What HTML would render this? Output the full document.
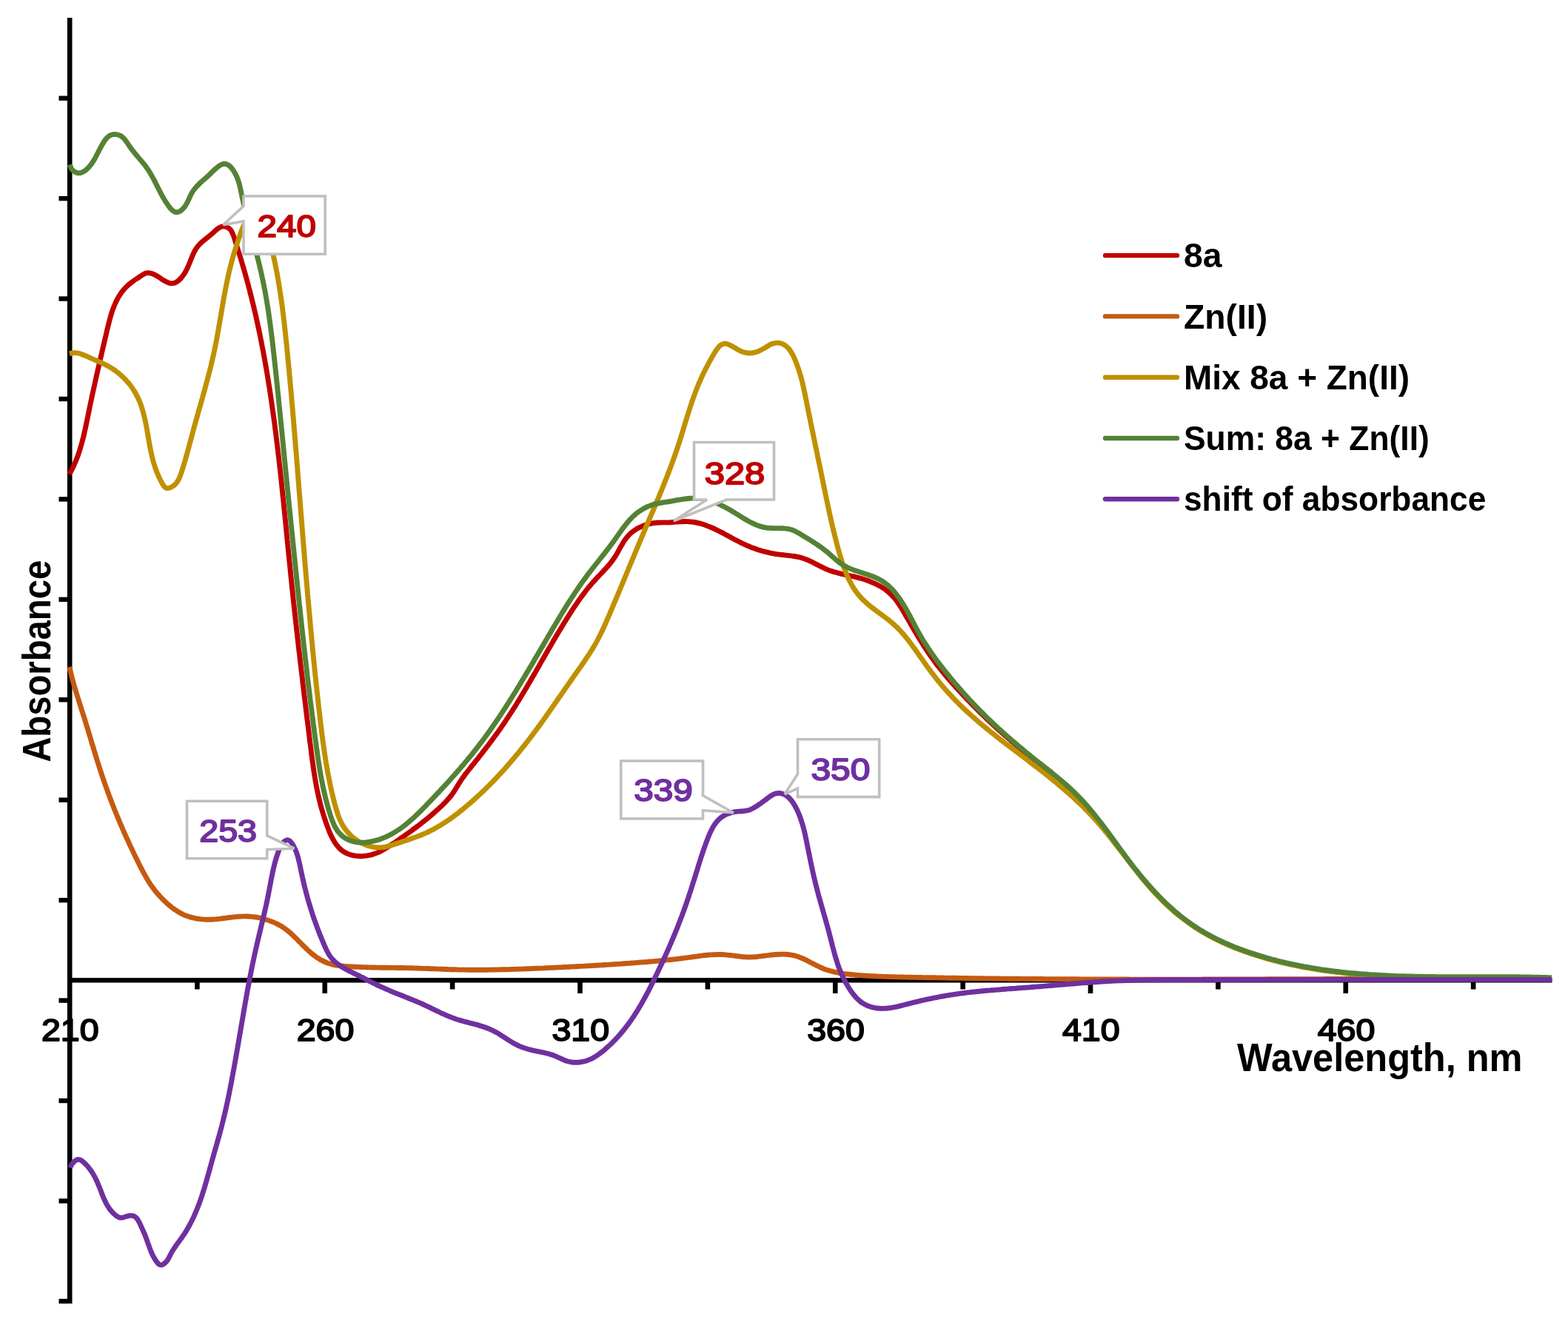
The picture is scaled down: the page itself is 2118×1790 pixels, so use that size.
<!DOCTYPE html>
<html><head><meta charset="utf-8"><title>Absorbance spectra</title>
<style>html,body{margin:0;padding:0;background:#fff;}svg{display:block;}text{font-family:"Liberation Sans",Arial,sans-serif;font-weight:bold;}</style></head><body>
<svg xmlns="http://www.w3.org/2000/svg" width="2118" height="1790" viewBox="0 0 2118 1790">
<rect width="2118" height="1790" fill="#fff"/>
<g><line x1="94.2" y1="24" x2="94.2" y2="1761" stroke="#000" stroke-width="6.6"/><line x1="79.5" y1="132.70" x2="94.2" y2="132.70" stroke="#000" stroke-width="6.4"/><line x1="79.5" y1="268.13" x2="94.2" y2="268.13" stroke="#000" stroke-width="6.4"/><line x1="79.5" y1="403.56" x2="94.2" y2="403.56" stroke="#000" stroke-width="6.4"/><line x1="79.5" y1="538.99" x2="94.2" y2="538.99" stroke="#000" stroke-width="6.4"/><line x1="79.5" y1="674.42" x2="94.2" y2="674.42" stroke="#000" stroke-width="6.4"/><line x1="79.5" y1="809.85" x2="94.2" y2="809.85" stroke="#000" stroke-width="6.4"/><line x1="79.5" y1="945.28" x2="94.2" y2="945.28" stroke="#000" stroke-width="6.4"/><line x1="79.5" y1="1080.71" x2="94.2" y2="1080.71" stroke="#000" stroke-width="6.4"/><line x1="79.5" y1="1216.14" x2="94.2" y2="1216.14" stroke="#000" stroke-width="6.4"/><line x1="79.5" y1="1351.57" x2="94.2" y2="1351.57" stroke="#000" stroke-width="6.4"/><line x1="79.5" y1="1487.00" x2="94.2" y2="1487.00" stroke="#000" stroke-width="6.4"/><line x1="79.5" y1="1622.43" x2="94.2" y2="1622.43" stroke="#000" stroke-width="6.4"/><line x1="79.5" y1="1757.86" x2="94.2" y2="1757.86" stroke="#000" stroke-width="6.4"/><line x1="91.2" y1="1324.3" x2="2096.5" y2="1324.3" stroke="#000" stroke-width="6.6"/><line x1="266.38" y1="1324.3" x2="266.38" y2="1336.5" stroke="#000" stroke-width="6.6"/><line x1="438.75" y1="1324.3" x2="438.75" y2="1342.0" stroke="#000" stroke-width="6.6"/><line x1="611.12" y1="1324.3" x2="611.12" y2="1336.5" stroke="#000" stroke-width="6.6"/><line x1="783.50" y1="1324.3" x2="783.50" y2="1342.0" stroke="#000" stroke-width="6.6"/><line x1="955.88" y1="1324.3" x2="955.88" y2="1336.5" stroke="#000" stroke-width="6.6"/><line x1="1128.25" y1="1324.3" x2="1128.25" y2="1342.0" stroke="#000" stroke-width="6.6"/><line x1="1300.62" y1="1324.3" x2="1300.62" y2="1336.5" stroke="#000" stroke-width="6.6"/><line x1="1473.00" y1="1324.3" x2="1473.00" y2="1342.0" stroke="#000" stroke-width="6.6"/><line x1="1645.38" y1="1324.3" x2="1645.38" y2="1336.5" stroke="#000" stroke-width="6.6"/><line x1="1817.75" y1="1324.3" x2="1817.75" y2="1342.0" stroke="#000" stroke-width="6.6"/><line x1="1990.12" y1="1324.3" x2="1990.12" y2="1336.5" stroke="#000" stroke-width="6.6"/></g>
<path d="M93.74,640.61 C94.1,639.9 95.4,637.7 96.2,636.2 C96.9,634.7 97.7,633.3 98.4,631.8 C99.1,630.3 99.8,628.8 100.5,627.2 C101.2,625.7 101.8,624.2 102.5,622.7 C103.1,621.1 103.7,619.6 104.3,618.0 C104.9,616.5 105.4,614.9 106.0,613.3 C106.5,611.8 107.0,610.2 107.5,608.6 C108.0,607.0 108.5,605.4 109.0,603.8 C109.5,602.2 109.9,600.6 110.4,599.0 C110.8,597.4 111.2,595.8 111.6,594.2 C112.1,592.6 112.5,590.9 112.9,589.3 C113.2,587.7 113.6,586.1 114.0,584.4 C114.4,582.8 114.7,581.2 115.1,579.5 C115.5,577.9 115.8,576.2 116.2,574.6 C116.5,573.0 116.8,571.3 117.2,569.7 C117.5,568.1 117.9,566.4 118.2,564.8 C118.5,563.1 118.9,561.5 119.2,559.9 C119.5,558.2 119.9,556.6 120.2,555.0 C120.5,553.3 120.9,551.7 121.2,550.1 C121.5,548.4 121.9,546.8 122.2,545.2 C122.6,543.6 122.9,541.9 123.3,540.3 C123.6,538.7 124.0,537.1 124.3,535.4 C124.6,533.8 125.0,532.2 125.3,530.6 C125.7,529.0 126.0,527.4 126.4,525.7 C126.8,524.1 127.1,522.5 127.5,520.9 C127.8,519.3 128.2,517.7 128.5,516.0 C128.9,514.4 129.3,512.8 129.6,511.2 C130.0,509.6 130.3,508.0 130.7,506.4 C131.1,504.7 131.4,503.1 131.8,501.5 C132.2,499.9 132.5,498.3 132.9,496.7 C133.3,495.0 133.6,493.4 134.0,491.8 C134.4,490.2 134.7,488.6 135.1,487.0 C135.5,485.3 135.9,483.7 136.2,482.1 C136.6,480.5 137.0,478.9 137.4,477.2 C137.7,475.6 138.1,474.0 138.5,472.4 C138.9,470.7 139.3,469.1 139.6,467.5 C140.0,465.8 140.4,464.2 140.8,462.6 C141.2,460.9 141.5,459.3 141.9,457.7 C142.3,456.0 142.7,454.4 143.1,452.8 C143.5,451.1 143.9,449.5 144.2,447.8 C144.6,446.2 145.0,444.5 145.4,442.9 C145.8,441.2 146.2,439.6 146.6,437.9 C147.0,436.3 147.4,434.7 147.9,433.0 C148.3,431.4 148.7,429.8 149.2,428.1 C149.7,426.5 150.1,424.9 150.6,423.3 C151.1,421.7 151.7,420.1 152.2,418.6 C152.8,417.0 153.3,415.5 154.0,413.9 C154.6,412.4 155.2,410.9 155.9,409.4 C156.5,407.9 157.3,406.4 158.0,405.0 C158.8,403.6 159.5,402.1 160.4,400.8 C161.2,399.4 162.1,398.0 163.0,396.7 C163.9,395.3 164.9,394.0 165.9,392.8 C166.9,391.5 168.0,390.3 169.1,389.1 C170.3,387.9 171.4,386.7 172.7,385.6 C173.9,384.5 175.2,383.4 176.6,382.4 C177.9,381.3 179.3,380.3 180.7,379.3 C182.1,378.3 183.5,377.3 185.0,376.4 C186.4,375.4 187.8,374.4 189.2,373.5 C190.7,372.5 192.1,371.5 193.5,370.7 C194.9,369.9 196.3,369.2 197.8,368.9 C199.3,368.6 200.8,368.6 202.3,368.8 C203.8,369.0 205.3,369.5 206.9,370.2 C208.4,370.8 209.9,371.6 211.4,372.5 C213.0,373.4 214.5,374.4 216.0,375.4 C217.5,376.4 219.0,377.5 220.6,378.4 C222.1,379.3 223.6,380.3 225.0,380.9 C226.5,381.6 228.0,382.3 229.5,382.6 C230.9,382.9 232.4,383.0 233.8,382.7 C235.2,382.5 236.6,382.0 238.0,381.2 C239.3,380.5 240.7,379.5 241.9,378.4 C243.2,377.2 244.4,375.9 245.5,374.5 C246.6,373.2 247.7,371.7 248.7,370.2 C249.7,368.7 250.5,367.2 251.4,365.6 C252.2,364.1 252.9,362.5 253.6,361.0 C254.3,359.4 255.0,357.8 255.6,356.3 C256.3,354.7 256.9,353.1 257.5,351.6 C258.1,350.0 258.7,348.5 259.4,347.0 C260.0,345.5 260.6,344.0 261.3,342.5 C262.0,341.0 262.7,339.6 263.5,338.2 C264.3,336.8 265.1,335.5 266.1,334.2 C267.0,332.9 268.0,331.7 269.1,330.5 C270.2,329.3 271.4,328.2 272.6,327.1 C273.8,326.0 275.1,325.0 276.5,323.9 C277.8,322.8 279.2,321.8 280.5,320.7 C281.9,319.6 283.3,318.5 284.6,317.3 C286.0,316.2 287.3,315.0 288.6,313.8 C289.9,312.6 291.2,311.3 292.5,310.2 C293.9,309.2 295.2,308.1 296.6,307.4 C298.0,306.6 299.4,306.0 300.9,305.9 C302.4,305.7 304.2,305.9 305.6,306.4 C307.1,306.9 308.5,307.7 309.6,308.6 C310.7,309.6 311.7,310.8 312.5,312.1 C313.3,313.4 314.0,314.9 314.6,316.4 C315.3,318.0 315.8,319.6 316.4,321.2 C316.9,322.8 317.4,324.5 317.9,326.1 C318.5,327.8 319.0,329.4 319.5,331.0 C320.0,332.6 320.5,334.3 321.0,335.9 C321.5,337.5 322.0,339.1 322.5,340.7 C323.0,342.4 323.5,344.0 324.0,345.6 C324.5,347.2 325.0,348.8 325.5,350.4 C326.0,352.0 326.4,353.7 326.9,355.3 C327.4,356.9 327.9,358.5 328.3,360.1 C328.8,361.7 329.3,363.3 329.7,364.9 C330.2,366.5 330.6,368.1 331.1,369.7 C331.5,371.3 332.0,372.9 332.4,374.5 C332.9,376.1 333.3,377.7 333.8,379.4 C334.2,381.0 334.6,382.6 335.1,384.2 C335.5,385.8 335.9,387.4 336.3,389.0 C336.8,390.6 337.2,392.2 337.6,393.8 C338.0,395.4 338.4,397.0 338.8,398.6 C339.2,400.3 339.6,401.9 340.0,403.5 C340.4,405.1 340.8,406.7 341.2,408.3 C341.6,409.9 342.0,411.6 342.4,413.2 C342.8,414.8 343.2,416.4 343.5,418.0 C343.9,419.6 344.3,421.3 344.7,422.9 C345.0,424.5 345.4,426.1 345.8,427.7 C346.1,429.3 346.5,431.0 346.9,432.6 C347.2,434.2 347.6,435.8 347.9,437.5 C348.3,439.1 348.6,440.7 349.0,442.3 C349.3,444.0 349.7,445.6 350.0,447.2 C350.4,448.8 350.7,450.5 351.0,452.1 C351.4,453.7 351.7,455.3 352.0,457.0 C352.3,458.6 352.7,460.2 353.0,461.9 C353.3,463.5 353.6,465.1 353.9,466.7 C354.3,468.4 354.6,470.0 354.9,471.6 C355.2,473.3 355.5,474.9 355.8,476.5 C356.1,478.2 356.4,479.8 356.7,481.4 C357.0,483.1 357.3,484.7 357.6,486.3 C357.9,488.0 358.2,489.6 358.5,491.3 C358.8,492.9 359.1,494.5 359.3,496.2 C359.6,497.8 359.9,499.4 360.2,501.1 C360.5,502.7 360.7,504.4 361.0,506.0 C361.3,507.6 361.6,509.3 361.8,510.9 C362.1,512.6 362.4,514.2 362.6,515.8 C362.9,517.5 363.1,519.1 363.4,520.8 C363.7,522.4 363.9,524.1 364.2,525.7 C364.4,527.4 364.7,529.0 364.9,530.6 C365.2,532.3 365.4,533.9 365.7,535.6 C365.9,537.2 366.2,538.9 366.4,540.5 C366.7,542.2 366.9,543.8 367.1,545.5 C367.4,547.1 367.6,548.8 367.8,550.4 C368.1,552.0 368.3,553.7 368.5,555.3 C368.8,557.0 369.0,558.6 369.2,560.3 C369.4,561.9 369.7,563.6 369.9,565.2 C370.1,566.9 370.3,568.5 370.6,570.2 C370.8,571.8 371.0,573.5 371.2,575.2 C371.4,576.8 371.6,578.5 371.8,580.1 C372.1,581.8 372.3,583.4 372.5,585.1 C372.7,586.7 372.9,588.4 373.1,590.0 C373.3,591.7 373.5,593.3 373.7,595.0 C373.9,596.6 374.1,598.3 374.3,600.0 C374.5,601.6 374.7,603.3 374.9,604.9 C375.1,606.6 375.3,608.2 375.5,609.9 C375.7,611.5 375.9,613.2 376.1,614.9 C376.3,616.5 376.5,618.2 376.7,619.8 C376.8,621.5 377.0,623.1 377.2,624.8 C377.4,626.5 377.6,628.1 377.8,629.8 C378.0,631.4 378.2,633.1 378.3,634.7 C378.5,636.4 378.7,638.1 378.9,639.7 C379.1,641.4 379.2,643.0 379.4,644.7 C379.6,646.3 379.8,648.0 380.0,649.7 C380.1,651.3 380.3,653.0 380.5,654.6 C380.7,656.3 380.8,658.0 381.0,659.6 C381.2,661.3 381.4,662.9 381.5,664.6 C381.7,666.3 381.9,667.9 382.0,669.6 C382.2,671.2 382.4,672.9 382.6,674.6 C382.7,676.2 382.9,677.9 383.1,679.5 C383.2,681.2 383.4,682.9 383.6,684.5 C383.7,686.2 383.9,687.8 384.1,689.5 C384.2,691.2 384.4,692.8 384.6,694.5 C384.7,696.1 384.9,697.8 385.1,699.5 C385.2,701.1 385.4,702.8 385.6,704.4 C385.7,706.1 385.9,707.8 386.1,709.4 C386.2,711.1 386.4,712.7 386.6,714.4 C386.7,716.1 386.9,717.7 387.0,719.4 C387.2,721.0 387.4,722.7 387.5,724.4 C387.7,726.0 387.9,727.7 388.0,729.3 C388.2,731.0 388.4,732.7 388.5,734.3 C388.7,736.0 388.8,737.6 389.0,739.3 C389.2,741.0 389.3,742.6 389.5,744.3 C389.7,745.9 389.8,747.6 390.0,749.2 C390.2,750.9 390.3,752.6 390.5,754.2 C390.7,755.9 390.8,757.5 391.0,759.2 C391.2,760.9 391.3,762.5 391.5,764.2 C391.7,765.8 391.8,767.5 392.0,769.1 C392.2,770.8 392.3,772.5 392.5,774.1 C392.7,775.8 392.8,777.4 393.0,779.1 C393.2,780.7 393.3,782.4 393.5,784.1 C393.7,785.7 393.8,787.4 394.0,789.0 C394.2,790.7 394.4,792.3 394.5,794.0 C394.7,795.6 394.9,797.3 395.1,799.0 C395.2,800.6 395.4,802.3 395.6,803.9 C395.8,805.6 395.9,807.2 396.1,808.9 C396.3,810.5 396.5,812.2 396.6,813.8 C396.8,815.5 397.0,817.2 397.2,818.8 C397.4,820.5 397.5,822.1 397.7,823.8 C397.9,825.4 398.1,827.1 398.2,828.7 C398.4,830.4 398.6,832.0 398.8,833.7 C399.0,835.3 399.2,837.0 399.3,838.6 C399.5,840.3 399.7,841.9 399.9,843.6 C400.1,845.3 400.3,846.9 400.4,848.6 C400.6,850.2 400.8,851.9 401.0,853.5 C401.2,855.2 401.4,856.8 401.6,858.5 C401.7,860.1 401.9,861.8 402.1,863.4 C402.3,865.1 402.5,866.7 402.7,868.4 C402.9,870.0 403.1,871.7 403.2,873.3 C403.4,875.0 403.6,876.6 403.8,878.3 C404.0,879.9 404.2,881.6 404.4,883.2 C404.6,884.9 404.8,886.6 405.0,888.2 C405.1,889.9 405.3,891.5 405.5,893.2 C405.7,894.8 405.9,896.5 406.1,898.1 C406.3,899.8 406.5,901.4 406.7,903.1 C406.9,904.7 407.1,906.4 407.3,908.0 C407.5,909.7 407.7,911.3 407.9,913.0 C408.1,914.6 408.3,916.3 408.5,917.9 C408.6,919.6 408.8,921.2 409.0,922.9 C409.2,924.6 409.4,926.2 409.6,927.9 C409.8,929.5 410.0,931.2 410.2,932.8 C410.4,934.5 410.6,936.1 410.8,937.8 C411.0,939.4 411.2,941.1 411.4,942.7 C411.6,944.4 411.8,946.0 412.0,947.7 C412.2,949.4 412.4,951.0 412.6,952.7 C412.8,954.3 413.0,956.0 413.2,957.6 C413.4,959.3 413.6,960.9 413.8,962.6 C414.0,964.3 414.2,965.9 414.4,967.6 C414.6,969.2 414.8,970.9 415.0,972.5 C415.3,974.2 415.5,975.8 415.7,977.5 C415.9,979.2 416.1,980.8 416.3,982.5 C416.5,984.1 416.7,985.8 416.9,987.4 C417.1,989.1 417.3,990.8 417.5,992.4 C417.7,994.1 417.9,995.7 418.1,997.4 C418.3,999.0 418.5,1000.7 418.7,1002.4 C418.9,1004.0 419.1,1005.7 419.4,1007.3 C419.6,1009.0 419.8,1010.7 420.0,1012.3 C420.2,1014.0 420.4,1015.6 420.6,1017.3 C420.8,1019.0 421.0,1020.6 421.2,1022.3 C421.5,1023.9 421.7,1025.6 421.9,1027.2 C422.1,1028.9 422.3,1030.6 422.6,1032.2 C422.8,1033.9 423.0,1035.5 423.3,1037.2 C423.5,1038.8 423.8,1040.5 424.0,1042.1 C424.3,1043.8 424.5,1045.4 424.8,1047.1 C425.0,1048.7 425.3,1050.3 425.6,1052.0 C425.9,1053.6 426.1,1055.3 426.4,1056.9 C426.7,1058.5 427.0,1060.2 427.3,1061.8 C427.6,1063.4 427.9,1065.0 428.3,1066.7 C428.6,1068.3 428.9,1069.9 429.3,1071.5 C429.6,1073.1 430.0,1074.7 430.3,1076.3 C430.7,1077.9 431.1,1079.5 431.5,1081.1 C431.8,1082.7 432.2,1084.3 432.6,1085.9 C433.1,1087.5 433.5,1089.1 433.9,1090.7 C434.3,1092.3 434.8,1093.8 435.3,1095.4 C435.7,1097.0 436.2,1098.6 436.7,1100.2 C437.2,1101.8 437.7,1103.3 438.2,1104.9 C438.7,1106.5 439.2,1108.1 439.8,1109.7 C440.3,1111.3 440.9,1112.9 441.5,1114.6 C442.1,1116.2 442.7,1117.8 443.3,1119.4 C443.9,1121.1 444.6,1122.7 445.2,1124.3 C445.9,1125.9 446.6,1127.5 447.4,1129.1 C448.1,1130.7 448.9,1132.2 449.7,1133.7 C450.5,1135.2 451.4,1136.7 452.3,1138.1 C453.2,1139.5 454.2,1140.9 455.2,1142.1 C456.2,1143.4 457.3,1144.7 458.4,1145.8 C459.5,1146.9 460.7,1148.0 462.0,1149.0 C463.2,1149.9 464.6,1150.8 465.9,1151.6 C467.3,1152.3 468.8,1153.0 470.3,1153.6 C471.8,1154.2 473.3,1154.7 474.9,1155.1 C476.5,1155.5 478.1,1155.9 479.7,1156.1 C481.4,1156.4 483.0,1156.5 484.7,1156.6 C486.4,1156.7 488.1,1156.7 489.8,1156.6 C491.5,1156.5 493.2,1156.3 494.8,1156.1 C496.5,1155.9 498.2,1155.6 499.9,1155.2 C501.5,1154.8 503.2,1154.4 504.7,1153.8 C506.3,1153.3 507.9,1152.7 509.4,1152.1 C511.0,1151.5 512.5,1150.7 514.0,1150.0 C515.5,1149.3 516.9,1148.5 518.4,1147.6 C519.8,1146.8 521.2,1145.9 522.6,1145.1 C524.1,1144.2 525.5,1143.3 526.9,1142.3 C528.3,1141.4 529.6,1140.5 531.0,1139.6 C532.4,1138.6 533.8,1137.7 535.2,1136.8 C536.6,1135.8 538.0,1134.9 539.3,1133.9 C540.7,1133.0 542.1,1132.1 543.4,1131.1 C544.8,1130.1 546.2,1129.2 547.5,1128.2 C548.9,1127.3 550.3,1126.3 551.6,1125.3 C553.0,1124.4 554.3,1123.4 555.7,1122.4 C557.0,1121.4 558.3,1120.4 559.7,1119.4 C561.0,1118.4 562.3,1117.4 563.7,1116.4 C565.0,1115.4 566.3,1114.4 567.6,1113.4 C568.9,1112.4 570.2,1111.3 571.5,1110.3 C572.8,1109.3 574.1,1108.2 575.4,1107.2 C576.7,1106.1 578.0,1105.1 579.3,1104.0 C580.6,1103.0 581.8,1101.9 583.1,1100.8 C584.4,1099.7 585.6,1098.6 586.9,1097.5 C588.1,1096.4 589.3,1095.3 590.6,1094.2 C591.8,1093.1 593.0,1092.0 594.3,1090.8 C595.5,1089.7 596.7,1088.6 597.9,1087.4 C599.1,1086.2 600.2,1085.1 601.4,1083.9 C602.5,1082.7 603.7,1081.5 604.8,1080.2 C605.9,1079.0 607.0,1077.7 608.0,1076.4 C609.1,1075.2 610.1,1073.8 611.1,1072.5 C612.0,1071.2 613.0,1069.8 613.9,1068.4 C614.8,1067.0 615.6,1065.5 616.5,1064.1 C617.4,1062.7 618.2,1061.2 619.1,1059.8 C620.0,1058.4 620.9,1057.0 621.8,1055.6 C622.7,1054.2 623.6,1052.8 624.6,1051.5 C625.6,1050.1 626.5,1048.8 627.5,1047.4 C628.5,1046.1 629.5,1044.8 630.5,1043.5 C631.6,1042.1 632.6,1040.8 633.6,1039.5 C634.7,1038.2 635.7,1036.9 636.7,1035.6 C637.8,1034.3 638.8,1033.0 639.9,1031.7 C640.9,1030.4 641.9,1029.1 643.0,1027.8 C644.0,1026.5 645.0,1025.2 646.1,1023.9 C647.1,1022.6 648.1,1021.3 649.2,1020.0 C650.2,1018.7 651.2,1017.4 652.2,1016.0 C653.3,1014.7 654.3,1013.4 655.3,1012.1 C656.3,1010.8 657.3,1009.4 658.4,1008.1 C659.4,1006.8 660.4,1005.5 661.4,1004.1 C662.4,1002.8 663.4,1001.5 664.4,1000.1 C665.4,998.8 666.4,997.5 667.4,996.1 C668.3,994.8 669.3,993.4 670.3,992.1 C671.3,990.7 672.3,989.4 673.2,988.0 C674.2,986.6 675.1,985.3 676.1,983.9 C677.1,982.6 678.0,981.2 679.0,979.8 C679.9,978.4 680.8,977.1 681.8,975.7 C682.7,974.3 683.6,972.9 684.5,971.5 C685.5,970.2 686.4,968.8 687.3,967.4 C688.2,966.0 689.1,964.6 690.0,963.2 C690.9,961.8 691.8,960.4 692.7,959.0 C693.6,957.6 694.5,956.2 695.4,954.8 C696.3,953.4 697.1,951.9 698.0,950.5 C698.9,949.1 699.8,947.7 700.6,946.3 C701.5,944.9 702.4,943.4 703.2,942.0 C704.1,940.6 705.0,939.2 705.8,937.7 C706.7,936.3 707.5,934.9 708.4,933.4 C709.2,932.0 710.1,930.6 710.9,929.2 C711.8,927.7 712.6,926.3 713.5,924.8 C714.3,923.4 715.1,922.0 716.0,920.5 C716.8,919.1 717.7,917.7 718.5,916.2 C719.3,914.8 720.2,913.3 721.0,911.9 C721.8,910.4 722.7,909.0 723.5,907.6 C724.3,906.1 725.1,904.7 726.0,903.2 C726.8,901.8 727.6,900.3 728.5,898.9 C729.3,897.4 730.1,896.0 730.9,894.5 C731.8,893.1 732.6,891.7 733.4,890.2 C734.3,888.8 735.1,887.3 735.9,885.9 C736.7,884.4 737.6,883.0 738.4,881.5 C739.2,880.1 740.1,878.7 740.9,877.2 C741.7,875.8 742.6,874.3 743.4,872.9 C744.2,871.4 745.1,870.0 745.9,868.6 C746.8,867.1 747.6,865.7 748.4,864.2 C749.3,862.8 750.1,861.4 751.0,859.9 C751.8,858.5 752.7,857.1 753.5,855.6 C754.4,854.2 755.2,852.8 756.1,851.4 C756.9,849.9 757.8,848.5 758.7,847.1 C759.5,845.7 760.4,844.2 761.3,842.8 C762.1,841.4 763.0,840.0 763.9,838.6 C764.8,837.1 765.6,835.7 766.5,834.3 C767.4,832.9 768.3,831.5 769.2,830.1 C770.1,828.7 771.0,827.3 771.9,825.9 C772.8,824.5 773.7,823.1 774.6,821.7 C775.5,820.3 776.5,818.9 777.4,817.6 C778.3,816.2 779.3,814.8 780.2,813.5 C781.1,812.1 782.1,810.7 783.1,809.4 C784.0,808.0 785.0,806.7 786.0,805.3 C787.0,804.0 788.0,802.7 789.0,801.4 C790.0,800.0 791.0,798.7 792.0,797.4 C793.0,796.1 794.1,794.8 795.1,793.5 C796.2,792.2 797.2,791.0 798.3,789.7 C799.4,788.4 800.5,787.2 801.6,785.9 C802.7,784.7 803.8,783.5 804.9,782.2 C806.1,781.0 807.2,779.8 808.3,778.6 C809.5,777.4 810.7,776.2 811.8,775.0 C812.9,773.8 814.1,772.5 815.2,771.3 C816.4,770.1 817.5,768.9 818.6,767.7 C819.7,766.4 820.9,765.2 821.9,763.9 C823.0,762.6 824.1,761.4 825.1,760.1 C826.1,758.7 827.1,757.4 828.1,756.1 C829.1,754.7 830.0,753.3 830.9,751.9 C831.8,750.5 832.7,749.0 833.5,747.6 C834.4,746.1 835.2,744.6 836.0,743.1 C836.8,741.7 837.6,740.2 838.4,738.7 C839.3,737.2 840.1,735.7 841.0,734.3 C841.8,732.9 842.7,731.4 843.6,730.1 C844.6,728.7 845.6,727.4 846.6,726.1 C847.6,724.8 848.7,723.6 849.9,722.4 C851.1,721.2 852.3,720.1 853.6,719.1 C854.8,718.0 856.2,717.0 857.6,716.1 C858.9,715.2 860.4,714.3 861.8,713.5 C863.3,712.7 864.8,712.0 866.3,711.3 C867.9,710.6 869.4,710.0 871.0,709.5 C872.6,708.9 874.2,708.5 875.8,708.0 C877.4,707.6 879.1,707.3 880.7,707.0 C882.3,706.7 884.0,706.5 885.6,706.3 C887.3,706.2 888.9,706.1 890.5,706.0 C892.2,706.0 893.8,706.0 895.5,705.9 C897.1,705.9 898.8,705.9 900.5,705.9 C902.1,705.8 903.8,705.7 905.5,705.7 C907.2,705.6 908.9,705.4 910.6,705.3 C912.3,705.2 914.0,705.1 915.7,705.0 C917.4,704.9 919.1,704.7 920.8,704.7 C922.5,704.6 924.2,704.5 925.9,704.5 C927.6,704.6 929.3,704.6 930.9,704.7 C932.6,704.8 934.2,705.0 935.9,705.2 C937.5,705.4 939.1,705.7 940.7,706.0 C942.3,706.3 943.9,706.7 945.5,707.1 C947.1,707.6 948.6,708.0 950.2,708.5 C951.7,709.0 953.3,709.6 954.8,710.2 C956.4,710.7 957.9,711.3 959.4,712.0 C961.0,712.6 962.5,713.3 964.0,714.0 C965.5,714.7 967.0,715.4 968.5,716.1 C970.0,716.9 971.5,717.6 973.0,718.4 C974.5,719.2 976.0,720.0 977.5,720.7 C979.0,721.5 980.4,722.3 981.9,723.1 C983.4,723.9 984.9,724.8 986.4,725.6 C987.9,726.4 989.3,727.2 990.8,728.0 C992.3,728.8 993.8,729.6 995.3,730.3 C996.8,731.1 998.3,731.9 999.8,732.6 C1001.3,733.4 1002.8,734.1 1004.3,734.8 C1005.8,735.6 1007.3,736.3 1008.8,736.9 C1010.3,737.6 1011.8,738.2 1013.4,738.8 C1014.9,739.5 1016.4,740.0 1018.0,740.6 C1019.5,741.2 1021.1,741.7 1022.6,742.2 C1024.2,742.8 1025.7,743.2 1027.3,743.7 C1028.9,744.2 1030.5,744.6 1032.0,745.0 C1033.6,745.5 1035.2,745.9 1036.8,746.2 C1038.4,746.6 1040.0,746.9 1041.7,747.3 C1043.3,747.6 1044.9,747.9 1046.5,748.2 C1048.2,748.4 1049.8,748.7 1051.5,748.9 C1053.1,749.2 1054.8,749.3 1056.5,749.5 C1058.1,749.7 1059.8,749.9 1061.5,750.1 C1063.2,750.3 1064.9,750.4 1066.5,750.6 C1068.2,750.8 1069.9,751.0 1071.5,751.3 C1073.2,751.5 1074.8,751.8 1076.5,752.1 C1078.1,752.5 1079.8,752.8 1081.4,753.2 C1083.0,753.7 1084.6,754.1 1086.1,754.7 C1087.7,755.2 1089.2,755.8 1090.8,756.5 C1092.3,757.1 1093.8,757.8 1095.4,758.5 C1096.9,759.3 1098.4,760.0 1099.9,760.8 C1101.4,761.5 1102.9,762.3 1104.4,763.1 C1105.9,763.8 1107.4,764.6 1108.9,765.4 C1110.3,766.1 1111.8,766.9 1113.4,767.6 C1114.9,768.3 1116.4,769.0 1117.9,769.6 C1119.4,770.2 1121.0,770.8 1122.5,771.3 C1124.1,771.9 1125.6,772.4 1127.2,772.8 C1128.8,773.3 1130.4,773.7 1132.0,774.1 C1133.6,774.5 1135.2,774.9 1136.8,775.3 C1138.4,775.7 1140.0,776.0 1141.6,776.4 C1143.2,776.7 1144.9,777.0 1146.5,777.4 C1148.1,777.8 1149.7,778.1 1151.4,778.5 C1153.0,778.8 1154.6,779.2 1156.3,779.6 C1157.9,780.0 1159.5,780.4 1161.1,780.9 C1162.8,781.3 1164.4,781.8 1166.0,782.3 C1167.6,782.8 1169.2,783.3 1170.8,783.9 C1172.4,784.4 1174.0,785.0 1175.5,785.7 C1177.1,786.3 1178.6,786.9 1180.2,787.6 C1181.7,788.3 1183.2,789.0 1184.7,789.8 C1186.1,790.5 1187.6,791.3 1189.0,792.1 C1190.5,793.0 1191.9,793.8 1193.2,794.7 C1194.6,795.6 1195.9,796.6 1197.2,797.6 C1198.5,798.6 1199.8,799.6 1201.0,800.7 C1202.2,801.8 1203.4,802.9 1204.6,804.1 C1205.7,805.3 1206.8,806.5 1207.9,807.7 C1208.9,809.0 1210.0,810.3 1211.0,811.6 C1212.0,813.0 1212.9,814.3 1213.9,815.7 C1214.8,817.1 1215.8,818.5 1216.7,820.0 C1217.6,821.4 1218.4,822.8 1219.3,824.3 C1220.2,825.7 1221.0,827.2 1221.9,828.7 C1222.7,830.2 1223.6,831.6 1224.4,833.1 C1225.3,834.6 1226.1,836.1 1227.0,837.5 C1227.8,839.0 1228.6,840.4 1229.5,841.9 C1230.3,843.4 1231.1,844.8 1232.0,846.3 C1232.8,847.7 1233.7,849.2 1234.5,850.6 C1235.4,852.0 1236.2,853.5 1237.1,854.9 C1237.9,856.3 1238.8,857.7 1239.6,859.2 C1240.5,860.6 1241.3,862.0 1242.2,863.4 C1243.1,864.8 1243.9,866.2 1244.8,867.6 C1245.7,869.0 1246.6,870.4 1247.4,871.8 C1248.3,873.2 1249.2,874.6 1250.1,876.0 C1251.0,877.4 1251.9,878.7 1252.9,880.1 C1253.8,881.5 1254.7,882.8 1255.6,884.2 C1256.6,885.5 1257.5,886.9 1258.5,888.2 C1259.4,889.6 1260.4,890.9 1261.4,892.3 C1262.3,893.6 1263.3,894.9 1264.3,896.3 C1265.3,897.6 1266.3,898.9 1267.4,900.2 C1268.4,901.5 1269.4,902.8 1270.5,904.1 C1271.5,905.4 1272.5,906.7 1273.6,908.0 C1274.7,909.3 1275.7,910.6 1276.8,911.9 C1277.9,913.2 1278.9,914.4 1280.0,915.7 C1281.1,917.0 1282.2,918.2 1283.3,919.5 C1284.4,920.8 1285.5,922.0 1286.6,923.3 C1287.7,924.5 1288.9,925.8 1290.0,927.0 C1291.1,928.3 1292.2,929.5 1293.3,930.7 C1294.5,932.0 1295.6,933.2 1296.7,934.4 C1297.9,935.6 1299.0,936.9 1300.1,938.1 C1301.3,939.3 1302.4,940.5 1303.6,941.7 C1304.7,942.9 1305.9,944.2 1307.0,945.4 C1308.2,946.6 1309.3,947.8 1310.5,949.0 C1311.7,950.2 1312.8,951.3 1314.0,952.5 C1315.2,953.7 1316.3,954.9 1317.5,956.1 C1318.7,957.3 1319.9,958.4 1321.0,959.6 C1322.2,960.8 1323.4,962.0 1324.6,963.1 C1325.8,964.3 1327.0,965.4 1328.2,966.6 C1329.4,967.8 1330.6,968.9 1331.8,970.1 C1333.0,971.2 1334.2,972.3 1335.4,973.5 C1336.6,974.6 1337.8,975.8 1339.0,976.9 C1340.3,978.0 1341.5,979.2 1342.7,980.3 C1343.9,981.4 1345.1,982.5 1346.4,983.7 C1347.6,984.8 1348.8,985.9 1350.1,987.0 C1351.3,988.1 1352.6,989.2 1353.8,990.3 C1355.0,991.4 1356.3,992.5 1357.5,993.6 C1358.8,994.7 1360.0,995.8 1361.3,996.9 C1362.6,998.0 1363.8,999.1 1365.1,1000.1 C1366.3,1001.2 1367.6,1002.3 1368.9,1003.4 C1370.2,1004.4 1371.4,1005.5 1372.7,1006.6 C1374.0,1007.6 1375.3,1008.7 1376.5,1009.8 C1377.8,1010.8 1379.1,1011.9 1380.4,1012.9 C1381.7,1014.0 1383.0,1015.0 1384.3,1016.1 C1385.6,1017.1 1386.9,1018.2 1388.2,1019.2 C1389.5,1020.2 1390.8,1021.3 1392.1,1022.3 C1393.4,1023.3 1394.7,1024.4 1396.1,1025.4 C1397.4,1026.4 1398.7,1027.4 1400.0,1028.4 C1401.3,1029.5 1402.7,1030.5 1404.0,1031.5 C1405.3,1032.5 1406.7,1033.5 1408.0,1034.5 C1409.3,1035.5 1410.7,1036.5 1412.0,1037.5 C1413.4,1038.5 1414.7,1039.5 1416.1,1040.5 C1417.4,1041.4 1419.5,1042.9 1420.1,1043.4" fill="none" stroke="#C00000" stroke-width="6.9" stroke-linejoin="round" stroke-linecap="butt"/>
<path d="M93.77,901.00 C94.0,901.8 94.5,904.2 94.9,905.9 C95.3,907.5 95.7,909.1 96.1,910.7 C96.5,912.3 96.9,913.9 97.3,915.6 C97.7,917.2 98.2,918.8 98.6,920.4 C99.0,922.0 99.5,923.6 99.9,925.2 C100.4,926.8 100.9,928.4 101.3,930.0 C101.8,931.6 102.3,933.2 102.8,934.8 C103.2,936.4 103.7,938.0 104.2,939.5 C104.7,941.1 105.2,942.7 105.7,944.3 C106.2,945.9 106.7,947.5 107.2,949.1 C107.7,950.7 108.2,952.3 108.7,953.8 C109.2,955.4 109.7,957.0 110.2,958.6 C110.7,960.2 111.2,961.8 111.7,963.4 C112.3,964.9 112.8,966.5 113.3,968.1 C113.8,969.7 114.3,971.3 114.8,972.9 C115.3,974.5 115.7,976.1 116.2,977.7 C116.7,979.2 117.2,980.8 117.7,982.4 C118.2,984.0 118.7,985.6 119.2,987.2 C119.6,988.8 120.1,990.4 120.6,992.0 C121.1,993.6 121.6,995.2 122.0,996.8 C122.5,998.4 123.0,1000.0 123.5,1001.6 C123.9,1003.2 124.4,1004.8 124.9,1006.3 C125.4,1007.9 125.9,1009.5 126.3,1011.1 C126.8,1012.7 127.3,1014.3 127.8,1015.9 C128.3,1017.5 128.7,1019.1 129.2,1020.7 C129.7,1022.3 130.2,1023.9 130.7,1025.5 C131.2,1027.0 131.7,1028.6 132.2,1030.2 C132.7,1031.8 133.2,1033.4 133.7,1035.0 C134.2,1036.6 134.7,1038.2 135.2,1039.7 C135.7,1041.3 136.2,1042.9 136.8,1044.5 C137.3,1046.1 137.8,1047.6 138.4,1049.2 C138.9,1050.8 139.4,1052.4 140.0,1053.9 C140.5,1055.5 141.1,1057.1 141.6,1058.7 C142.2,1060.2 142.7,1061.8 143.3,1063.4 C143.8,1064.9 144.4,1066.5 145.0,1068.1 C145.5,1069.6 146.1,1071.2 146.7,1072.8 C147.3,1074.3 147.8,1075.9 148.4,1077.4 C149.0,1079.0 149.6,1080.6 150.2,1082.1 C150.8,1083.7 151.4,1085.2 152.0,1086.8 C152.6,1088.3 153.2,1089.9 153.8,1091.4 C154.4,1093.0 155.1,1094.5 155.7,1096.1 C156.3,1097.6 156.9,1099.2 157.6,1100.7 C158.2,1102.2 158.8,1103.8 159.5,1105.3 C160.1,1106.9 160.7,1108.4 161.4,1109.9 C162.0,1111.5 162.7,1113.0 163.3,1114.5 C164.0,1116.1 164.7,1117.6 165.3,1119.1 C166.0,1120.6 166.7,1122.2 167.3,1123.7 C168.0,1125.2 168.7,1126.7 169.4,1128.3 C170.0,1129.8 170.7,1131.3 171.4,1132.8 C172.1,1134.3 172.8,1135.8 173.5,1137.3 C174.2,1138.9 174.9,1140.4 175.6,1141.9 C176.3,1143.4 177.0,1144.9 177.7,1146.4 C178.4,1147.9 179.1,1149.4 179.8,1150.9 C180.6,1152.4 181.3,1153.9 182.0,1155.4 C182.7,1156.9 183.5,1158.4 184.2,1159.9 C184.9,1161.4 185.7,1162.9 186.4,1164.4 C187.2,1165.8 187.9,1167.3 188.6,1168.8 C189.4,1170.3 190.1,1171.8 190.9,1173.3 C191.7,1174.7 192.4,1176.2 193.2,1177.7 C194.0,1179.1 194.8,1180.6 195.6,1182.0 C196.4,1183.5 197.2,1184.9 198.0,1186.4 C198.9,1187.8 199.7,1189.2 200.6,1190.6 C201.5,1192.0 202.4,1193.4 203.3,1194.8 C204.3,1196.2 205.2,1197.6 206.2,1198.9 C207.2,1200.2 208.2,1201.6 209.2,1202.9 C210.3,1204.2 211.3,1205.5 212.4,1206.8 C213.5,1208.0 214.6,1209.3 215.7,1210.5 C216.9,1211.8 218.0,1213.0 219.2,1214.2 C220.4,1215.4 221.5,1216.5 222.8,1217.7 C224.0,1218.8 225.2,1220.0 226.4,1221.1 C227.7,1222.2 228.9,1223.3 230.2,1224.3 C231.5,1225.4 232.8,1226.4 234.1,1227.4 C235.5,1228.4 236.8,1229.3 238.2,1230.2 C239.5,1231.1 241.0,1232.0 242.4,1232.8 C243.8,1233.6 245.3,1234.3 246.8,1235.0 C248.3,1235.7 249.8,1236.4 251.3,1237.0 C252.9,1237.6 254.4,1238.1 256.0,1238.6 C257.6,1239.1 259.2,1239.5 260.9,1239.9 C262.5,1240.3 264.1,1240.7 265.8,1241.0 C267.4,1241.3 269.1,1241.5 270.7,1241.7 C272.4,1241.9 274.1,1242.0 275.7,1242.1 C277.4,1242.2 279.1,1242.3 280.7,1242.3 C282.4,1242.3 284.0,1242.2 285.7,1242.2 C287.4,1242.1 289.0,1242.0 290.7,1241.9 C292.3,1241.7 294.0,1241.6 295.6,1241.4 C297.3,1241.2 298.9,1241.0 300.6,1240.8 C302.2,1240.6 303.9,1240.4 305.5,1240.2 C307.2,1239.9 308.8,1239.7 310.5,1239.5 C312.1,1239.3 313.8,1239.1 315.4,1238.9 C317.1,1238.7 318.7,1238.6 320.4,1238.4 C322.0,1238.3 323.7,1238.1 325.3,1238.1 C327.0,1238.0 328.6,1237.9 330.3,1237.9 C331.9,1237.9 333.6,1237.9 335.2,1238.0 C336.9,1238.1 338.6,1238.2 340.2,1238.4 C341.9,1238.5 343.5,1238.8 345.2,1239.0 C346.8,1239.3 348.5,1239.6 350.1,1239.9 C351.8,1240.3 353.4,1240.7 355.0,1241.1 C356.6,1241.5 358.3,1242.0 359.9,1242.5 C361.5,1243.0 363.1,1243.5 364.6,1244.1 C366.2,1244.7 367.8,1245.3 369.3,1245.9 C370.9,1246.6 372.4,1247.3 373.9,1248.0 C375.4,1248.7 376.8,1249.5 378.3,1250.3 C379.7,1251.1 381.1,1252.0 382.5,1252.9 C383.9,1253.8 385.2,1254.8 386.5,1255.8 C387.8,1256.8 389.1,1257.8 390.4,1258.9 C391.6,1259.9 392.9,1261.0 394.1,1262.1 C395.3,1263.2 396.5,1264.4 397.7,1265.6 C398.9,1266.7 400.1,1267.9 401.3,1269.1 C402.5,1270.3 403.6,1271.5 404.8,1272.6 C406.0,1273.8 407.2,1275.0 408.3,1276.2 C409.5,1277.4 410.7,1278.6 411.9,1279.8 C413.1,1281.0 414.3,1282.1 415.5,1283.3 C416.7,1284.4 418.0,1285.5 419.2,1286.6 C420.5,1287.7 421.8,1288.8 423.1,1289.8 C424.4,1290.8 425.7,1291.8 427.1,1292.8 C428.5,1293.7 429.9,1294.6 431.3,1295.5 C432.7,1296.4 434.1,1297.2 435.6,1297.9 C437.1,1298.7 438.6,1299.4 440.1,1300.0 C441.6,1300.7 443.1,1301.3 444.7,1301.8 C446.2,1302.3 447.8,1302.7 449.4,1303.1 C451.0,1303.5 452.6,1303.8 454.3,1304.1 C455.9,1304.3 457.5,1304.6 459.2,1304.8 C460.8,1305.0 462.5,1305.1 464.2,1305.3 C465.8,1305.4 467.5,1305.5 469.2,1305.6 C470.8,1305.7 472.5,1305.8 474.2,1305.9 C475.9,1306.0 477.5,1306.1 479.2,1306.2 C480.9,1306.3 482.5,1306.3 484.2,1306.4 C485.9,1306.5 487.5,1306.5 489.2,1306.6 C490.9,1306.6 492.5,1306.7 494.2,1306.7 C495.9,1306.8 497.5,1306.8 499.2,1306.9 C500.9,1306.9 502.5,1307.0 504.2,1307.0 C505.9,1307.0 507.5,1307.1 509.2,1307.1 C510.8,1307.1 512.5,1307.1 514.2,1307.2 C515.8,1307.2 517.5,1307.2 519.2,1307.2 C520.8,1307.3 522.5,1307.3 524.2,1307.3 C525.8,1307.3 527.5,1307.3 529.1,1307.4 C530.8,1307.4 532.5,1307.4 534.1,1307.4 C535.8,1307.4 537.5,1307.5 539.1,1307.5 C540.8,1307.5 542.5,1307.5 544.1,1307.5 C545.8,1307.6 547.4,1307.6 549.1,1307.6 C550.8,1307.7 552.4,1307.7 554.1,1307.7 C555.8,1307.8 557.4,1307.8 559.1,1307.9 C560.7,1307.9 562.4,1308.0 564.1,1308.0 C565.7,1308.1 567.4,1308.1 569.1,1308.2 C570.7,1308.2 572.4,1308.3 574.1,1308.4 C575.7,1308.4 577.4,1308.5 579.0,1308.5 C580.7,1308.6 582.4,1308.7 584.0,1308.7 C585.7,1308.8 587.4,1308.9 589.0,1308.9 C590.7,1309.0 592.4,1309.1 594.0,1309.1 C595.7,1309.2 597.4,1309.3 599.0,1309.3 C600.7,1309.4 602.3,1309.5 604.0,1309.5 C605.7,1309.6 607.3,1309.6 609.0,1309.7 C610.7,1309.7 612.3,1309.8 614.0,1309.8 C615.7,1309.9 617.3,1309.9 619.0,1310.0 C620.7,1310.0 622.3,1310.0 624.0,1310.1 C625.7,1310.1 627.3,1310.1 629.0,1310.1 C630.6,1310.2 632.3,1310.2 634.0,1310.2 C635.6,1310.2 637.3,1310.2 639.0,1310.2 C640.6,1310.2 642.3,1310.3 644.0,1310.3 C645.6,1310.3 647.3,1310.2 649.0,1310.2 C650.6,1310.2 652.3,1310.2 653.9,1310.2 C655.6,1310.2 657.3,1310.2 658.9,1310.2 C660.6,1310.2 662.3,1310.1 663.9,1310.1 C665.6,1310.1 667.3,1310.1 668.9,1310.0 C670.6,1310.0 672.3,1310.0 673.9,1309.9 C675.6,1309.9 677.2,1309.9 678.9,1309.8 C680.6,1309.8 682.2,1309.7 683.9,1309.7 C685.6,1309.7 687.2,1309.6 688.9,1309.6 C690.6,1309.5 692.2,1309.5 693.9,1309.4 C695.5,1309.4 697.2,1309.3 698.9,1309.2 C700.5,1309.2 702.2,1309.1 703.9,1309.1 C705.5,1309.0 707.2,1309.0 708.9,1308.9 C710.5,1308.8 712.2,1308.8 713.8,1308.7 C715.5,1308.6 717.2,1308.6 718.8,1308.5 C720.5,1308.4 722.2,1308.4 723.8,1308.3 C725.5,1308.2 727.2,1308.1 728.8,1308.1 C730.5,1308.0 732.1,1307.9 733.8,1307.9 C735.5,1307.8 737.1,1307.7 738.8,1307.6 C740.5,1307.6 742.1,1307.5 743.8,1307.4 C745.4,1307.3 747.1,1307.2 748.8,1307.2 C750.4,1307.1 752.1,1307.0 753.8,1306.9 C755.4,1306.9 757.1,1306.8 758.8,1306.7 C760.4,1306.6 762.1,1306.5 763.7,1306.4 C765.4,1306.4 767.1,1306.3 768.7,1306.2 C770.4,1306.1 772.1,1306.0 773.7,1305.9 C775.4,1305.9 777.0,1305.8 778.7,1305.7 C780.4,1305.6 782.0,1305.5 783.7,1305.4 C785.3,1305.3 787.0,1305.2 788.7,1305.1 C790.3,1305.0 792.0,1305.0 793.7,1304.9 C795.3,1304.8 797.0,1304.7 798.6,1304.6 C800.3,1304.5 802.0,1304.4 803.6,1304.3 C805.3,1304.2 807.0,1304.1 808.6,1304.0 C810.3,1303.9 811.9,1303.8 813.6,1303.7 C815.3,1303.6 816.9,1303.5 818.6,1303.4 C820.2,1303.3 821.9,1303.2 823.6,1303.1 C825.2,1303.0 826.9,1302.8 828.5,1302.7 C830.2,1302.6 831.9,1302.5 833.5,1302.4 C835.2,1302.3 836.9,1302.2 838.5,1302.1 C840.2,1301.9 841.8,1301.8 843.5,1301.7 C845.2,1301.6 846.8,1301.5 848.5,1301.4 C850.1,1301.2 851.8,1301.1 853.5,1301.0 C855.1,1300.9 856.8,1300.8 858.4,1300.6 C860.1,1300.5 861.8,1300.4 863.4,1300.2 C865.1,1300.1 866.7,1300.0 868.4,1299.9 C870.1,1299.7 871.7,1299.6 873.4,1299.5 C875.0,1299.3 876.7,1299.2 878.4,1299.0 C880.0,1298.9 881.7,1298.8 883.3,1298.6 C885.0,1298.5 886.6,1298.3 888.3,1298.2 C890.0,1298.0 891.6,1297.9 893.3,1297.7 C894.9,1297.6 896.6,1297.4 898.3,1297.2 C899.9,1297.1 901.6,1296.9 903.2,1296.7 C904.9,1296.6 906.5,1296.4 908.2,1296.2 C909.8,1296.0 911.5,1295.8 913.2,1295.6 C914.8,1295.4 916.5,1295.3 918.1,1295.1 C919.8,1294.9 921.4,1294.6 923.1,1294.4 C924.7,1294.2 926.4,1294.0 928.0,1293.8 C929.7,1293.6 931.3,1293.3 933.0,1293.1 C934.6,1292.9 936.3,1292.6 937.9,1292.4 C939.6,1292.2 941.2,1291.9 942.9,1291.7 C944.5,1291.5 946.2,1291.3 947.8,1291.1 C949.5,1290.9 951.1,1290.7 952.8,1290.5 C954.4,1290.3 956.1,1290.1 957.7,1290.0 C959.4,1289.9 961.0,1289.7 962.7,1289.7 C964.3,1289.6 966.0,1289.5 967.6,1289.5 C969.3,1289.4 970.9,1289.4 972.6,1289.4 C974.2,1289.5 975.9,1289.5 977.5,1289.6 C979.2,1289.7 980.9,1289.9 982.5,1290.1 C984.2,1290.2 985.8,1290.4 987.5,1290.6 C989.1,1290.8 990.8,1291.1 992.5,1291.3 C994.1,1291.5 995.8,1291.7 997.4,1291.9 C999.1,1292.1 1000.8,1292.3 1002.4,1292.5 C1004.1,1292.6 1005.7,1292.8 1007.4,1292.9 C1009.1,1292.9 1010.7,1293.0 1012.4,1293.0 C1014.0,1293.0 1015.7,1293.0 1017.4,1292.9 C1019.0,1292.8 1020.7,1292.6 1022.4,1292.5 C1024.0,1292.3 1025.7,1292.1 1027.3,1291.9 C1029.0,1291.7 1030.7,1291.5 1032.3,1291.3 C1034.0,1291.1 1035.7,1290.8 1037.3,1290.6 C1039.0,1290.4 1040.7,1290.2 1042.3,1290.0 C1044.0,1289.8 1045.7,1289.6 1047.3,1289.5 C1049.0,1289.4 1050.7,1289.3 1052.3,1289.2 C1054.0,1289.1 1055.7,1289.1 1057.3,1289.1 C1059.0,1289.1 1060.7,1289.2 1062.3,1289.3 C1063.9,1289.4 1065.6,1289.6 1067.2,1289.8 C1068.8,1290.1 1070.4,1290.4 1072.0,1290.7 C1073.6,1291.1 1075.2,1291.5 1076.8,1292.0 C1078.3,1292.5 1079.9,1293.1 1081.4,1293.7 C1083.0,1294.3 1084.5,1295.0 1086.0,1295.7 C1087.5,1296.4 1089.0,1297.1 1090.5,1297.9 C1092.0,1298.6 1093.5,1299.4 1095.0,1300.2 C1096.5,1301.0 1098.0,1301.8 1099.5,1302.5 C1101.0,1303.3 1102.4,1304.1 1104.0,1304.8 C1105.5,1305.6 1107.0,1306.3 1108.5,1307.0 C1110.0,1307.6 1111.5,1308.3 1113.1,1308.9 C1114.6,1309.5 1116.2,1310.0 1117.8,1310.5 C1119.4,1311.0 1120.9,1311.5 1122.5,1311.9 C1124.1,1312.4 1125.7,1312.8 1127.4,1313.1 C1129.0,1313.5 1130.6,1313.8 1132.2,1314.1 C1133.9,1314.4 1135.5,1314.7 1137.1,1315.0 C1138.8,1315.2 1140.4,1315.5 1142.1,1315.7 C1143.7,1315.9 1145.4,1316.1 1147.1,1316.3 C1148.7,1316.5 1150.4,1316.6 1152.1,1316.8 C1153.7,1316.9 1155.4,1317.1 1157.1,1317.2 C1158.7,1317.4 1160.4,1317.5 1162.1,1317.6 C1163.7,1317.7 1165.4,1317.9 1167.1,1318.0 C1168.7,1318.1 1170.4,1318.2 1172.1,1318.3 C1173.7,1318.4 1175.4,1318.5 1177.1,1318.6 C1178.7,1318.7 1180.4,1318.7 1182.1,1318.8 C1183.7,1318.9 1185.4,1319.0 1187.0,1319.1 C1188.7,1319.1 1190.4,1319.2 1192.0,1319.3 C1193.7,1319.3 1195.4,1319.4 1197.0,1319.4 C1198.7,1319.5 1200.4,1319.5 1202.0,1319.6 C1203.7,1319.6 1205.3,1319.7 1207.0,1319.7 C1208.7,1319.8 1210.3,1319.8 1212.0,1319.9 C1213.7,1319.9 1215.3,1319.9 1217.0,1320.0 C1218.7,1320.0 1220.3,1320.1 1222.0,1320.1 C1223.6,1320.1 1225.3,1320.2 1227.0,1320.2 C1228.6,1320.2 1230.3,1320.3 1232.0,1320.3 C1233.6,1320.3 1235.3,1320.4 1236.9,1320.4 C1238.6,1320.4 1240.3,1320.5 1241.9,1320.5 C1243.6,1320.5 1245.3,1320.6 1246.9,1320.6 C1248.6,1320.6 1250.3,1320.6 1251.9,1320.7 C1253.6,1320.7 1255.2,1320.7 1256.9,1320.8 C1258.6,1320.8 1260.2,1320.8 1261.9,1320.8 C1263.6,1320.9 1265.2,1320.9 1266.9,1320.9 C1268.6,1321.0 1270.2,1321.0 1271.9,1321.0 C1273.6,1321.0 1275.2,1321.1 1276.9,1321.1 C1278.5,1321.1 1280.2,1321.2 1281.9,1321.2 C1283.5,1321.2 1285.2,1321.2 1286.9,1321.3 C1288.5,1321.3 1290.2,1321.3 1291.9,1321.3 C1293.5,1321.4 1295.2,1321.4 1296.9,1321.4 C1298.5,1321.4 1300.2,1321.4 1301.8,1321.5 C1303.5,1321.5 1305.2,1321.5 1306.8,1321.5 C1308.5,1321.6 1310.2,1321.6 1311.8,1321.6 C1313.5,1321.6 1315.2,1321.6 1316.8,1321.7 C1318.5,1321.7 1320.2,1321.7 1321.8,1321.7 C1323.5,1321.8 1325.2,1321.8 1326.8,1321.8 C1328.5,1321.8 1330.1,1321.8 1331.8,1321.9 C1333.5,1321.9 1335.1,1321.9 1336.8,1321.9 C1338.5,1321.9 1340.1,1321.9 1341.8,1322.0 C1343.5,1322.0 1345.1,1322.0 1346.8,1322.0 C1348.5,1322.0 1350.1,1322.1 1351.8,1322.1 C1353.5,1322.1 1355.1,1322.1 1356.8,1322.1 C1358.4,1322.1 1360.1,1322.2 1361.8,1322.2 C1363.4,1322.2 1365.1,1322.2 1366.8,1322.2 C1368.4,1322.2 1370.1,1322.3 1371.8,1322.3 C1373.4,1322.3 1375.1,1322.3 1376.8,1322.3 C1378.4,1322.3 1380.1,1322.3 1381.8,1322.4 C1383.4,1322.4 1385.1,1322.4 1386.8,1322.4 C1388.4,1322.4 1390.1,1322.4 1391.7,1322.4 C1393.4,1322.4 1395.1,1322.5 1396.7,1322.5 C1398.4,1322.5 1400.1,1322.5 1401.7,1322.5 C1403.4,1322.5 1405.1,1322.5 1406.7,1322.5 C1408.4,1322.6 1410.1,1322.6 1411.7,1322.6 C1413.4,1322.6 1415.1,1322.6 1416.7,1322.6 C1418.4,1322.6 1420.1,1322.6 1421.7,1322.6 C1423.4,1322.7 1425.0,1322.7 1426.7,1322.7 C1428.4,1322.7 1430.0,1322.7 1431.7,1322.7 C1433.4,1322.7 1435.0,1322.7 1436.7,1322.7 C1438.4,1322.7 1440.0,1322.8 1441.7,1322.8 C1443.4,1322.8 1445.0,1322.8 1446.7,1322.8 C1448.4,1322.8 1450.0,1322.8 1451.7,1322.8 C1453.4,1322.8 1455.0,1322.8 1456.7,1322.8 C1458.3,1322.8 1460.0,1322.9 1461.7,1322.9 C1463.3,1322.9 1465.0,1322.9 1466.7,1322.9 C1468.3,1322.9 1470.0,1322.9 1471.7,1322.9 C1473.3,1322.9 1475.0,1322.9 1476.7,1322.9 C1478.3,1322.9 1480.0,1322.9 1481.7,1322.9 C1483.3,1322.9 1485.0,1323.0 1486.7,1323.0 C1488.3,1323.0 1490.0,1323.0 1491.6,1323.0 C1493.3,1323.0 1495.0,1323.0 1496.6,1323.0 C1498.3,1323.0 1500.0,1323.0 1501.6,1323.0 C1503.3,1323.0 1505.0,1323.0 1506.6,1323.0 C1508.3,1323.0 1510.0,1323.0 1511.6,1323.0 C1513.3,1323.0 1515.0,1323.0 1516.6,1323.0 C1518.3,1323.0 1520.0,1323.0 1521.6,1323.0 C1523.3,1323.0 1524.9,1323.1 1526.6,1323.1 C1528.3,1323.1 1529.9,1323.1 1531.6,1323.1 C1533.3,1323.1 1534.9,1323.1 1536.6,1323.1 C1538.3,1323.1 1539.9,1323.1 1541.6,1323.1 C1543.3,1323.1 1544.9,1323.1 1546.6,1323.1 C1548.3,1323.1 1549.9,1323.1 1551.6,1323.1 C1553.3,1323.1 1554.9,1323.1 1556.6,1323.1 C1558.2,1323.1 1559.9,1323.1 1561.6,1323.1 C1563.2,1323.1 1564.9,1323.1 1566.6,1323.1 C1568.2,1323.1 1569.9,1323.1 1571.6,1323.1 C1573.2,1323.1 1574.9,1323.1 1576.6,1323.1 C1578.2,1323.1 1579.9,1323.1 1581.6,1323.1 C1583.2,1323.1 1584.9,1323.1 1586.5,1323.1 C1588.2,1323.1 1589.9,1323.1 1591.5,1323.1 C1593.2,1323.1 1594.9,1323.1 1596.5,1323.1 C1598.2,1323.1 1599.9,1323.1 1601.5,1323.1 C1603.2,1323.1 1604.9,1323.1 1606.5,1323.1 C1608.2,1323.1 1609.9,1323.1 1611.5,1323.1 C1613.2,1323.1 1614.9,1323.1 1616.5,1323.1 C1618.2,1323.1 1619.8,1323.1 1621.5,1323.1 C1623.2,1323.1 1624.8,1323.1 1626.5,1323.0 C1628.2,1323.0 1629.8,1323.0 1631.5,1323.0 C1633.2,1323.0 1634.8,1323.0 1636.5,1323.0 C1638.2,1323.0 1639.8,1323.0 1641.5,1323.0 C1643.2,1323.0 1644.8,1323.0 1646.5,1323.0 C1648.1,1323.0 1649.8,1323.0 1651.5,1323.0 C1653.1,1323.0 1654.8,1323.0 1656.5,1323.0 C1658.1,1323.0 1659.8,1323.0 1661.5,1323.0 C1663.1,1323.0 1664.8,1323.0 1666.5,1323.0 C1668.1,1323.0 1669.8,1323.0 1671.5,1323.0 C1673.1,1323.0 1674.8,1322.9 1676.5,1322.9 C1678.1,1322.9 1679.8,1322.9 1681.4,1322.9 C1683.1,1322.9 1684.8,1322.9 1686.4,1322.9 C1688.1,1322.9 1689.8,1322.9 1691.4,1322.9 C1693.1,1322.9 1694.8,1322.9 1696.4,1322.9 C1698.1,1322.9 1699.8,1322.9 1701.4,1322.9 C1703.1,1322.9 1704.8,1322.9 1706.4,1322.9 C1708.1,1322.8 1709.7,1322.8 1711.4,1322.8 C1713.1,1322.8 1714.7,1322.8 1716.4,1322.8 C1718.1,1322.8 1719.7,1322.8 1721.4,1322.8 C1723.1,1322.8 1724.7,1322.8 1726.4,1322.8 C1728.1,1322.8 1729.7,1322.8 1731.4,1322.8 C1733.1,1322.8 1734.7,1322.8 1736.4,1322.8 C1738.1,1322.7 1739.7,1322.7 1741.4,1322.7 C1743.0,1322.7 1744.7,1322.7 1746.4,1322.7 C1748.0,1322.7 1749.7,1322.7 1751.4,1322.7 C1753.0,1322.7 1754.7,1322.7 1756.4,1322.7 C1758.0,1322.7 1759.7,1322.7 1761.4,1322.7 C1763.0,1322.7 1764.7,1322.6 1766.4,1322.6 C1768.0,1322.6 1769.7,1322.6 1771.3,1322.6 C1773.0,1322.6 1774.7,1322.6 1776.3,1322.6 C1778.0,1322.6 1779.7,1322.6 1781.3,1322.6 C1783.0,1322.6 1784.7,1322.6 1786.3,1322.6 C1788.0,1322.6 1789.7,1322.5 1791.3,1322.5 C1793.0,1322.5 1794.7,1322.5 1796.3,1322.5 C1798.0,1322.5 1799.6,1322.5 1801.3,1322.5 C1803.0,1322.5 1804.6,1322.5 1806.3,1322.5 C1808.0,1322.5 1809.6,1322.5 1811.3,1322.5 C1813.0,1322.4 1814.6,1322.4 1816.3,1322.4 C1818.0,1322.4 1819.6,1322.4 1821.3,1322.4 C1823.0,1322.4 1824.6,1322.4 1826.3,1322.4 C1828.0,1322.4 1829.6,1322.4 1831.3,1322.4 C1832.9,1322.4 1834.6,1322.4 1836.3,1322.4 C1837.9,1322.3 1839.6,1322.3 1841.3,1322.3 C1842.9,1322.3 1844.6,1322.3 1846.3,1322.3 C1847.9,1322.3 1849.6,1322.3 1851.3,1322.3 C1852.9,1322.3 1854.6,1322.3 1856.3,1322.3 C1857.9,1322.3 1859.6,1322.3 1861.2,1322.2 C1862.9,1322.2 1864.6,1322.2 1866.2,1322.2 C1867.9,1322.2 1869.6,1322.2 1871.2,1322.2 C1872.9,1322.2 1874.6,1322.2 1876.2,1322.2 C1877.9,1322.2 1879.6,1322.2 1881.2,1322.2 C1882.9,1322.2 1884.6,1322.2 1886.2,1322.1 C1887.9,1322.1 1889.6,1322.1 1891.2,1322.1 C1892.9,1322.1 1894.5,1322.1 1896.2,1322.1 C1897.9,1322.1 1899.5,1322.1 1901.2,1322.1 C1902.9,1322.1 1904.5,1322.1 1906.2,1322.1 C1907.9,1322.1 1909.5,1322.1 1911.2,1322.0 C1912.9,1322.0 1914.5,1322.0 1916.2,1322.0 C1917.9,1322.0 1919.5,1322.0 1921.2,1322.0 C1922.8,1322.0 1924.5,1322.0 1926.2,1322.0 C1927.8,1322.0 1929.5,1322.0 1931.2,1322.0 C1932.8,1322.0 1934.5,1322.0 1936.2,1322.0 C1937.8,1321.9 1939.5,1321.9 1941.2,1321.9 C1942.8,1321.9 1944.5,1321.9 1946.2,1321.9 C1947.8,1321.9 1949.5,1321.9 1951.2,1321.9 C1952.8,1321.9 1954.5,1321.9 1956.1,1321.9 C1957.8,1321.9 1959.5,1321.9 1961.1,1321.9 C1962.8,1321.9 1964.5,1321.9 1966.1,1321.9 C1967.8,1321.8 1969.5,1321.8 1971.1,1321.8 C1972.8,1321.8 1974.5,1321.8 1976.1,1321.8 C1977.8,1321.8 1979.5,1321.8 1981.1,1321.8 C1982.8,1321.8 1984.5,1321.8 1986.1,1321.8 C1987.8,1321.8 1989.4,1321.8 1991.1,1321.8 C1992.8,1321.8 1994.4,1321.8 1996.1,1321.8 C1997.8,1321.8 1999.4,1321.8 2001.1,1321.8 C2002.8,1321.8 2004.4,1321.7 2006.1,1321.7 C2007.8,1321.7 2009.4,1321.7 2011.1,1321.7 C2012.8,1321.7 2014.4,1321.7 2016.1,1321.7 C2017.7,1321.7 2019.4,1321.7 2021.1,1321.7 C2022.7,1321.7 2024.4,1321.7 2026.1,1321.7 C2027.7,1321.7 2029.4,1321.7 2031.1,1321.7 C2032.7,1321.7 2034.4,1321.7 2036.1,1321.7 C2037.7,1321.7 2039.4,1321.7 2041.1,1321.7 C2042.7,1321.7 2044.4,1321.7 2046.1,1321.7 C2047.7,1321.7 2049.4,1321.7 2051.0,1321.7 C2052.7,1321.7 2054.4,1321.7 2056.0,1321.7 C2057.7,1321.7 2059.4,1321.7 2061.0,1321.7 C2062.7,1321.7 2064.4,1321.7 2066.0,1321.6 C2067.7,1321.6 2069.4,1321.6 2071.0,1321.6 C2072.7,1321.6 2074.4,1321.6 2076.0,1321.6 C2077.7,1321.6 2079.4,1321.6 2081.0,1321.6 C2082.7,1321.6 2084.3,1321.6 2086.0,1321.6 C2087.7,1321.6 2089.3,1321.6 2091.0,1321.6 C2092.7,1321.6 2095.2,1321.6 2096.0,1321.6" fill="none" stroke="#C55A11" stroke-width="6.9" stroke-linejoin="round" stroke-linecap="butt"/>
<path d="M93.88,477.82 C94.8,477.6 97.4,476.9 99.1,476.7 C100.8,476.6 102.5,476.7 104.1,476.9 C105.7,477.1 107.3,477.5 108.8,478.0 C110.4,478.5 111.9,479.1 113.4,479.7 C114.9,480.4 116.4,481.1 118.0,481.7 C119.5,482.4 121.0,483.1 122.6,483.8 C124.1,484.5 125.6,485.1 127.2,485.8 C128.7,486.4 130.3,487.1 131.8,487.8 C133.3,488.5 134.9,489.2 136.4,489.9 C137.9,490.6 139.5,491.3 141.0,492.0 C142.5,492.8 143.9,493.5 145.4,494.3 C146.9,495.1 148.3,496.0 149.8,496.8 C151.2,497.7 152.6,498.6 154.0,499.5 C155.3,500.5 156.7,501.5 158.0,502.5 C159.4,503.5 160.6,504.5 161.9,505.6 C163.2,506.7 164.4,507.8 165.6,509.0 C166.8,510.1 168.0,511.3 169.2,512.5 C170.3,513.7 171.4,514.9 172.5,516.2 C173.6,517.4 174.7,518.7 175.7,520.0 C176.7,521.3 177.7,522.7 178.6,524.0 C179.5,525.4 180.4,526.8 181.3,528.2 C182.2,529.6 183.0,531.0 183.8,532.5 C184.6,533.9 185.3,535.4 186.0,536.8 C186.7,538.3 187.4,539.8 188.1,541.3 C188.7,542.8 189.3,544.4 189.9,545.9 C190.4,547.5 191.0,549.0 191.5,550.6 C192.0,552.1 192.5,553.7 192.9,555.3 C193.4,556.9 193.8,558.5 194.2,560.1 C194.6,561.7 195.0,563.4 195.4,565.0 C195.8,566.6 196.1,568.3 196.5,569.9 C196.8,571.5 197.2,573.2 197.5,574.9 C197.8,576.5 198.1,578.2 198.4,579.8 C198.7,581.5 199.0,583.2 199.3,584.8 C199.6,586.5 199.9,588.2 200.2,589.8 C200.4,591.5 200.7,593.2 201.0,594.8 C201.3,596.5 201.6,598.2 201.9,599.8 C202.2,601.5 202.5,603.1 202.8,604.8 C203.1,606.4 203.5,608.1 203.8,609.7 C204.1,611.4 204.5,613.0 204.9,614.6 C205.2,616.3 205.6,617.9 206.0,619.5 C206.5,621.1 206.9,622.7 207.3,624.3 C207.8,625.9 208.3,627.5 208.8,629.0 C209.3,630.6 209.8,632.2 210.3,633.7 C210.9,635.3 211.5,636.8 212.1,638.4 C212.7,639.9 213.4,641.5 214.0,643.0 C214.7,644.5 215.4,646.0 216.2,647.5 C217.0,649.1 217.7,650.6 218.6,652.1 C219.4,653.6 220.2,655.3 221.2,656.5 C222.2,657.7 223.3,659.0 224.6,659.4 C225.9,659.8 227.6,659.6 229.1,659.1 C230.6,658.7 232.2,657.8 233.6,656.8 C235.0,655.9 236.2,654.8 237.3,653.6 C238.3,652.4 239.3,651.0 240.2,649.6 C241.0,648.2 241.8,646.7 242.5,645.2 C243.1,643.6 243.7,642.0 244.3,640.4 C244.9,638.8 245.4,637.1 246.0,635.5 C246.5,633.8 247.0,632.2 247.5,630.5 C248.0,628.9 248.5,627.3 249.0,625.6 C249.5,624.0 250.0,622.4 250.4,620.8 C250.9,619.1 251.3,617.5 251.8,615.9 C252.3,614.3 252.7,612.7 253.1,611.1 C253.6,609.5 254.0,607.8 254.5,606.2 C254.9,604.6 255.3,603.0 255.7,601.4 C256.2,599.8 256.6,598.2 257.0,596.6 C257.4,595.0 257.9,593.4 258.3,591.8 C258.7,590.2 259.1,588.6 259.6,587.0 C260.0,585.4 260.4,583.8 260.9,582.2 C261.3,580.6 261.7,579.0 262.2,577.4 C262.6,575.8 263.1,574.2 263.5,572.6 C264.0,571.1 264.4,569.5 264.8,567.9 C265.3,566.3 265.7,564.7 266.2,563.1 C266.6,561.5 267.1,559.9 267.5,558.2 C268.0,556.6 268.4,555.0 268.9,553.4 C269.4,551.8 269.8,550.2 270.3,548.6 C270.7,547.0 271.2,545.4 271.6,543.8 C272.1,542.2 272.5,540.6 273.0,539.0 C273.4,537.4 273.9,535.8 274.3,534.2 C274.8,532.6 275.2,531.0 275.7,529.4 C276.1,527.8 276.5,526.2 277.0,524.5 C277.4,522.9 277.9,521.3 278.3,519.7 C278.7,518.1 279.2,516.5 279.6,514.9 C280.0,513.3 280.5,511.6 280.9,510.0 C281.3,508.4 281.7,506.8 282.1,505.2 C282.6,503.6 283.0,501.9 283.4,500.3 C283.8,498.7 284.2,497.1 284.6,495.5 C285.0,493.9 285.4,492.2 285.8,490.6 C286.1,489.0 286.5,487.4 286.9,485.7 C287.3,484.1 287.6,482.5 288.0,480.9 C288.4,479.2 288.7,477.6 289.1,476.0 C289.4,474.3 289.8,472.7 290.1,471.1 C290.5,469.4 290.8,467.8 291.1,466.2 C291.4,464.5 291.8,462.9 292.1,461.3 C292.4,459.6 292.7,458.0 293.0,456.4 C293.3,454.7 293.6,453.1 293.9,451.4 C294.2,449.8 294.5,448.2 294.8,446.5 C295.1,444.9 295.4,443.2 295.6,441.6 C295.9,440.0 296.2,438.3 296.5,436.7 C296.8,435.0 297.1,433.4 297.3,431.7 C297.6,430.1 297.9,428.5 298.2,426.8 C298.5,425.2 298.7,423.5 299.0,421.9 C299.3,420.3 299.6,418.6 299.9,417.0 C300.1,415.3 300.4,413.7 300.7,412.1 C301.0,410.4 301.3,408.8 301.6,407.1 C301.8,405.5 302.1,403.9 302.4,402.2 C302.7,400.6 303.0,398.9 303.3,397.3 C303.6,395.7 303.9,394.0 304.2,392.4 C304.5,390.8 304.9,389.1 305.2,387.5 C305.5,385.9 305.8,384.3 306.2,382.6 C306.5,381.0 306.8,379.4 307.2,377.8 C307.5,376.1 307.9,374.5 308.2,372.9 C308.6,371.3 309.0,369.6 309.3,368.0 C309.7,366.4 310.1,364.8 310.5,363.2 C310.9,361.6 311.3,360.0 311.7,358.3 C312.1,356.7 312.5,355.1 312.9,353.5 C313.4,351.9 313.8,350.3 314.3,348.7 C314.7,347.1 315.2,345.5 315.6,343.9 C316.1,342.3 316.6,340.7 317.1,339.1 C317.6,337.5 318.1,336.0 318.6,334.4 C319.1,332.8 319.6,331.2 320.1,329.6 C320.7,328.0 321.2,326.4 321.7,324.8 C322.3,323.2 322.8,321.6 323.3,320.0 C323.9,318.5 324.4,316.9 325.0,315.3 C325.5,313.7 326.1,312.1 326.7,310.5 C327.3,308.9 327.9,307.4 328.6,305.9 C329.3,304.3 330.1,302.9 330.9,301.4 C331.8,300.0 332.7,298.6 333.8,297.3 C334.9,296.0 336.1,294.7 337.4,293.6 C338.7,292.5 340.1,291.4 341.5,290.9 C342.9,290.3 344.3,290.0 345.6,290.3 C346.9,290.5 348.2,291.3 349.4,292.2 C350.5,293.2 351.6,294.7 352.7,296.2 C353.7,297.7 354.7,299.5 355.6,301.2 C356.4,302.9 357.3,304.7 358.0,306.5 C358.8,308.2 359.4,309.9 360.1,311.6 C360.7,313.3 361.3,314.9 361.8,316.5 C362.3,318.2 362.8,319.8 363.3,321.4 C363.7,323.0 364.2,324.5 364.6,326.1 C365.0,327.7 365.4,329.3 365.8,330.9 C366.2,332.5 366.6,334.1 367.0,335.7 C367.4,337.3 367.8,338.9 368.2,340.5 C368.5,342.1 368.9,343.7 369.3,345.3 C369.6,346.9 370.0,348.5 370.3,350.1 C370.7,351.7 371.0,353.3 371.4,354.9 C371.7,356.5 372.0,358.1 372.3,359.8 C372.7,361.4 373.0,363.0 373.3,364.6 C373.6,366.3 373.9,367.9 374.2,369.5 C374.5,371.1 374.8,372.8 375.1,374.4 C375.4,376.0 375.7,377.6 376.0,379.3 C376.2,380.9 376.5,382.5 376.8,384.2 C377.1,385.8 377.3,387.5 377.6,389.1 C377.8,390.7 378.1,392.4 378.3,394.0 C378.6,395.7 378.8,397.3 379.1,399.0 C379.3,400.6 379.6,402.3 379.8,403.9 C380.0,405.5 380.3,407.2 380.5,408.8 C380.7,410.5 380.9,412.2 381.2,413.8 C381.4,415.5 381.6,417.1 381.8,418.8 C382.0,420.4 382.2,422.1 382.4,423.7 C382.6,425.4 382.8,427.0 383.0,428.7 C383.2,430.4 383.4,432.0 383.6,433.7 C383.8,435.3 384.0,437.0 384.2,438.7 C384.4,440.3 384.6,442.0 384.7,443.6 C384.9,445.3 385.1,447.0 385.3,448.6 C385.5,450.3 385.7,452.0 385.8,453.6 C386.0,455.3 386.2,456.9 386.3,458.6 C386.5,460.3 386.7,461.9 386.9,463.6 C387.0,465.3 387.2,466.9 387.4,468.6 C387.5,470.3 387.7,471.9 387.9,473.6 C388.0,475.2 388.2,476.9 388.4,478.6 C388.5,480.2 388.7,481.9 388.8,483.6 C389.0,485.2 389.2,486.9 389.3,488.5 C389.5,490.2 389.6,491.9 389.8,493.5 C390.0,495.2 390.1,496.9 390.3,498.5 C390.4,500.2 390.6,501.8 390.7,503.5 C390.9,505.2 391.0,506.8 391.2,508.5 C391.4,510.1 391.5,511.8 391.7,513.5 C391.8,515.1 392.0,516.8 392.1,518.4 C392.3,520.1 392.4,521.8 392.6,523.4 C392.7,525.1 392.9,526.7 393.0,528.4 C393.2,530.1 393.3,531.7 393.5,533.4 C393.6,535.0 393.8,536.7 393.9,538.4 C394.0,540.0 394.2,541.7 394.3,543.3 C394.5,545.0 394.6,546.7 394.8,548.3 C394.9,550.0 395.1,551.6 395.2,553.3 C395.3,555.0 395.5,556.6 395.6,558.3 C395.8,559.9 395.9,561.6 396.0,563.3 C396.2,564.9 396.3,566.6 396.5,568.2 C396.6,569.9 396.7,571.6 396.9,573.2 C397.0,574.9 397.2,576.5 397.3,578.2 C397.4,579.8 397.6,581.5 397.7,583.2 C397.9,584.8 398.0,586.5 398.1,588.1 C398.3,589.8 398.4,591.5 398.5,593.1 C398.7,594.8 398.8,596.4 398.9,598.1 C399.1,599.8 399.2,601.4 399.3,603.1 C399.5,604.7 399.6,606.4 399.8,608.0 C399.9,609.7 400.0,611.4 400.2,613.0 C400.3,614.7 400.4,616.3 400.6,618.0 C400.7,619.7 400.8,621.3 401.0,623.0 C401.1,624.6 401.2,626.3 401.4,628.0 C401.5,629.6 401.6,631.3 401.8,632.9 C401.9,634.6 402.0,636.3 402.1,637.9 C402.3,639.6 402.4,641.2 402.5,642.9 C402.7,644.6 402.8,646.2 402.9,647.9 C403.1,649.5 403.2,651.2 403.3,652.9 C403.5,654.5 403.6,656.2 403.7,657.8 C403.9,659.5 404.0,661.2 404.1,662.8 C404.3,664.5 404.4,666.1 404.5,667.8 C404.7,669.5 404.8,671.1 404.9,672.8 C405.0,674.4 405.2,676.1 405.3,677.8 C405.4,679.4 405.6,681.1 405.7,682.7 C405.8,684.4 406.0,686.1 406.1,687.7 C406.2,689.4 406.4,691.0 406.5,692.7 C406.6,694.4 406.8,696.0 406.9,697.7 C407.0,699.3 407.2,701.0 407.3,702.7 C407.4,704.3 407.6,706.0 407.7,707.6 C407.8,709.3 408.0,711.0 408.1,712.6 C408.2,714.3 408.4,716.0 408.5,717.6 C408.6,719.3 408.8,720.9 408.9,722.6 C409.0,724.3 409.2,725.9 409.3,727.6 C409.4,729.2 409.6,730.9 409.7,732.6 C409.8,734.2 410.0,735.9 410.1,737.6 C410.2,739.2 410.4,740.9 410.5,742.5 C410.6,744.2 410.8,745.9 410.9,747.5 C411.0,749.2 411.2,750.8 411.3,752.5 C411.5,754.2 411.6,755.8 411.7,757.5 C411.9,759.1 412.0,760.8 412.1,762.5 C412.3,764.1 412.4,765.8 412.6,767.5 C412.7,769.1 412.8,770.8 413.0,772.4 C413.1,774.1 413.2,775.8 413.4,777.4 C413.5,779.1 413.7,780.7 413.8,782.4 C413.9,784.1 414.1,785.7 414.2,787.4 C414.4,789.0 414.5,790.7 414.7,792.4 C414.8,794.0 414.9,795.7 415.1,797.4 C415.2,799.0 415.4,800.7 415.5,802.3 C415.7,804.0 415.8,805.7 415.9,807.3 C416.1,809.0 416.2,810.6 416.4,812.3 C416.5,814.0 416.7,815.6 416.8,817.3 C417.0,818.9 417.1,820.6 417.3,822.3 C417.4,823.9 417.6,825.6 417.7,827.2 C417.9,828.9 418.0,830.6 418.2,832.2 C418.3,833.9 418.5,835.5 418.6,837.2 C418.8,838.9 418.9,840.5 419.1,842.2 C419.2,843.8 419.4,845.5 419.5,847.2 C419.7,848.8 419.8,850.5 420.0,852.1 C420.1,853.8 420.3,855.5 420.4,857.1 C420.6,858.8 420.8,860.4 420.9,862.1 C421.1,863.8 421.2,865.4 421.4,867.1 C421.5,868.7 421.7,870.4 421.9,872.1 C422.0,873.7 422.2,875.4 422.3,877.0 C422.5,878.7 422.7,880.4 422.8,882.0 C423.0,883.7 423.2,885.3 423.3,887.0 C423.5,888.6 423.7,890.3 423.8,892.0 C424.0,893.6 424.2,895.3 424.3,896.9 C424.5,898.6 424.7,900.3 424.8,901.9 C425.0,903.6 425.2,905.2 425.3,906.9 C425.5,908.5 425.7,910.2 425.8,911.9 C426.0,913.5 426.2,915.2 426.4,916.8 C426.5,918.5 426.7,920.1 426.9,921.8 C427.1,923.5 427.2,925.1 427.4,926.8 C427.6,928.4 427.8,930.1 428.0,931.7 C428.1,933.4 428.3,935.0 428.5,936.7 C428.7,938.4 428.9,940.0 429.0,941.7 C429.2,943.3 429.4,945.0 429.6,946.6 C429.8,948.3 430.0,950.0 430.1,951.6 C430.3,953.3 430.5,954.9 430.7,956.6 C430.9,958.2 431.1,959.9 431.3,961.5 C431.5,963.2 431.7,964.8 431.9,966.5 C432.0,968.2 432.2,969.8 432.4,971.5 C432.6,973.1 432.8,974.8 433.0,976.4 C433.2,978.1 433.4,979.7 433.6,981.4 C433.8,983.0 434.0,984.7 434.2,986.3 C434.4,988.0 434.6,989.6 434.8,991.3 C435.1,992.9 435.3,994.6 435.5,996.2 C435.7,997.9 435.9,999.5 436.1,1001.2 C436.4,1002.8 436.6,1004.5 436.8,1006.1 C437.0,1007.8 437.3,1009.4 437.5,1011.1 C437.7,1012.7 438.0,1014.4 438.2,1016.0 C438.5,1017.7 438.7,1019.3 439.0,1021.0 C439.2,1022.6 439.5,1024.3 439.7,1025.9 C440.0,1027.5 440.3,1029.2 440.5,1030.8 C440.8,1032.5 441.1,1034.1 441.4,1035.8 C441.7,1037.4 441.9,1039.0 442.2,1040.7 C442.5,1042.3 442.8,1044.0 443.1,1045.6 C443.4,1047.2 443.8,1048.9 444.1,1050.5 C444.4,1052.1 444.7,1053.8 445.0,1055.4 C445.4,1057.0 445.7,1058.7 446.1,1060.3 C446.4,1061.9 446.8,1063.6 447.1,1065.2 C447.5,1066.8 447.8,1068.5 448.2,1070.1 C448.6,1071.7 449.0,1073.3 449.4,1075.0 C449.8,1076.6 450.2,1078.2 450.6,1079.8 C451.0,1081.5 451.4,1083.1 451.8,1084.7 C452.3,1086.3 452.7,1087.9 453.1,1089.6 C453.6,1091.2 454.0,1092.8 454.5,1094.4 C455.0,1096.0 455.5,1097.6 456.0,1099.2 C456.6,1100.7 457.1,1102.3 457.7,1103.9 C458.3,1105.4 458.9,1106.9 459.6,1108.4 C460.3,1109.9 461.0,1111.4 461.8,1112.9 C462.6,1114.3 463.4,1115.7 464.3,1117.1 C465.2,1118.5 466.2,1119.9 467.2,1121.2 C468.2,1122.5 469.2,1123.8 470.4,1125.0 C471.5,1126.3 472.6,1127.5 473.8,1128.6 C475.0,1129.8 476.3,1130.9 477.6,1131.9 C478.9,1133.0 480.2,1134.0 481.6,1134.9 C483.0,1135.8 484.4,1136.7 485.9,1137.6 C487.3,1138.4 488.8,1139.2 490.4,1139.9 C491.9,1140.6 493.5,1141.3 495.1,1141.8 C496.7,1142.4 498.3,1142.9 499.9,1143.3 C501.5,1143.8 503.2,1144.1 504.8,1144.4 C506.5,1144.6 508.1,1144.8 509.8,1144.9 C511.5,1145.0 513.1,1145.0 514.8,1144.9 C516.4,1144.8 518.1,1144.6 519.7,1144.3 C521.3,1144.0 522.9,1143.6 524.5,1143.2 C526.1,1142.7 527.7,1142.2 529.3,1141.7 C530.9,1141.2 532.4,1140.6 534.0,1140.1 C535.6,1139.6 537.2,1139.1 538.8,1138.6 C540.4,1138.1 542.0,1137.6 543.6,1137.0 C545.2,1136.5 546.7,1136.0 548.3,1135.5 C549.9,1134.9 551.5,1134.4 553.1,1133.9 C554.7,1133.3 556.2,1132.8 557.8,1132.2 C559.4,1131.7 560.9,1131.1 562.5,1130.5 C564.0,1129.9 565.6,1129.3 567.1,1128.7 C568.7,1128.1 570.2,1127.5 571.7,1126.8 C573.3,1126.2 574.8,1125.5 576.3,1124.8 C577.8,1124.1 579.3,1123.4 580.8,1122.7 C582.3,1121.9 583.8,1121.2 585.2,1120.4 C586.7,1119.6 588.1,1118.8 589.6,1118.0 C591.0,1117.2 592.5,1116.4 593.9,1115.5 C595.3,1114.7 596.7,1113.8 598.1,1112.9 C599.5,1112.0 600.9,1111.1 602.3,1110.2 C603.7,1109.3 605.1,1108.3 606.5,1107.4 C607.8,1106.4 609.2,1105.4 610.6,1104.5 C611.9,1103.5 613.2,1102.5 614.6,1101.5 C615.9,1100.5 617.2,1099.5 618.6,1098.4 C619.9,1097.4 621.2,1096.4 622.5,1095.3 C623.8,1094.3 625.1,1093.2 626.4,1092.2 C627.7,1091.1 629.0,1090.0 630.3,1088.9 C631.5,1087.9 632.8,1086.8 634.1,1085.7 C635.3,1084.6 636.6,1083.5 637.9,1082.4 C639.1,1081.3 640.4,1080.2 641.6,1079.1 C642.8,1078.0 644.1,1076.8 645.3,1075.7 C646.5,1074.6 647.7,1073.4 649.0,1072.3 C650.2,1071.2 651.4,1070.0 652.6,1068.9 C653.8,1067.7 655.0,1066.6 656.2,1065.4 C657.4,1064.2 658.5,1063.1 659.7,1061.9 C660.9,1060.7 662.1,1059.5 663.2,1058.4 C664.4,1057.2 665.6,1056.0 666.7,1054.8 C667.9,1053.6 669.0,1052.4 670.2,1051.2 C671.3,1050.0 672.5,1048.8 673.6,1047.5 C674.7,1046.3 675.9,1045.1 677.0,1043.9 C678.1,1042.6 679.2,1041.4 680.4,1040.2 C681.5,1038.9 682.6,1037.7 683.7,1036.5 C684.8,1035.2 685.9,1034.0 687.0,1032.7 C688.1,1031.5 689.2,1030.2 690.2,1028.9 C691.3,1027.7 692.4,1026.4 693.5,1025.1 C694.6,1023.9 695.6,1022.6 696.7,1021.3 C697.7,1020.0 698.8,1018.7 699.9,1017.5 C700.9,1016.2 702.0,1014.9 703.0,1013.6 C704.1,1012.3 705.1,1011.0 706.1,1009.7 C707.2,1008.4 708.2,1007.1 709.2,1005.8 C710.3,1004.5 711.3,1003.1 712.3,1001.8 C713.3,1000.5 714.4,999.2 715.4,997.9 C716.4,996.6 717.4,995.2 718.4,993.9 C719.4,992.6 720.4,991.2 721.4,989.9 C722.4,988.6 723.4,987.2 724.4,985.9 C725.4,984.6 726.3,983.2 727.3,981.9 C728.3,980.5 729.3,979.2 730.3,977.8 C731.2,976.5 732.2,975.1 733.2,973.8 C734.2,972.4 735.1,971.1 736.1,969.7 C737.1,968.3 738.0,967.0 739.0,965.6 C739.9,964.3 740.9,962.9 741.9,961.5 C742.8,960.2 743.8,958.8 744.7,957.4 C745.7,956.1 746.6,954.7 747.6,953.3 C748.5,952.0 749.5,950.6 750.4,949.2 C751.4,947.9 752.3,946.5 753.3,945.1 C754.2,943.7 755.2,942.4 756.1,941.0 C757.1,939.6 758.0,938.3 759.0,936.9 C759.9,935.5 760.9,934.1 761.8,932.8 C762.8,931.4 763.7,930.0 764.7,928.7 C765.6,927.3 766.6,925.9 767.5,924.5 C768.5,923.2 769.4,921.8 770.4,920.4 C771.3,919.1 772.3,917.7 773.2,916.3 C774.2,915.0 775.1,913.6 776.1,912.2 C777.1,910.9 778.0,909.5 779.0,908.2 C780.0,906.8 780.9,905.4 781.9,904.1 C782.8,902.7 783.8,901.3 784.8,900.0 C785.7,898.6 786.7,897.3 787.6,895.9 C788.6,894.5 789.5,893.1 790.4,891.8 C791.4,890.4 792.3,889.0 793.2,887.6 C794.1,886.2 795.1,884.9 796.0,883.5 C796.9,882.1 797.8,880.7 798.6,879.3 C799.5,877.8 800.4,876.4 801.2,875.0 C802.1,873.6 802.9,872.2 803.8,870.7 C804.6,869.3 805.4,867.8 806.2,866.4 C807.0,864.9 807.8,863.4 808.5,862.0 C809.3,860.5 810.0,859.0 810.8,857.5 C811.5,856.0 812.2,854.5 813.0,853.0 C813.7,851.5 814.4,850.0 815.1,848.5 C815.8,847.0 816.5,845.5 817.2,843.9 C817.8,842.4 818.5,840.9 819.2,839.4 C819.8,837.8 820.5,836.3 821.2,834.8 C821.8,833.2 822.5,831.7 823.2,830.2 C823.8,828.6 824.5,827.1 825.1,825.5 C825.8,824.0 826.4,822.5 827.1,820.9 C827.7,819.4 828.4,817.9 829.0,816.3 C829.7,814.8 830.3,813.2 831.0,811.7 C831.6,810.2 832.3,808.6 832.9,807.1 C833.6,805.6 834.2,804.0 834.9,802.5 C835.5,800.9 836.1,799.4 836.8,797.9 C837.4,796.3 838.1,794.8 838.7,793.2 C839.4,791.7 840.0,790.2 840.6,788.6 C841.3,787.1 841.9,785.5 842.6,784.0 C843.2,782.5 843.8,780.9 844.5,779.4 C845.1,777.8 845.8,776.3 846.4,774.8 C847.0,773.2 847.7,771.7 848.3,770.1 C848.9,768.6 849.6,767.1 850.2,765.5 C850.9,764.0 851.5,762.5 852.1,760.9 C852.8,759.4 853.4,757.8 854.1,756.3 C854.7,754.8 855.3,753.2 856.0,751.7 C856.6,750.1 857.3,748.6 857.9,747.1 C858.5,745.5 859.2,744.0 859.8,742.5 C860.5,740.9 861.1,739.4 861.7,737.8 C862.4,736.3 863.0,734.8 863.7,733.2 C864.3,731.7 865.0,730.2 865.6,728.6 C866.2,727.1 866.9,725.6 867.5,724.0 C868.2,722.5 868.8,721.0 869.5,719.4 C870.1,717.9 870.8,716.4 871.4,714.8 C872.1,713.3 872.7,711.8 873.4,710.2 C874.0,708.7 874.7,707.2 875.3,705.6 C876.0,704.1 876.6,702.6 877.3,701.0 C877.9,699.5 878.6,698.0 879.2,696.5 C879.9,694.9 880.6,693.4 881.2,691.9 C881.9,690.3 882.5,688.8 883.2,687.3 C883.8,685.7 884.4,684.2 885.1,682.7 C885.7,681.1 886.4,679.6 887.0,678.1 C887.7,676.5 888.3,675.0 889.0,673.5 C889.6,671.9 890.2,670.4 890.9,668.8 C891.5,667.3 892.1,665.8 892.8,664.2 C893.4,662.7 894.0,661.2 894.7,659.6 C895.3,658.1 895.9,656.5 896.5,655.0 C897.2,653.4 897.8,651.9 898.4,650.3 C899.0,648.8 899.6,647.3 900.2,645.7 C900.8,644.2 901.4,642.6 902.0,641.1 C902.6,639.5 903.2,637.9 903.8,636.4 C904.4,634.8 905.0,633.3 905.6,631.7 C906.2,630.2 906.8,628.6 907.3,627.0 C907.9,625.5 908.5,623.9 909.1,622.3 C909.6,620.8 910.2,619.2 910.7,617.6 C911.3,616.1 911.9,614.5 912.4,612.9 C912.9,611.3 913.5,609.7 914.0,608.2 C914.6,606.6 915.1,605.0 915.6,603.4 C916.1,601.8 916.7,600.2 917.2,598.6 C917.7,597.1 918.2,595.5 918.7,593.9 C919.2,592.3 919.7,590.7 920.2,589.1 C920.7,587.5 921.2,585.9 921.7,584.3 C922.1,582.7 922.6,581.1 923.1,579.5 C923.6,577.9 924.1,576.3 924.6,574.7 C925.1,573.1 925.5,571.5 926.0,569.9 C926.5,568.3 927.0,566.7 927.5,565.1 C928.0,563.5 928.5,561.9 929.0,560.3 C929.5,558.7 930.0,557.1 930.5,555.6 C931.0,554.0 931.5,552.4 932.0,550.8 C932.5,549.2 933.0,547.7 933.6,546.1 C934.1,544.5 934.6,543.0 935.1,541.4 C935.7,539.9 936.2,538.3 936.8,536.8 C937.3,535.2 937.9,533.7 938.5,532.1 C939.0,530.6 939.6,529.1 940.2,527.5 C940.8,526.0 941.4,524.5 942.0,523.0 C942.6,521.4 943.3,519.9 943.9,518.4 C944.5,516.9 945.2,515.4 945.9,513.9 C946.5,512.4 947.2,510.8 947.9,509.3 C948.6,507.8 949.3,506.3 950.0,504.8 C950.7,503.3 951.4,501.8 952.2,500.3 C952.9,498.8 953.7,497.3 954.5,495.8 C955.3,494.3 956.1,492.8 956.9,491.2 C957.7,489.7 958.5,488.2 959.4,486.7 C960.2,485.2 961.1,483.7 962.0,482.1 C962.8,480.6 963.7,479.1 964.7,477.6 C965.6,476.1 966.5,474.5 967.5,473.0 C968.5,471.6 969.5,470.2 970.6,469.0 C971.6,467.8 972.7,466.7 973.9,465.9 C975.1,465.2 976.4,464.6 977.7,464.4 C979.0,464.2 980.4,464.3 981.9,464.7 C983.4,465.0 984.9,465.7 986.5,466.5 C988.1,467.2 989.7,468.2 991.4,469.1 C993.0,470.1 994.7,471.2 996.3,472.1 C998.0,473.0 999.6,473.9 1001.2,474.6 C1002.8,475.3 1004.4,475.8 1006.0,476.2 C1007.5,476.6 1009.1,476.9 1010.6,477.0 C1012.1,477.1 1013.6,477.1 1015.1,476.9 C1016.6,476.8 1018.1,476.5 1019.6,476.1 C1021.1,475.7 1022.6,475.2 1024.1,474.6 C1025.6,474.0 1027.1,473.3 1028.6,472.5 C1030.1,471.7 1031.6,470.8 1033.2,469.9 C1034.7,469.0 1036.3,467.9 1037.9,467.0 C1039.4,466.2 1041.0,465.2 1042.6,464.6 C1044.2,464.0 1045.9,463.5 1047.5,463.3 C1049.2,463.1 1050.8,463.1 1052.4,463.4 C1054.0,463.6 1055.6,464.1 1057.0,464.7 C1058.5,465.3 1059.9,466.1 1061.1,467.0 C1062.4,468.0 1063.6,469.1 1064.7,470.2 C1065.8,471.4 1066.8,472.7 1067.7,474.1 C1068.6,475.5 1069.5,476.9 1070.3,478.4 C1071.1,479.9 1071.9,481.5 1072.6,483.1 C1073.3,484.7 1074.0,486.3 1074.7,487.9 C1075.3,489.5 1075.9,491.1 1076.5,492.7 C1077.1,494.3 1077.7,495.9 1078.2,497.5 C1078.8,499.1 1079.3,500.7 1079.8,502.3 C1080.3,503.9 1080.8,505.5 1081.2,507.1 C1081.7,508.7 1082.1,510.3 1082.6,511.9 C1083.0,513.5 1083.4,515.1 1083.8,516.7 C1084.2,518.3 1084.5,519.9 1084.9,521.5 C1085.3,523.2 1085.6,524.8 1086.0,526.4 C1086.3,528.0 1086.7,529.6 1087.0,531.2 C1087.4,532.8 1087.7,534.5 1088.0,536.1 C1088.3,537.7 1088.7,539.3 1089.0,540.9 C1089.3,542.5 1089.6,544.2 1090.0,545.8 C1090.3,547.4 1090.6,549.0 1090.9,550.7 C1091.3,552.3 1091.6,553.9 1091.9,555.6 C1092.3,557.2 1092.6,558.8 1092.9,560.4 C1093.3,562.1 1093.6,563.7 1093.9,565.3 C1094.3,567.0 1094.6,568.6 1094.9,570.2 C1095.3,571.9 1095.6,573.5 1095.9,575.2 C1096.3,576.8 1096.6,578.4 1096.9,580.1 C1097.3,581.7 1097.6,583.3 1098.0,585.0 C1098.3,586.6 1098.6,588.3 1099.0,589.9 C1099.3,591.5 1099.7,593.2 1100.0,594.8 C1100.3,596.5 1100.7,598.1 1101.0,599.7 C1101.4,601.4 1101.7,603.0 1102.0,604.7 C1102.4,606.3 1102.7,607.9 1103.1,609.6 C1103.4,611.2 1103.8,612.9 1104.1,614.5 C1104.4,616.1 1104.8,617.8 1105.1,619.4 C1105.5,621.1 1105.8,622.7 1106.1,624.3 C1106.5,626.0 1106.8,627.6 1107.2,629.2 C1107.5,630.9 1107.8,632.5 1108.2,634.1 C1108.5,635.8 1108.8,637.4 1109.2,639.0 C1109.5,640.7 1109.9,642.3 1110.2,643.9 C1110.5,645.6 1110.9,647.2 1111.2,648.8 C1111.5,650.4 1111.9,652.1 1112.2,653.7 C1112.5,655.3 1112.9,656.9 1113.2,658.6 C1113.5,660.2 1113.9,661.8 1114.2,663.4 C1114.5,665.0 1114.9,666.7 1115.2,668.3 C1115.5,669.9 1115.9,671.5 1116.2,673.1 C1116.5,674.8 1116.9,676.4 1117.2,678.0 C1117.6,679.6 1117.9,681.2 1118.2,682.8 C1118.6,684.5 1118.9,686.1 1119.3,687.7 C1119.6,689.3 1120.0,690.9 1120.3,692.5 C1120.7,694.2 1121.0,695.8 1121.4,697.4 C1121.8,699.0 1122.1,700.6 1122.5,702.3 C1122.8,703.9 1123.2,705.5 1123.6,707.1 C1124.0,708.7 1124.3,710.3 1124.7,712.0 C1125.1,713.6 1125.5,715.2 1125.9,716.8 C1126.3,718.4 1126.7,720.1 1127.1,721.7 C1127.5,723.3 1127.9,724.9 1128.3,726.6 C1128.7,728.2 1129.1,729.8 1129.5,731.4 C1129.9,733.1 1130.4,734.7 1130.8,736.3 C1131.2,738.0 1131.7,739.6 1132.1,741.2 C1132.6,742.8 1133.0,744.5 1133.5,746.1 C1133.9,747.8 1134.4,749.4 1134.9,751.0 C1135.4,752.6 1135.9,754.3 1136.4,755.9 C1136.9,757.5 1137.4,759.1 1137.9,760.8 C1138.4,762.4 1139.0,764.0 1139.6,765.6 C1140.1,767.2 1140.7,768.8 1141.3,770.3 C1141.9,771.9 1142.5,773.5 1143.2,775.0 C1143.8,776.6 1144.5,778.1 1145.1,779.6 C1145.8,781.1 1146.5,782.6 1147.3,784.1 C1148.0,785.6 1148.8,787.1 1149.6,788.5 C1150.4,790.0 1151.2,791.4 1152.0,792.8 C1152.9,794.2 1153.8,795.6 1154.7,796.9 C1155.6,798.3 1156.5,799.6 1157.5,800.9 C1158.5,802.2 1159.5,803.5 1160.6,804.7 C1161.6,806.0 1162.7,807.2 1163.8,808.3 C1165.0,809.5 1166.1,810.7 1167.3,811.8 C1168.5,812.9 1169.8,814.0 1171.0,815.1 C1172.3,816.2 1173.5,817.3 1174.8,818.3 C1176.1,819.4 1177.4,820.4 1178.8,821.4 C1180.1,822.4 1181.4,823.5 1182.8,824.5 C1184.1,825.5 1185.5,826.5 1186.9,827.5 C1188.2,828.5 1189.6,829.5 1191.0,830.5 C1192.3,831.5 1193.7,832.5 1195.0,833.5 C1196.4,834.5 1197.7,835.5 1199.0,836.6 C1200.3,837.6 1201.7,838.7 1202.9,839.7 C1204.2,840.8 1205.5,841.9 1206.7,843.0 C1208.0,844.1 1209.2,845.2 1210.4,846.4 C1211.6,847.5 1212.8,848.7 1213.9,849.9 C1215.1,851.1 1216.2,852.3 1217.3,853.5 C1218.4,854.7 1219.5,856.0 1220.6,857.2 C1221.7,858.5 1222.7,859.8 1223.8,861.0 C1224.8,862.3 1225.8,863.6 1226.9,864.9 C1227.9,866.2 1228.9,867.5 1229.9,868.9 C1230.9,870.2 1231.9,871.5 1232.9,872.9 C1233.8,874.2 1234.8,875.5 1235.8,876.9 C1236.8,878.2 1237.7,879.6 1238.7,881.0 C1239.6,882.3 1240.6,883.7 1241.5,885.1 C1242.5,886.4 1243.5,887.8 1244.4,889.1 C1245.4,890.5 1246.3,891.9 1247.3,893.2 C1248.2,894.6 1249.2,896.0 1250.2,897.3 C1251.1,898.7 1252.1,900.0 1253.1,901.4 C1254.1,902.7 1255.1,904.1 1256.1,905.4 C1257.0,906.8 1258.0,908.1 1259.1,909.4 C1260.1,910.7 1261.1,912.1 1262.1,913.4 C1263.1,914.7 1264.2,916.0 1265.2,917.3 C1266.2,918.6 1267.3,919.9 1268.3,921.2 C1269.4,922.5 1270.4,923.7 1271.5,925.0 C1272.6,926.3 1273.7,927.6 1274.7,928.8 C1275.8,930.1 1276.9,931.3 1278.0,932.6 C1279.1,933.8 1280.2,935.1 1281.3,936.3 C1282.5,937.5 1283.6,938.8 1284.7,940.0 C1285.9,941.2 1287.0,942.4 1288.1,943.6 C1289.3,944.8 1290.5,946.0 1291.6,947.2 C1292.8,948.4 1294.0,949.5 1295.1,950.7 C1296.3,951.9 1297.5,953.0 1298.7,954.2 C1299.9,955.4 1301.1,956.5 1302.3,957.7 C1303.5,958.8 1304.7,959.9 1306.0,961.1 C1307.2,962.2 1308.4,963.3 1309.7,964.4 C1310.9,965.6 1312.1,966.7 1313.4,967.8 C1314.6,968.9 1315.9,970.0 1317.1,971.1 C1318.4,972.2 1319.6,973.3 1320.9,974.4 C1322.2,975.4 1323.5,976.5 1324.7,977.6 C1326.0,978.7 1327.3,979.7 1328.6,980.8 C1329.9,981.9 1331.1,982.9 1332.4,984.0 C1333.7,985.1 1335.0,986.1 1336.3,987.2 C1337.6,988.2 1338.9,989.3 1340.2,990.3 C1341.5,991.3 1342.8,992.4 1344.2,993.4 C1345.5,994.4 1346.8,995.5 1348.1,996.5 C1349.4,997.5 1350.7,998.6 1352.0,999.6 C1353.4,1000.6 1354.7,1001.6 1356.0,1002.7 C1357.3,1003.7 1358.6,1004.7 1360.0,1005.7 C1361.3,1006.7 1362.6,1007.7 1363.9,1008.7 C1365.3,1009.7 1366.6,1010.8 1367.9,1011.8 C1369.3,1012.8 1370.6,1013.8 1371.9,1014.8 C1373.2,1015.8 1374.6,1016.8 1375.9,1017.8 C1377.2,1018.8 1378.6,1019.8 1379.9,1020.8 C1381.2,1021.8 1382.5,1022.8 1383.9,1023.8 C1385.2,1024.8 1386.5,1025.8 1387.8,1026.8 C1389.2,1027.9 1390.5,1028.9 1391.8,1029.9 C1393.1,1030.9 1394.5,1031.9 1395.8,1032.9 C1397.1,1033.9 1398.4,1034.9 1399.7,1035.9 C1401.1,1036.9 1402.4,1038.0 1403.7,1039.0 C1405.0,1040.0 1406.3,1041.0 1407.6,1042.1 C1408.9,1043.1 1410.3,1044.1 1411.6,1045.1 C1412.9,1046.2 1414.2,1047.2 1415.5,1048.2 C1416.8,1049.3 1418.1,1050.3 1419.4,1051.4 C1420.7,1052.4 1422.0,1053.5 1423.2,1054.5 C1424.5,1055.6 1425.8,1056.6 1427.1,1057.7 C1428.4,1058.8 1429.7,1059.8 1430.9,1060.9 C1432.2,1062.0 1433.5,1063.0 1434.8,1064.1 C1436.0,1065.2 1437.3,1066.3 1438.5,1067.4 C1439.8,1068.5 1441.0,1069.6 1442.3,1070.7 C1443.5,1071.8 1444.8,1072.9 1446.0,1074.0 C1447.3,1075.1 1448.5,1076.2 1449.7,1077.3 C1451.0,1078.5 1452.2,1079.6 1453.4,1080.7 C1454.6,1081.9 1455.8,1083.0 1457.0,1084.1 C1458.2,1085.3 1459.4,1086.4 1460.6,1087.6 C1461.8,1088.8 1463.0,1089.9 1464.2,1091.1 C1465.3,1092.3 1466.5,1093.4 1467.7,1094.6 C1468.8,1095.8 1470.0,1097.0 1471.1,1098.2 C1472.3,1099.4 1473.4,1100.6 1474.6,1101.8 C1475.7,1103.1 1476.8,1104.3 1477.9,1105.5 C1479.0,1106.7 1480.2,1108.0 1481.3,1109.2 C1482.4,1110.5 1483.5,1111.7 1484.5,1113.0 C1485.6,1114.2 1486.7,1115.5 1487.8,1116.8 C1488.9,1118.0 1489.9,1119.3 1491.0,1120.6 C1492.1,1121.9 1493.1,1123.2 1494.2,1124.4 C1495.2,1125.7 1496.3,1127.0 1497.3,1128.3 C1498.4,1129.6 1499.4,1130.9 1500.4,1132.2 C1501.5,1133.5 1502.5,1134.8 1503.5,1136.2 C1504.6,1137.5 1505.6,1138.8 1506.6,1140.1 C1507.6,1141.4 1508.7,1142.7 1509.7,1144.1 C1510.7,1145.4 1511.7,1146.7 1512.8,1148.0 C1513.8,1149.3 1514.8,1150.7 1515.8,1152.0 C1516.8,1153.3 1517.8,1154.6 1518.9,1156.0 C1519.9,1157.3 1520.9,1158.6 1521.9,1159.9 C1522.9,1161.3 1524.0,1162.6 1525.0,1163.9 C1526.0,1165.2 1527.0,1166.6 1528.0,1167.9 C1529.1,1169.2 1530.1,1170.5 1531.1,1171.8 C1532.2,1173.1 1533.2,1174.4 1534.2,1175.8 C1535.3,1177.1 1536.3,1178.4 1537.3,1179.7 C1538.4,1181.0 1539.4,1182.3 1540.5,1183.6 C1541.5,1184.9 1542.6,1186.2 1543.6,1187.4 C1544.7,1188.7 1545.8,1190.0 1546.8,1191.3 C1547.9,1192.6 1549.0,1193.8 1550.1,1195.1 C1551.2,1196.4 1552.2,1197.6 1553.3,1198.9 C1554.4,1200.1 1555.5,1201.4 1556.7,1202.6 C1557.8,1203.8 1558.9,1205.1 1560.0,1206.3 C1561.1,1207.5 1562.3,1208.7 1563.4,1209.9 C1564.6,1211.1 1565.7,1212.3 1566.9,1213.5 C1568.0,1214.7 1569.2,1215.9 1570.4,1217.1 C1571.6,1218.2 1572.7,1219.4 1573.9,1220.5 C1575.1,1221.7 1576.4,1222.8 1577.6,1224.0 C1578.8,1225.1 1580.0,1226.2 1581.3,1227.3 C1582.5,1228.4 1583.8,1229.5 1585.0,1230.6 C1586.3,1231.7 1587.6,1232.8 1588.8,1233.9 C1590.1,1234.9 1591.4,1236.0 1592.7,1237.0 C1594.0,1238.1 1595.3,1239.1 1596.6,1240.1 C1597.9,1241.1 1599.3,1242.1 1600.6,1243.1 C1601.9,1244.1 1603.3,1245.1 1604.6,1246.1 C1606.0,1247.1 1607.3,1248.0 1608.7,1249.0 C1610.1,1249.9 1611.5,1250.9 1612.8,1251.8 C1614.2,1252.7 1615.6,1253.6 1617.0,1254.5 C1618.4,1255.4 1619.8,1256.3 1621.3,1257.2 C1622.7,1258.0 1624.1,1258.9 1625.5,1259.7 C1627.0,1260.6 1628.4,1261.4 1629.8,1262.2 C1631.3,1263.0 1632.7,1263.8 1634.2,1264.6 C1635.7,1265.4 1637.1,1266.2 1638.6,1267.0 C1640.1,1267.7 1641.6,1268.5 1643.1,1269.2 C1644.5,1270.0 1646.0,1270.7 1647.5,1271.4 C1649.0,1272.1 1650.5,1272.9 1652.0,1273.5 C1653.6,1274.2 1655.1,1274.9 1656.6,1275.6 C1658.1,1276.3 1659.6,1276.9 1661.2,1277.6 C1662.7,1278.2 1664.2,1278.9 1665.8,1279.5 C1667.3,1280.2 1668.9,1280.8 1670.4,1281.4 C1672.0,1282.0 1673.5,1282.6 1675.1,1283.2 C1676.7,1283.8 1678.2,1284.4 1679.8,1284.9 C1681.4,1285.5 1682.9,1286.1 1684.5,1286.6 C1686.1,1287.2 1687.7,1287.7 1689.2,1288.2 C1690.8,1288.8 1692.4,1289.3 1694.0,1289.8 C1695.6,1290.3 1697.2,1290.8 1698.8,1291.3 C1700.4,1291.8 1702.0,1292.3 1703.6,1292.8 C1705.2,1293.3 1706.8,1293.7 1708.4,1294.2 C1710.0,1294.7 1711.6,1295.1 1713.2,1295.6 C1714.8,1296.0 1716.4,1296.5 1718.0,1296.9 C1719.7,1297.3 1721.3,1297.7 1722.9,1298.2 C1724.5,1298.6 1726.1,1299.0 1727.7,1299.4 C1729.4,1299.8 1731.0,1300.2 1732.6,1300.6 C1734.2,1300.9 1735.9,1301.3 1737.5,1301.7 C1739.1,1302.1 1740.7,1302.4 1742.4,1302.8 C1744.0,1303.2 1745.6,1303.5 1747.2,1303.9 C1748.9,1304.2 1750.5,1304.5 1752.1,1304.9 C1753.8,1305.2 1755.4,1305.5 1757.0,1305.8 C1758.7,1306.2 1760.3,1306.5 1761.9,1306.8 C1763.6,1307.1 1765.2,1307.4 1766.9,1307.7 C1768.5,1308.0 1770.1,1308.3 1771.8,1308.5 C1773.4,1308.8 1775.1,1309.1 1776.7,1309.4 C1778.3,1309.6 1780.0,1309.9 1781.6,1310.1 C1783.3,1310.4 1784.9,1310.6 1786.6,1310.9 C1788.2,1311.1 1789.9,1311.4 1791.5,1311.6 C1793.2,1311.8 1794.8,1312.1 1796.5,1312.3 C1798.1,1312.5 1799.8,1312.7 1801.4,1312.9 C1803.1,1313.1 1804.7,1313.3 1806.4,1313.5 C1808.0,1313.7 1809.7,1313.9 1811.3,1314.1 C1813.0,1314.3 1814.6,1314.5 1816.3,1314.7 C1817.9,1314.8 1819.6,1315.0 1821.2,1315.2 C1822.9,1315.3 1824.6,1315.5 1826.2,1315.7 C1827.9,1315.8 1829.5,1316.0 1831.2,1316.1 C1832.8,1316.3 1834.5,1316.4 1836.2,1316.5 C1837.8,1316.7 1839.5,1316.8 1841.1,1316.9 C1842.8,1317.1 1844.4,1317.2 1846.1,1317.3 C1847.8,1317.4 1849.4,1317.6 1851.1,1317.7 C1852.7,1317.8 1854.4,1317.9 1856.1,1318.0 C1857.7,1318.1 1859.4,1318.2 1861.0,1318.3 C1862.7,1318.4 1864.4,1318.5 1866.0,1318.6 C1867.7,1318.6 1869.4,1318.7 1871.0,1318.8 C1872.7,1318.9 1874.3,1319.0 1876.0,1319.0 C1877.7,1319.1 1879.3,1319.2 1881.0,1319.3 C1882.7,1319.3 1884.3,1319.4 1886.0,1319.4 C1887.7,1319.5 1889.3,1319.6 1891.0,1319.6 C1892.7,1319.7 1894.3,1319.7 1896.0,1319.8 C1897.6,1319.8 1899.3,1319.9 1901.0,1319.9 C1902.6,1320.0 1904.3,1320.0 1906.0,1320.0 C1907.6,1320.1 1909.3,1320.1 1911.0,1320.1 C1912.6,1320.2 1914.3,1320.2 1916.0,1320.2 C1917.6,1320.3 1919.3,1320.3 1921.0,1320.3 C1922.6,1320.3 1924.3,1320.4 1926.0,1320.4 C1927.7,1320.4 1929.3,1320.4 1931.0,1320.4 C1932.7,1320.4 1934.3,1320.5 1936.0,1320.5 C1937.7,1320.5 1939.3,1320.5 1941.0,1320.5 C1942.7,1320.5 1944.3,1320.5 1946.0,1320.5 C1947.7,1320.5 1949.3,1320.5 1951.0,1320.5 C1952.7,1320.6 1954.3,1320.6 1956.0,1320.6 C1957.7,1320.6 1959.3,1320.6 1961.0,1320.6 C1962.7,1320.6 1964.4,1320.6 1966.0,1320.6 C1967.7,1320.6 1969.4,1320.6 1971.0,1320.6 C1972.7,1320.5 1974.4,1320.5 1976.0,1320.5 C1977.7,1320.5 1979.4,1320.5 1981.0,1320.5 C1982.7,1320.5 1984.4,1320.5 1986.0,1320.5 C1987.7,1320.5 1989.4,1320.5 1991.0,1320.5 C1992.7,1320.5 1994.4,1320.5 1996.1,1320.5 C1997.7,1320.5 1999.4,1320.5 2001.1,1320.5 C2002.7,1320.5 2004.4,1320.5 2006.1,1320.4 C2007.7,1320.4 2009.4,1320.4 2011.1,1320.4 C2012.7,1320.4 2014.4,1320.4 2016.1,1320.4 C2017.7,1320.4 2019.4,1320.4 2021.1,1320.4 C2022.7,1320.4 2024.4,1320.4 2026.1,1320.4 C2027.7,1320.4 2029.4,1320.4 2031.1,1320.4 C2032.7,1320.4 2034.4,1320.4 2036.1,1320.4 C2037.7,1320.5 2039.4,1320.5 2041.1,1320.5 C2042.7,1320.5 2044.4,1320.5 2046.1,1320.5 C2047.7,1320.5 2049.4,1320.5 2051.1,1320.5 C2052.7,1320.6 2054.4,1320.6 2056.0,1320.6 C2057.7,1320.6 2059.4,1320.6 2061.0,1320.7 C2062.7,1320.7 2064.4,1320.7 2066.0,1320.7 C2067.7,1320.8 2069.4,1320.8 2071.0,1320.8 C2072.7,1320.8 2074.3,1320.9 2076.0,1320.9 C2077.7,1321.0 2079.3,1321.0 2081.0,1321.0 C2082.7,1321.1 2084.3,1321.1 2086.0,1321.2 C2087.6,1321.2 2089.3,1321.3 2091.0,1321.3 C2092.6,1321.4 2095.1,1321.5 2095.9,1321.5" fill="none" stroke="#BF9000" stroke-width="6.9" stroke-linejoin="round" stroke-linecap="butt"/>
<path d="M94.36,222.37 C94.7,223.3 95.5,226.2 96.4,227.8 C97.4,229.3 98.7,230.6 100.0,231.6 C101.3,232.6 102.9,233.3 104.4,233.6 C105.9,233.9 107.5,233.9 109.0,233.5 C110.5,233.2 111.9,232.4 113.3,231.6 C114.7,230.7 116.0,229.7 117.2,228.6 C118.4,227.6 119.5,226.4 120.6,225.2 C121.6,224.0 122.6,222.7 123.6,221.4 C124.6,220.0 125.5,218.6 126.4,217.2 C127.2,215.8 128.1,214.3 128.9,212.8 C129.7,211.3 130.5,209.7 131.3,208.2 C132.1,206.7 132.9,205.1 133.7,203.5 C134.5,202.0 135.3,200.4 136.1,198.9 C136.9,197.3 137.8,195.8 138.7,194.3 C139.5,192.8 140.4,191.3 141.4,189.9 C142.4,188.6 143.4,187.2 144.6,186.1 C145.7,185.0 146.9,183.9 148.3,183.2 C149.7,182.5 151.2,182.0 152.7,181.7 C154.3,181.4 155.9,181.4 157.5,181.6 C159.0,181.8 160.6,182.3 162.0,183.0 C163.4,183.6 164.7,184.6 165.9,185.7 C167.1,186.7 168.2,188.0 169.3,189.4 C170.4,190.7 171.3,192.2 172.4,193.7 C173.4,195.1 174.3,196.7 175.3,198.1 C176.4,199.5 177.4,201.0 178.4,202.3 C179.4,203.7 180.5,205.0 181.6,206.3 C182.6,207.6 183.7,208.9 184.7,210.2 C185.8,211.4 186.9,212.7 187.9,213.9 C189.0,215.2 190.1,216.4 191.1,217.6 C192.1,218.9 193.2,220.1 194.2,221.4 C195.2,222.6 196.2,223.9 197.2,225.2 C198.2,226.6 199.1,227.9 200.1,229.3 C201.0,230.7 201.9,232.1 202.7,233.5 C203.6,235.0 204.4,236.5 205.3,238.0 C206.1,239.4 206.9,240.9 207.7,242.4 C208.5,243.9 209.2,245.4 210.0,246.9 C210.7,248.4 211.5,249.9 212.2,251.4 C213.0,252.9 213.7,254.4 214.5,255.8 C215.2,257.3 216.0,258.8 216.8,260.2 C217.5,261.7 218.3,263.2 219.1,264.6 C219.9,266.1 220.8,267.5 221.6,269.0 C222.5,270.4 223.4,271.9 224.3,273.3 C225.3,274.7 226.2,276.2 227.2,277.6 C228.3,279.0 229.3,280.5 230.4,281.8 C231.6,283.0 232.7,284.3 234.0,285.2 C235.2,286.0 236.5,286.7 237.9,286.8 C239.2,286.9 240.7,286.5 242.1,285.9 C243.5,285.2 245.0,284.1 246.2,283.0 C247.5,281.8 248.7,280.4 249.7,279.0 C250.7,277.6 251.6,276.0 252.5,274.4 C253.3,272.9 254.1,271.2 254.8,269.6 C255.6,268.0 256.3,266.3 257.0,264.8 C257.8,263.2 258.6,261.7 259.4,260.3 C260.2,258.9 261.1,257.5 262.1,256.3 C263.0,255.0 264.0,253.8 265.0,252.6 C266.1,251.4 267.2,250.3 268.3,249.2 C269.4,248.1 270.5,247.0 271.7,245.9 C272.9,244.8 274.1,243.7 275.4,242.6 C276.6,241.5 277.9,240.4 279.2,239.3 C280.5,238.1 281.8,237.0 283.2,235.7 C284.5,234.5 285.9,233.1 287.2,231.8 C288.6,230.5 290.0,229.1 291.3,227.9 C292.7,226.7 294.1,225.5 295.5,224.5 C296.8,223.6 298.2,222.7 299.6,222.1 C300.9,221.6 302.2,221.3 303.5,221.3 C304.8,221.4 306.1,221.8 307.4,222.4 C308.6,223.0 309.8,224.0 311.0,225.0 C312.1,226.1 313.2,227.5 314.3,228.9 C315.3,230.3 316.3,231.9 317.2,233.5 C318.1,235.1 318.9,236.8 319.7,238.5 C320.4,240.1 321.0,241.8 321.6,243.5 C322.2,245.1 322.7,246.7 323.1,248.3 C323.6,249.9 323.9,251.5 324.3,253.1 C324.7,254.7 325.0,256.3 325.3,257.8 C325.6,259.4 326.0,261.0 326.3,262.6 C326.6,264.2 327.0,265.8 327.3,267.4 C327.7,269.0 328.0,270.6 328.4,272.2 C328.7,273.8 329.1,275.5 329.5,277.1 C329.8,278.7 330.2,280.3 330.6,282.0 C331.0,283.6 331.4,285.2 331.8,286.8 C332.2,288.5 332.6,290.1 333.0,291.7 C333.4,293.3 333.8,295.0 334.2,296.6 C334.6,298.2 335.0,299.8 335.5,301.5 C335.9,303.1 336.3,304.7 336.7,306.3 C337.2,307.9 337.6,309.5 338.0,311.1 C338.5,312.7 338.9,314.4 339.3,316.0 C339.8,317.6 340.2,319.2 340.6,320.8 C341.1,322.4 341.5,324.0 342.0,325.6 C342.4,327.2 342.8,328.8 343.3,330.4 C343.7,332.0 344.1,333.6 344.6,335.2 C345.0,336.8 345.4,338.4 345.9,340.0 C346.3,341.6 346.7,343.2 347.1,344.9 C347.5,346.5 347.9,348.1 348.3,349.7 C348.8,351.3 349.2,352.9 349.5,354.5 C349.9,356.1 350.3,357.8 350.7,359.4 C351.1,361.0 351.5,362.6 351.9,364.3 C352.2,365.9 352.6,367.5 353.0,369.1 C353.3,370.8 353.7,372.4 354.0,374.0 C354.4,375.6 354.7,377.3 355.1,378.9 C355.4,380.5 355.7,382.2 356.1,383.8 C356.4,385.5 356.7,387.1 357.0,388.7 C357.4,390.4 357.7,392.0 358.0,393.6 C358.3,395.3 358.6,396.9 358.9,398.6 C359.2,400.2 359.5,401.9 359.7,403.5 C360.0,405.1 360.3,406.8 360.6,408.4 C360.8,410.1 361.1,411.7 361.4,413.4 C361.6,415.0 361.9,416.6 362.2,418.3 C362.4,419.9 362.7,421.6 362.9,423.2 C363.1,424.9 363.4,426.5 363.6,428.2 C363.8,429.8 364.1,431.5 364.3,433.1 C364.5,434.8 364.8,436.4 365.0,438.1 C365.2,439.7 365.4,441.4 365.6,443.0 C365.8,444.7 366.1,446.3 366.3,448.0 C366.5,449.6 366.7,451.3 366.9,452.9 C367.1,454.6 367.3,456.2 367.5,457.9 C367.7,459.5 367.9,461.2 368.1,462.9 C368.3,464.5 368.5,466.2 368.7,467.8 C368.8,469.5 369.0,471.1 369.2,472.8 C369.4,474.4 369.6,476.1 369.8,477.7 C370.0,479.4 370.2,481.0 370.3,482.7 C370.5,484.4 370.7,486.0 370.9,487.7 C371.1,489.3 371.3,491.0 371.4,492.6 C371.6,494.3 371.8,495.9 372.0,497.6 C372.2,499.3 372.3,500.9 372.5,502.6 C372.7,504.2 372.9,505.9 373.0,507.5 C373.2,509.2 373.4,510.8 373.6,512.5 C373.7,514.2 373.9,515.8 374.1,517.5 C374.3,519.1 374.4,520.8 374.6,522.4 C374.8,524.1 374.9,525.8 375.1,527.4 C375.3,529.1 375.5,530.7 375.6,532.4 C375.8,534.0 376.0,535.7 376.1,537.4 C376.3,539.0 376.5,540.7 376.6,542.3 C376.8,544.0 377.0,545.6 377.1,547.3 C377.3,549.0 377.5,550.6 377.6,552.3 C377.8,553.9 378.0,555.6 378.1,557.2 C378.3,558.9 378.5,560.6 378.6,562.2 C378.8,563.9 379.0,565.5 379.1,567.2 C379.3,568.8 379.5,570.5 379.6,572.2 C379.8,573.8 379.9,575.5 380.1,577.1 C380.3,578.8 380.4,580.5 380.6,582.1 C380.8,583.8 380.9,585.4 381.1,587.1 C381.3,588.7 381.4,590.4 381.6,592.1 C381.7,593.7 381.9,595.4 382.1,597.0 C382.2,598.7 382.4,600.3 382.6,602.0 C382.7,603.7 382.9,605.3 383.0,607.0 C383.2,608.6 383.4,610.3 383.5,612.0 C383.7,613.6 383.9,615.3 384.0,616.9 C384.2,618.6 384.4,620.2 384.5,621.9 C384.7,623.6 384.9,625.2 385.0,626.9 C385.2,628.5 385.3,630.2 385.5,631.8 C385.7,633.5 385.8,635.2 386.0,636.8 C386.2,638.5 386.3,640.1 386.5,641.8 C386.7,643.4 386.8,645.1 387.0,646.8 C387.2,648.4 387.3,650.1 387.5,651.7 C387.7,653.4 387.8,655.0 388.0,656.7 C388.2,658.4 388.3,660.0 388.5,661.7 C388.7,663.3 388.8,665.0 389.0,666.6 C389.2,668.3 389.3,670.0 389.5,671.6 C389.7,673.3 389.8,674.9 390.0,676.6 C390.2,678.2 390.3,679.9 390.5,681.6 C390.7,683.2 390.8,684.9 391.0,686.5 C391.2,688.2 391.3,689.8 391.5,691.5 C391.7,693.2 391.9,694.8 392.0,696.5 C392.2,698.1 392.4,699.8 392.5,701.4 C392.7,703.1 392.9,704.8 393.0,706.4 C393.2,708.1 393.4,709.7 393.5,711.4 C393.7,713.0 393.9,714.7 394.0,716.4 C394.2,718.0 394.4,719.7 394.6,721.3 C394.7,723.0 394.9,724.6 395.1,726.3 C395.2,728.0 395.4,729.6 395.6,731.3 C395.7,732.9 395.9,734.6 396.1,736.2 C396.3,737.9 396.4,739.5 396.6,741.2 C396.8,742.9 396.9,744.5 397.1,746.2 C397.3,747.8 397.4,749.5 397.6,751.1 C397.8,752.8 398.0,754.5 398.1,756.1 C398.3,757.8 398.5,759.4 398.6,761.1 C398.8,762.7 399.0,764.4 399.1,766.1 C399.3,767.7 399.5,769.4 399.7,771.0 C399.8,772.7 400.0,774.3 400.2,776.0 C400.3,777.7 400.5,779.3 400.7,781.0 C400.9,782.6 401.0,784.3 401.2,785.9 C401.4,787.6 401.6,789.3 401.7,790.9 C401.9,792.6 402.1,794.2 402.2,795.9 C402.4,797.5 402.6,799.2 402.8,800.9 C402.9,802.5 403.1,804.2 403.3,805.8 C403.5,807.5 403.6,809.1 403.8,810.8 C404.0,812.5 404.2,814.1 404.3,815.8 C404.5,817.4 404.7,819.1 404.9,820.7 C405.0,822.4 405.2,824.0 405.4,825.7 C405.6,827.4 405.8,829.0 405.9,830.7 C406.1,832.3 406.3,834.0 406.5,835.6 C406.6,837.3 406.8,839.0 407.0,840.6 C407.2,842.3 407.4,843.9 407.5,845.6 C407.7,847.2 407.9,848.9 408.1,850.5 C408.3,852.2 408.5,853.9 408.6,855.5 C408.8,857.2 409.0,858.8 409.2,860.5 C409.4,862.1 409.5,863.8 409.7,865.5 C409.9,867.1 410.1,868.8 410.3,870.4 C410.5,872.1 410.7,873.7 410.8,875.4 C411.0,877.0 411.2,878.7 411.4,880.4 C411.6,882.0 411.8,883.7 412.0,885.3 C412.2,887.0 412.3,888.6 412.5,890.3 C412.7,891.9 412.9,893.6 413.1,895.2 C413.3,896.9 413.5,898.6 413.7,900.2 C413.9,901.9 414.1,903.5 414.3,905.2 C414.4,906.8 414.6,908.5 414.8,910.1 C415.0,911.8 415.2,913.4 415.4,915.1 C415.6,916.8 415.8,918.4 416.0,920.1 C416.2,921.7 416.4,923.4 416.6,925.0 C416.8,926.7 417.0,928.3 417.2,930.0 C417.4,931.6 417.6,933.3 417.8,934.9 C418.0,936.6 418.2,938.3 418.4,939.9 C418.6,941.6 418.8,943.2 419.0,944.9 C419.2,946.5 419.4,948.2 419.6,949.8 C419.8,951.5 420.1,953.1 420.3,954.8 C420.5,956.4 420.7,958.1 420.9,959.7 C421.1,961.4 421.3,963.0 421.5,964.7 C421.7,966.3 421.9,968.0 422.2,969.6 C422.4,971.3 422.6,973.0 422.8,974.6 C423.0,976.3 423.2,977.9 423.4,979.6 C423.7,981.2 423.9,982.9 424.1,984.5 C424.3,986.2 424.5,987.8 424.7,989.5 C425.0,991.1 425.2,992.8 425.4,994.4 C425.6,996.1 425.9,997.7 426.1,999.4 C426.3,1001.0 426.5,1002.7 426.8,1004.3 C427.0,1006.0 427.2,1007.6 427.4,1009.3 C427.7,1010.9 427.9,1012.6 428.1,1014.2 C428.4,1015.9 428.6,1017.5 428.8,1019.2 C429.1,1020.8 429.3,1022.5 429.5,1024.1 C429.8,1025.7 430.0,1027.4 430.3,1029.0 C430.5,1030.7 430.8,1032.3 431.0,1034.0 C431.3,1035.6 431.6,1037.3 431.8,1038.9 C432.1,1040.5 432.4,1042.2 432.7,1043.8 C433.0,1045.5 433.2,1047.1 433.5,1048.7 C433.8,1050.4 434.1,1052.0 434.4,1053.7 C434.8,1055.3 435.1,1056.9 435.4,1058.6 C435.7,1060.2 436.0,1061.8 436.4,1063.5 C436.7,1065.1 437.1,1066.7 437.4,1068.3 C437.8,1070.0 438.2,1071.6 438.6,1073.2 C438.9,1074.8 439.3,1076.5 439.7,1078.1 C440.1,1079.7 440.5,1081.3 441.0,1082.9 C441.4,1084.6 441.8,1086.2 442.3,1087.8 C442.7,1089.4 443.2,1091.0 443.6,1092.6 C444.1,1094.2 444.6,1095.8 445.1,1097.4 C445.6,1099.0 446.1,1100.6 446.6,1102.2 C447.1,1103.8 447.7,1105.4 448.2,1107.0 C448.8,1108.6 449.4,1110.1 450.1,1111.7 C450.7,1113.2 451.4,1114.7 452.1,1116.2 C452.9,1117.6 453.7,1119.1 454.5,1120.4 C455.4,1121.8 456.3,1123.1 457.3,1124.4 C458.4,1125.6 459.5,1126.8 460.7,1128.0 C461.8,1129.1 463.1,1130.1 464.5,1131.1 C465.9,1132.1 467.4,1132.9 468.9,1133.7 C470.4,1134.5 472.0,1135.2 473.6,1135.8 C475.2,1136.3 476.8,1136.8 478.5,1137.2 C480.1,1137.5 481.8,1137.8 483.5,1138.0 C485.2,1138.1 486.9,1138.2 488.6,1138.2 C490.3,1138.2 492.0,1138.1 493.7,1138.0 C495.4,1137.8 497.1,1137.6 498.8,1137.3 C500.5,1137.1 502.2,1136.8 503.8,1136.4 C505.5,1136.0 507.1,1135.6 508.7,1135.2 C510.3,1134.7 511.9,1134.2 513.4,1133.7 C515.0,1133.1 516.5,1132.6 518.1,1131.9 C519.6,1131.3 521.1,1130.7 522.5,1130.0 C524.0,1129.3 525.5,1128.6 526.9,1127.8 C528.4,1127.1 529.8,1126.3 531.2,1125.5 C532.6,1124.7 534.0,1123.8 535.4,1122.9 C536.7,1122.1 538.1,1121.2 539.5,1120.2 C540.8,1119.3 542.1,1118.4 543.4,1117.4 C544.8,1116.4 546.1,1115.4 547.4,1114.4 C548.7,1113.4 549.9,1112.3 551.2,1111.3 C552.5,1110.2 553.7,1109.1 555.0,1108.0 C556.2,1106.9 557.5,1105.8 558.7,1104.7 C559.9,1103.5 561.1,1102.4 562.4,1101.2 C563.6,1100.1 564.8,1098.9 566.0,1097.7 C567.2,1096.6 568.4,1095.4 569.6,1094.2 C570.7,1093.0 571.9,1091.8 573.1,1090.6 C574.3,1089.4 575.4,1088.2 576.6,1087.0 C577.8,1085.7 579.0,1084.5 580.1,1083.3 C581.3,1082.1 582.4,1080.9 583.6,1079.7 C584.8,1078.4 585.9,1077.2 587.1,1076.0 C588.2,1074.8 589.4,1073.6 590.5,1072.3 C591.7,1071.1 592.8,1069.9 594.0,1068.7 C595.1,1067.5 596.2,1066.2 597.4,1065.0 C598.5,1063.8 599.7,1062.5 600.8,1061.3 C601.9,1060.1 603.0,1058.9 604.2,1057.6 C605.3,1056.4 606.4,1055.2 607.5,1053.9 C608.7,1052.7 609.8,1051.4 610.9,1050.2 C612.0,1049.0 613.1,1047.7 614.2,1046.5 C615.3,1045.2 616.4,1044.0 617.5,1042.7 C618.6,1041.5 619.7,1040.2 620.8,1039.0 C621.9,1037.7 622.9,1036.4 624.0,1035.2 C625.1,1033.9 626.2,1032.7 627.2,1031.4 C628.3,1030.1 629.4,1028.8 630.4,1027.6 C631.5,1026.3 632.6,1025.0 633.6,1023.7 C634.7,1022.4 635.7,1021.2 636.8,1019.9 C637.8,1018.6 638.8,1017.3 639.9,1016.0 C640.9,1014.7 641.9,1013.4 643.0,1012.1 C644.0,1010.8 645.0,1009.5 646.0,1008.2 C647.0,1006.8 648.0,1005.5 649.0,1004.2 C650.0,1002.9 651.0,1001.6 652.0,1000.2 C653.0,998.9 654.0,997.6 655.0,996.2 C656.0,994.9 656.9,993.6 657.9,992.2 C658.9,990.9 659.8,989.5 660.8,988.2 C661.8,986.8 662.7,985.5 663.7,984.1 C664.6,982.7 665.6,981.4 666.5,980.0 C667.5,978.6 668.4,977.3 669.4,975.9 C670.3,974.5 671.2,973.2 672.2,971.8 C673.1,970.4 674.0,969.0 674.9,967.6 C675.9,966.3 676.8,964.9 677.7,963.5 C678.6,962.1 679.5,960.7 680.4,959.3 C681.4,957.9 682.3,956.5 683.2,955.1 C684.1,953.7 685.0,952.3 685.9,950.9 C686.8,949.5 687.7,948.1 688.5,946.7 C689.4,945.3 690.3,943.9 691.2,942.5 C692.1,941.0 693.0,939.6 693.9,938.2 C694.7,936.8 695.6,935.4 696.5,934.0 C697.4,932.5 698.2,931.1 699.1,929.7 C700.0,928.3 700.9,926.8 701.7,925.4 C702.6,924.0 703.5,922.6 704.3,921.1 C705.2,919.7 706.0,918.3 706.9,916.8 C707.8,915.4 708.6,914.0 709.5,912.5 C710.3,911.1 711.2,909.7 712.0,908.2 C712.9,906.8 713.8,905.4 714.6,903.9 C715.5,902.5 716.3,901.1 717.2,899.6 C718.0,898.2 718.8,896.7 719.7,895.3 C720.5,893.9 721.4,892.4 722.2,891.0 C723.1,889.5 723.9,888.1 724.8,886.7 C725.6,885.2 726.5,883.8 727.3,882.3 C728.1,880.9 729.0,879.4 729.8,878.0 C730.7,876.6 731.5,875.1 732.4,873.7 C733.2,872.2 734.0,870.8 734.9,869.4 C735.7,867.9 736.6,866.5 737.4,865.0 C738.3,863.6 739.1,862.1 739.9,860.7 C740.8,859.3 741.6,857.8 742.5,856.4 C743.3,855.0 744.2,853.5 745.0,852.1 C745.9,850.6 746.7,849.2 747.5,847.8 C748.4,846.3 749.2,844.9 750.1,843.5 C750.9,842.0 751.8,840.6 752.7,839.2 C753.5,837.8 754.4,836.3 755.2,834.9 C756.1,833.5 756.9,832.0 757.8,830.6 C758.7,829.2 759.5,827.8 760.4,826.4 C761.3,824.9 762.1,823.5 763.0,822.1 C763.9,820.7 764.8,819.3 765.6,817.9 C766.5,816.5 767.4,815.1 768.3,813.7 C769.2,812.3 770.1,810.9 771.0,809.5 C771.9,808.1 772.8,806.7 773.7,805.3 C774.6,803.9 775.5,802.5 776.4,801.1 C777.4,799.8 778.3,798.4 779.2,797.0 C780.1,795.6 781.1,794.3 782.0,792.9 C783.0,791.5 783.9,790.2 784.9,788.8 C785.8,787.5 786.8,786.1 787.7,784.8 C788.7,783.4 789.7,782.1 790.7,780.7 C791.7,779.4 792.6,778.1 793.6,776.7 C794.6,775.4 795.6,774.1 796.7,772.8 C797.7,771.4 798.7,770.1 799.7,768.8 C800.7,767.5 801.8,766.2 802.8,764.9 C803.8,763.6 804.9,762.3 805.9,761.0 C806.9,759.7 808.0,758.4 809.0,757.1 C810.0,755.8 811.1,754.5 812.1,753.2 C813.2,751.9 814.2,750.5 815.2,749.2 C816.3,747.9 817.3,746.6 818.3,745.3 C819.4,744.0 820.4,742.7 821.4,741.3 C822.4,740.0 823.4,738.7 824.4,737.3 C825.4,736.0 826.4,734.7 827.4,733.3 C828.4,732.0 829.4,730.6 830.4,729.2 C831.4,727.9 832.3,726.5 833.3,725.1 C834.2,723.7 835.2,722.4 836.2,721.0 C837.1,719.6 838.1,718.3 839.1,716.9 C840.0,715.5 841.0,714.2 842.0,712.9 C843.0,711.5 844.0,710.2 845.1,708.9 C846.1,707.6 847.1,706.3 848.2,705.1 C849.3,703.8 850.4,702.6 851.5,701.4 C852.6,700.2 853.8,699.0 854.9,697.9 C856.1,696.8 857.4,695.7 858.6,694.6 C859.9,693.6 861.2,692.6 862.5,691.6 C863.8,690.6 865.2,689.7 866.6,688.8 C868.0,688.0 869.4,687.1 870.9,686.4 C872.3,685.6 873.8,684.9 875.3,684.2 C876.8,683.5 878.4,682.9 879.9,682.4 C881.5,681.8 883.0,681.4 884.6,680.9 C886.2,680.5 887.9,680.2 889.5,679.9 C891.1,679.5 892.8,679.3 894.4,679.0 C896.1,678.7 897.8,678.5 899.4,678.3 C901.1,678.0 902.8,677.8 904.4,677.5 C906.1,677.2 907.8,676.9 909.4,676.6 C911.1,676.3 912.8,676.0 914.4,675.7 C916.1,675.4 917.8,675.1 919.4,674.9 C921.1,674.6 922.8,674.3 924.4,674.1 C926.1,673.9 927.7,673.7 929.4,673.5 C931.0,673.4 932.7,673.2 934.3,673.1 C935.9,673.1 937.6,673.0 939.2,673.1 C940.8,673.1 942.4,673.2 944.1,673.3 C945.7,673.5 947.3,673.7 948.9,673.9 C950.5,674.2 952.1,674.5 953.7,674.9 C955.3,675.3 956.8,675.7 958.4,676.2 C960.0,676.7 961.6,677.2 963.1,677.8 C964.7,678.4 966.2,679.0 967.8,679.6 C969.3,680.3 970.9,681.0 972.4,681.7 C973.9,682.4 975.4,683.2 976.9,683.9 C978.4,684.7 980.0,685.5 981.4,686.3 C982.9,687.1 984.4,688.0 985.9,688.8 C987.4,689.7 988.9,690.6 990.3,691.5 C991.8,692.3 993.2,693.2 994.7,694.1 C996.1,695.0 997.5,695.9 999.0,696.8 C1000.4,697.7 1001.8,698.6 1003.3,699.5 C1004.7,700.3 1006.1,701.2 1007.6,702.0 C1009.0,702.9 1010.4,703.7 1011.9,704.5 C1013.3,705.2 1014.8,706.0 1016.3,706.7 C1017.7,707.4 1019.2,708.1 1020.7,708.7 C1022.2,709.3 1023.7,709.9 1025.2,710.4 C1026.8,711.0 1028.3,711.4 1029.9,711.8 C1031.4,712.2 1033.0,712.6 1034.6,712.8 C1036.2,713.1 1037.9,713.2 1039.6,713.4 C1041.2,713.5 1042.9,713.5 1044.6,713.6 C1046.3,713.6 1048.0,713.6 1049.7,713.6 C1051.4,713.6 1053.2,713.6 1054.8,713.6 C1056.5,713.7 1058.2,713.7 1059.9,713.9 C1061.6,714.0 1063.2,714.2 1064.9,714.5 C1066.5,714.9 1068.1,715.3 1069.6,715.8 C1071.2,716.3 1072.7,717.0 1074.2,717.7 C1075.7,718.4 1077.1,719.3 1078.6,720.1 C1080.0,720.9 1081.5,721.8 1082.9,722.7 C1084.3,723.5 1085.8,724.4 1087.2,725.3 C1088.6,726.2 1090.1,727.0 1091.5,727.9 C1092.9,728.8 1094.3,729.7 1095.7,730.5 C1097.2,731.4 1098.6,732.3 1099.9,733.2 C1101.3,734.1 1102.7,735.0 1104.1,736.0 C1105.5,736.9 1106.8,737.8 1108.2,738.8 C1109.5,739.7 1110.9,740.7 1112.2,741.7 C1113.5,742.7 1114.8,743.7 1116.1,744.8 C1117.4,745.8 1118.7,746.9 1120.0,748.0 C1121.2,749.1 1122.5,750.2 1123.7,751.3 C1125.0,752.4 1126.2,753.6 1127.5,754.7 C1128.7,755.8 1130.0,756.9 1131.3,757.9 C1132.6,759.0 1133.9,760.0 1135.2,760.9 C1136.6,761.9 1137.9,762.8 1139.3,763.7 C1140.8,764.5 1142.2,765.3 1143.7,766.0 C1145.2,766.8 1146.7,767.4 1148.3,768.1 C1149.8,768.7 1151.4,769.4 1152.9,769.9 C1154.5,770.5 1156.1,771.1 1157.7,771.6 C1159.3,772.2 1160.9,772.7 1162.6,773.2 C1164.2,773.7 1165.8,774.2 1167.4,774.7 C1169.0,775.3 1170.6,775.8 1172.2,776.3 C1173.8,776.9 1175.4,777.4 1177.0,778.0 C1178.6,778.6 1180.1,779.2 1181.6,779.8 C1183.2,780.5 1184.7,781.2 1186.1,781.9 C1187.6,782.6 1189.0,783.4 1190.4,784.3 C1191.8,785.1 1193.2,786.0 1194.5,786.9 C1195.8,787.9 1197.1,788.9 1198.4,789.9 C1199.6,791.0 1200.8,792.1 1202.0,793.2 C1203.2,794.3 1204.4,795.5 1205.5,796.7 C1206.6,798.0 1207.7,799.2 1208.8,800.5 C1209.8,801.8 1210.9,803.1 1211.9,804.4 C1212.9,805.8 1213.9,807.1 1214.9,808.5 C1215.9,809.9 1216.8,811.3 1217.7,812.7 C1218.7,814.1 1219.6,815.6 1220.4,817.0 C1221.3,818.5 1222.2,819.9 1223.1,821.4 C1223.9,822.9 1224.7,824.3 1225.6,825.8 C1226.4,827.3 1227.2,828.8 1228.0,830.2 C1228.8,831.7 1229.6,833.2 1230.3,834.7 C1231.1,836.1 1231.9,837.6 1232.7,839.1 C1233.4,840.6 1234.2,842.0 1235.0,843.5 C1235.8,845.0 1236.5,846.4 1237.3,847.9 C1238.1,849.3 1238.9,850.8 1239.6,852.2 C1240.4,853.7 1241.2,855.1 1242.0,856.6 C1242.8,858.0 1243.7,859.5 1244.5,860.9 C1245.3,862.3 1246.2,863.7 1247.0,865.1 C1247.9,866.6 1248.8,868.0 1249.7,869.4 C1250.6,870.8 1251.5,872.1 1252.4,873.5 C1253.3,874.9 1254.2,876.3 1255.1,877.7 C1256.0,879.1 1257.0,880.4 1257.9,881.8 C1258.9,883.2 1259.8,884.5 1260.8,885.9 C1261.8,887.2 1262.7,888.6 1263.7,889.9 C1264.7,891.3 1265.7,892.6 1266.7,893.9 C1267.7,895.3 1268.7,896.6 1269.7,897.9 C1270.7,899.2 1271.7,900.6 1272.8,901.9 C1273.8,903.2 1274.8,904.5 1275.8,905.8 C1276.9,907.1 1277.9,908.4 1278.9,909.7 C1280.0,911.0 1281.0,912.3 1282.1,913.6 C1283.1,914.9 1284.2,916.2 1285.3,917.5 C1286.3,918.8 1287.4,920.1 1288.5,921.3 C1289.5,922.6 1290.6,923.9 1291.7,925.1 C1292.8,926.4 1293.9,927.7 1295.0,928.9 C1296.1,930.2 1297.2,931.4 1298.3,932.7 C1299.4,933.9 1300.5,935.2 1301.6,936.4 C1302.7,937.7 1303.8,938.9 1304.9,940.1 C1306.1,941.4 1307.2,942.6 1308.3,943.8 C1309.5,945.1 1310.6,946.3 1311.7,947.5 C1312.9,948.7 1314.0,949.9 1315.2,951.1 C1316.3,952.3 1317.5,953.5 1318.6,954.7 C1319.8,955.9 1320.9,957.1 1322.1,958.3 C1323.3,959.5 1324.4,960.7 1325.6,961.9 C1326.8,963.0 1328.0,964.2 1329.1,965.4 C1330.3,966.6 1331.5,967.7 1332.7,968.9 C1333.9,970.1 1335.1,971.2 1336.3,972.4 C1337.5,973.5 1338.7,974.7 1339.9,975.8 C1341.1,977.0 1342.3,978.1 1343.5,979.2 C1344.7,980.4 1346.0,981.5 1347.2,982.6 C1348.4,983.8 1349.6,984.9 1350.9,986.0 C1352.1,987.1 1353.3,988.2 1354.5,989.3 C1355.8,990.5 1357.0,991.6 1358.3,992.7 C1359.5,993.8 1360.8,994.9 1362.0,996.0 C1363.3,997.0 1364.5,998.1 1365.8,999.2 C1367.0,1000.3 1368.3,1001.4 1369.5,1002.5 C1370.8,1003.6 1372.1,1004.6 1373.3,1005.7 C1374.6,1006.8 1375.9,1007.9 1377.1,1008.9 C1378.4,1010.0 1379.7,1011.1 1381.0,1012.1 C1382.3,1013.2 1383.5,1014.2 1384.8,1015.3 C1386.1,1016.4 1387.4,1017.4 1388.7,1018.5 C1390.0,1019.5 1391.3,1020.6 1392.6,1021.6 C1393.9,1022.7 1395.2,1023.7 1396.5,1024.8 C1397.8,1025.8 1399.1,1026.9 1400.4,1027.9 C1401.7,1028.9 1403.0,1030.0 1404.3,1031.0 C1405.6,1032.1 1406.9,1033.1 1408.3,1034.1 C1409.6,1035.2 1410.9,1036.2 1412.2,1037.3 C1413.5,1038.3 1414.8,1039.3 1416.1,1040.4 C1417.4,1041.4 1418.8,1042.5 1420.1,1043.5 C1421.4,1044.6 1422.7,1045.6 1424.0,1046.7 C1425.3,1047.7 1426.6,1048.8 1427.9,1049.8 C1429.2,1050.9 1430.4,1052.0 1431.7,1053.0 C1433.0,1054.1 1434.3,1055.2 1435.6,1056.3 C1436.8,1057.3 1438.1,1058.4 1439.3,1059.5 C1440.6,1060.6 1441.8,1061.7 1443.1,1062.9 C1444.3,1064.0 1445.5,1065.1 1446.8,1066.2 C1448.0,1067.3 1449.2,1068.5 1450.4,1069.6 C1451.6,1070.8 1452.8,1071.9 1453.9,1073.1 C1455.1,1074.3 1456.3,1075.5 1457.4,1076.7 C1458.6,1077.8 1459.7,1079.0 1460.8,1080.3 C1462.0,1081.5 1463.1,1082.7 1464.2,1083.9 C1465.3,1085.1 1466.4,1086.4 1467.5,1087.6 C1468.6,1088.9 1469.7,1090.1 1470.8,1091.4 C1471.8,1092.6 1472.9,1093.9 1474.0,1095.2 C1475.0,1096.4 1476.1,1097.7 1477.1,1099.0 C1478.2,1100.3 1479.2,1101.6 1480.2,1102.9 C1481.3,1104.2 1482.3,1105.5 1483.3,1106.8 C1484.4,1108.1 1485.4,1109.4 1486.4,1110.7 C1487.4,1112.0 1488.4,1113.3 1489.4,1114.7 C1490.4,1116.0 1491.4,1117.3 1492.4,1118.7 C1493.4,1120.0 1494.4,1121.3 1495.4,1122.7 C1496.4,1124.0 1497.4,1125.3 1498.4,1126.7 C1499.3,1128.0 1500.3,1129.4 1501.3,1130.7 C1502.3,1132.1 1503.3,1133.4 1504.3,1134.8 C1505.2,1136.1 1506.2,1137.5 1507.2,1138.8 C1508.2,1140.2 1509.2,1141.5 1510.2,1142.9 C1511.1,1144.2 1512.1,1145.6 1513.1,1146.9 C1514.1,1148.3 1515.1,1149.6 1516.1,1151.0 C1517.1,1152.3 1518.0,1153.7 1519.0,1155.0 C1520.0,1156.4 1521.0,1157.7 1522.0,1159.0 C1523.0,1160.4 1524.0,1161.7 1525.0,1163.1 C1526.0,1164.4 1527.1,1165.7 1528.1,1167.1 C1529.1,1168.4 1530.1,1169.7 1531.1,1171.0 C1532.2,1172.4 1533.2,1173.7 1534.2,1175.0 C1535.3,1176.3 1536.3,1177.6 1537.4,1178.9 C1538.4,1180.2 1539.5,1181.5 1540.5,1182.8 C1541.6,1184.1 1542.7,1185.4 1543.8,1186.7 C1544.8,1187.9 1545.9,1189.2 1547.0,1190.5 C1548.1,1191.8 1549.2,1193.0 1550.3,1194.3 C1551.4,1195.5 1552.5,1196.8 1553.6,1198.0 C1554.7,1199.3 1555.8,1200.5 1556.9,1201.8 C1558.1,1203.0 1559.2,1204.2 1560.3,1205.4 C1561.5,1206.6 1562.6,1207.8 1563.8,1209.0 C1564.9,1210.2 1566.1,1211.4 1567.3,1212.6 C1568.4,1213.8 1569.6,1215.0 1570.8,1216.1 C1572.0,1217.3 1573.2,1218.5 1574.4,1219.6 C1575.6,1220.8 1576.8,1221.9 1578.0,1223.0 C1579.2,1224.2 1580.4,1225.3 1581.7,1226.4 C1582.9,1227.5 1584.1,1228.6 1585.4,1229.7 C1586.6,1230.8 1587.9,1231.8 1589.1,1232.9 C1590.4,1234.0 1591.7,1235.0 1593.0,1236.1 C1594.2,1237.1 1595.5,1238.2 1596.8,1239.2 C1598.1,1240.2 1599.4,1241.2 1600.8,1242.2 C1602.1,1243.2 1603.4,1244.2 1604.7,1245.2 C1606.1,1246.2 1607.4,1247.1 1608.8,1248.1 C1610.1,1249.0 1611.5,1250.0 1612.9,1250.9 C1614.2,1251.8 1615.6,1252.7 1617.0,1253.6 C1618.4,1254.5 1619.8,1255.4 1621.2,1256.3 C1622.6,1257.1 1624.0,1258.0 1625.5,1258.8 C1626.9,1259.7 1628.3,1260.5 1629.8,1261.3 C1631.2,1262.1 1632.7,1262.9 1634.2,1263.7 C1635.6,1264.5 1637.1,1265.3 1638.6,1266.1 C1640.0,1266.8 1641.5,1267.6 1643.0,1268.3 C1644.5,1269.1 1646.0,1269.8 1647.5,1270.5 C1649.0,1271.2 1650.6,1271.9 1652.1,1272.6 C1653.6,1273.3 1655.1,1274.0 1656.7,1274.7 C1658.2,1275.4 1659.7,1276.0 1661.3,1276.7 C1662.8,1277.3 1664.4,1278.0 1665.9,1278.6 C1667.5,1279.2 1669.0,1279.8 1670.6,1280.5 C1672.1,1281.1 1673.7,1281.7 1675.3,1282.2 C1676.9,1282.8 1678.4,1283.4 1680.0,1284.0 C1681.6,1284.6 1683.2,1285.1 1684.7,1285.7 C1686.3,1286.2 1687.9,1286.8 1689.5,1287.3 C1691.1,1287.8 1692.7,1288.4 1694.3,1288.9 C1695.9,1289.4 1697.4,1289.9 1699.0,1290.4 C1700.6,1290.9 1702.2,1291.4 1703.8,1291.9 C1705.4,1292.3 1707.0,1292.8 1708.6,1293.3 C1710.2,1293.7 1711.8,1294.2 1713.4,1294.7 C1715.0,1295.1 1716.7,1295.5 1718.3,1296.0 C1719.9,1296.4 1721.5,1296.8 1723.1,1297.2 C1724.7,1297.7 1726.3,1298.1 1727.9,1298.5 C1729.5,1298.9 1731.2,1299.3 1732.8,1299.7 C1734.4,1300.0 1736.0,1300.4 1737.6,1300.8 C1739.3,1301.2 1740.9,1301.5 1742.5,1301.9 C1744.1,1302.2 1745.7,1302.6 1747.4,1302.9 C1749.0,1303.3 1750.6,1303.6 1752.3,1303.9 C1753.9,1304.3 1755.5,1304.6 1757.1,1304.9 C1758.8,1305.2 1760.4,1305.5 1762.0,1305.8 C1763.7,1306.1 1765.3,1306.4 1766.9,1306.7 C1768.6,1307.0 1770.2,1307.3 1771.9,1307.6 C1773.5,1307.9 1775.1,1308.1 1776.8,1308.4 C1778.4,1308.6 1780.1,1308.9 1781.7,1309.2 C1783.3,1309.4 1785.0,1309.7 1786.6,1309.9 C1788.3,1310.1 1789.9,1310.4 1791.6,1310.6 C1793.2,1310.8 1794.9,1311.0 1796.5,1311.3 C1798.2,1311.5 1799.8,1311.7 1801.5,1311.9 C1803.1,1312.1 1804.8,1312.3 1806.4,1312.5 C1808.1,1312.7 1809.7,1312.9 1811.4,1313.1 C1813.0,1313.2 1814.7,1313.4 1816.3,1313.6 C1818.0,1313.8 1819.6,1313.9 1821.3,1314.1 C1823.0,1314.3 1824.6,1314.4 1826.3,1314.6 C1827.9,1314.7 1829.6,1314.9 1831.2,1315.0 C1832.9,1315.2 1834.6,1315.3 1836.2,1315.5 C1837.9,1315.6 1839.5,1315.7 1841.2,1315.9 C1842.9,1316.0 1844.5,1316.1 1846.2,1316.2 C1847.8,1316.3 1849.5,1316.5 1851.2,1316.6 C1852.8,1316.7 1854.5,1316.8 1856.2,1316.9 C1857.8,1317.0 1859.5,1317.1 1861.1,1317.2 C1862.8,1317.3 1864.5,1317.4 1866.1,1317.5 C1867.8,1317.6 1869.5,1317.6 1871.1,1317.7 C1872.8,1317.8 1874.5,1317.9 1876.1,1318.0 C1877.8,1318.0 1879.5,1318.1 1881.1,1318.2 C1882.8,1318.2 1884.4,1318.3 1886.1,1318.4 C1887.8,1318.4 1889.4,1318.5 1891.1,1318.6 C1892.8,1318.6 1894.4,1318.7 1896.1,1318.7 C1897.8,1318.8 1899.4,1318.8 1901.1,1318.9 C1902.8,1318.9 1904.4,1319.0 1906.1,1319.0 C1907.8,1319.0 1909.4,1319.1 1911.1,1319.1 C1912.8,1319.1 1914.4,1319.2 1916.1,1319.2 C1917.8,1319.2 1919.4,1319.3 1921.1,1319.3 C1922.8,1319.3 1924.4,1319.4 1926.1,1319.4 C1927.8,1319.4 1929.4,1319.4 1931.1,1319.4 C1932.8,1319.5 1934.4,1319.5 1936.1,1319.5 C1937.8,1319.5 1939.4,1319.5 1941.1,1319.6 C1942.7,1319.6 1944.4,1319.6 1946.1,1319.6 C1947.7,1319.6 1949.4,1319.6 1951.1,1319.6 C1952.7,1319.6 1954.4,1319.6 1956.1,1319.6 C1957.7,1319.7 1959.4,1319.7 1961.1,1319.7 C1962.7,1319.7 1964.4,1319.7 1966.1,1319.7 C1967.7,1319.7 1969.4,1319.7 1971.1,1319.7 C1972.7,1319.7 1974.4,1319.7 1976.1,1319.7 C1977.7,1319.7 1979.4,1319.7 1981.1,1319.7 C1982.7,1319.7 1984.4,1319.7 1986.1,1319.7 C1987.7,1319.7 1989.4,1319.7 1991.1,1319.7 C1992.7,1319.7 1994.4,1319.7 1996.1,1319.7 C1997.7,1319.7 1999.4,1319.7 2001.1,1319.7 C2002.7,1319.7 2004.4,1319.7 2006.1,1319.7 C2007.7,1319.7 2009.4,1319.7 2011.1,1319.7 C2012.7,1319.7 2014.4,1319.7 2016.1,1319.7 C2017.7,1319.7 2019.4,1319.7 2021.1,1319.7 C2022.7,1319.7 2024.4,1319.7 2026.1,1319.7 C2027.7,1319.7 2029.4,1319.7 2031.1,1319.7 C2032.7,1319.7 2034.4,1319.7 2036.1,1319.7 C2037.7,1319.7 2039.4,1319.8 2041.0,1319.8 C2042.7,1319.8 2044.4,1319.8 2046.0,1319.8 C2047.7,1319.8 2049.4,1319.8 2051.0,1319.8 C2052.7,1319.9 2054.4,1319.9 2056.0,1319.9 C2057.7,1319.9 2059.4,1319.9 2061.0,1320.0 C2062.7,1320.0 2064.4,1320.0 2066.0,1320.0 C2067.7,1320.1 2069.4,1320.1 2071.0,1320.1 C2072.7,1320.2 2074.3,1320.2 2076.0,1320.2 C2077.7,1320.3 2079.3,1320.3 2081.0,1320.4 C2082.7,1320.4 2084.3,1320.4 2086.0,1320.5 C2087.7,1320.5 2089.3,1320.6 2091.0,1320.6 C2092.7,1320.7 2095.2,1320.8 2096.0,1320.8" fill="none" stroke="#548235" stroke-width="6.9" stroke-linejoin="round" stroke-linecap="butt"/>
<path d="M94.70,1577.71 C95.0,1577.0 95.7,1575.0 96.6,1573.5 C97.5,1572.1 98.9,1570.3 100.3,1569.2 C101.7,1568.0 103.4,1566.8 104.9,1566.5 C106.4,1566.2 107.9,1566.7 109.3,1567.3 C110.7,1568.0 112.0,1569.3 113.3,1570.5 C114.6,1571.6 115.8,1572.8 116.9,1574.0 C118.0,1575.2 119.1,1576.5 120.2,1577.8 C121.2,1579.1 122.2,1580.4 123.1,1581.8 C124.0,1583.2 124.9,1584.6 125.8,1586.0 C126.6,1587.4 127.4,1588.9 128.2,1590.3 C128.9,1591.8 129.7,1593.3 130.4,1594.8 C131.1,1596.3 131.8,1597.9 132.4,1599.4 C133.1,1601.0 133.7,1602.5 134.3,1604.1 C135.0,1605.6 135.6,1607.2 136.2,1608.8 C136.8,1610.4 137.4,1611.9 138.0,1613.5 C138.6,1615.0 139.3,1616.6 139.9,1618.1 C140.6,1619.7 141.2,1621.2 142.0,1622.7 C142.7,1624.2 143.4,1625.7 144.2,1627.1 C145.0,1628.6 145.9,1630.0 146.8,1631.3 C147.7,1632.7 148.7,1634.1 149.7,1635.3 C150.8,1636.6 151.9,1637.9 153.1,1639.1 C154.3,1640.2 155.6,1641.5 156.9,1642.4 C158.3,1643.4 159.8,1644.4 161.3,1644.8 C162.8,1645.2 164.4,1645.1 166.1,1644.8 C167.7,1644.6 169.4,1643.7 171.1,1643.2 C172.8,1642.8 174.7,1642.2 176.3,1642.1 C178.0,1642.0 179.5,1642.2 180.9,1642.8 C182.3,1643.4 183.4,1644.4 184.5,1645.6 C185.6,1646.8 186.5,1648.3 187.3,1649.8 C188.2,1651.4 188.9,1653.1 189.7,1654.7 C190.5,1656.3 191.2,1657.9 191.9,1659.5 C192.5,1661.0 193.2,1662.5 193.9,1663.9 C194.5,1665.4 195.2,1666.9 195.8,1668.4 C196.4,1669.9 197.0,1671.4 197.5,1672.9 C198.1,1674.4 198.6,1676.0 199.2,1677.6 C199.8,1679.2 200.3,1680.8 200.9,1682.3 C201.4,1683.9 202.0,1685.5 202.6,1687.1 C203.2,1688.7 203.8,1690.3 204.5,1691.8 C205.1,1693.4 205.8,1694.9 206.6,1696.4 C207.4,1697.9 208.2,1699.4 209.1,1700.8 C209.9,1702.2 210.9,1703.6 211.9,1704.9 C213.0,1706.2 214.0,1707.8 215.3,1708.4 C216.6,1709.0 218.2,1709.0 219.6,1708.5 C221.1,1707.9 222.8,1706.3 224.1,1705.0 C225.3,1703.8 226.3,1702.2 227.2,1700.8 C228.1,1699.4 228.7,1697.9 229.5,1696.4 C230.2,1695.0 230.9,1693.5 231.7,1692.1 C232.5,1690.7 233.4,1689.3 234.3,1687.9 C235.2,1686.5 236.1,1685.1 237.1,1683.7 C238.0,1682.4 239.0,1681.0 240.0,1679.6 C241.0,1678.3 242.0,1676.9 243.0,1675.5 C244.0,1674.2 245.0,1672.8 245.9,1671.4 C246.9,1670.0 247.8,1668.6 248.8,1667.2 C249.7,1665.8 250.6,1664.4 251.5,1663.0 C252.3,1661.6 253.2,1660.1 254.0,1658.7 C254.8,1657.2 255.6,1655.8 256.4,1654.3 C257.2,1652.9 258.0,1651.4 258.7,1649.9 C259.5,1648.4 260.2,1646.9 260.9,1645.5 C261.6,1644.0 262.3,1642.5 263.0,1640.9 C263.6,1639.4 264.3,1637.9 264.9,1636.4 C265.6,1634.9 266.2,1633.3 266.8,1631.8 C267.4,1630.2 268.0,1628.7 268.6,1627.1 C269.2,1625.6 269.7,1624.0 270.3,1622.5 C270.9,1620.9 271.4,1619.3 271.9,1617.8 C272.5,1616.2 273.0,1614.6 273.5,1613.0 C274.0,1611.4 274.5,1609.9 275.0,1608.3 C275.5,1606.7 276.0,1605.1 276.5,1603.5 C277.0,1601.9 277.4,1600.3 277.9,1598.7 C278.4,1597.1 278.8,1595.5 279.3,1593.9 C279.7,1592.3 280.2,1590.7 280.6,1589.1 C281.1,1587.4 281.5,1585.8 282.0,1584.2 C282.4,1582.6 282.9,1581.0 283.3,1579.4 C283.8,1577.8 284.2,1576.2 284.6,1574.6 C285.1,1573.0 285.5,1571.3 286.0,1569.7 C286.4,1568.1 286.9,1566.5 287.3,1564.9 C287.8,1563.3 288.2,1561.7 288.7,1560.1 C289.1,1558.5 289.6,1556.9 290.0,1555.3 C290.5,1553.7 290.9,1552.1 291.4,1550.5 C291.9,1548.9 292.3,1547.3 292.8,1545.7 C293.2,1544.1 293.7,1542.5 294.1,1540.9 C294.6,1539.3 295.0,1537.7 295.5,1536.1 C295.9,1534.5 296.4,1532.9 296.8,1531.3 C297.2,1529.7 297.7,1528.1 298.1,1526.5 C298.5,1524.9 298.9,1523.3 299.4,1521.7 C299.8,1520.1 300.2,1518.4 300.6,1516.8 C301.0,1515.2 301.4,1513.6 301.8,1512.0 C302.2,1510.4 302.6,1508.8 303.0,1507.1 C303.4,1505.5 303.8,1503.9 304.1,1502.3 C304.5,1500.7 304.9,1499.0 305.2,1497.4 C305.6,1495.8 306.0,1494.2 306.3,1492.5 C306.7,1490.9 307.0,1489.3 307.4,1487.7 C307.7,1486.0 308.0,1484.4 308.4,1482.8 C308.7,1481.1 309.1,1479.5 309.4,1477.9 C309.7,1476.2 310.0,1474.6 310.4,1473.0 C310.7,1471.3 311.0,1469.7 311.3,1468.1 C311.6,1466.4 312.0,1464.8 312.3,1463.2 C312.6,1461.5 312.9,1459.9 313.2,1458.2 C313.5,1456.6 313.8,1455.0 314.1,1453.3 C314.4,1451.7 314.7,1450.1 315.0,1448.4 C315.3,1446.8 315.6,1445.1 315.9,1443.5 C316.2,1441.9 316.5,1440.2 316.8,1438.6 C317.1,1436.9 317.4,1435.3 317.7,1433.7 C318.0,1432.0 318.3,1430.4 318.6,1428.7 C318.9,1427.1 319.1,1425.5 319.4,1423.8 C319.7,1422.2 320.0,1420.5 320.3,1418.9 C320.6,1417.3 320.9,1415.6 321.1,1414.0 C321.4,1412.3 321.7,1410.7 322.0,1409.1 C322.3,1407.4 322.5,1405.8 322.8,1404.1 C323.1,1402.5 323.4,1400.8 323.7,1399.2 C323.9,1397.6 324.2,1395.9 324.5,1394.3 C324.8,1392.6 325.1,1391.0 325.3,1389.4 C325.6,1387.7 325.9,1386.1 326.2,1384.4 C326.5,1382.8 326.7,1381.1 327.0,1379.5 C327.3,1377.9 327.6,1376.2 327.9,1374.6 C328.2,1372.9 328.4,1371.3 328.7,1369.7 C329.0,1368.0 329.3,1366.4 329.6,1364.7 C329.9,1363.1 330.1,1361.5 330.4,1359.8 C330.7,1358.2 331.0,1356.5 331.3,1354.9 C331.6,1353.3 331.9,1351.6 332.2,1350.0 C332.5,1348.3 332.8,1346.7 333.0,1345.1 C333.3,1343.4 333.6,1341.8 333.9,1340.1 C334.2,1338.5 334.5,1336.9 334.8,1335.2 C335.1,1333.6 335.4,1332.0 335.8,1330.3 C336.1,1328.7 336.4,1327.1 336.7,1325.4 C337.0,1323.8 337.3,1322.2 337.6,1320.5 C337.9,1318.9 338.3,1317.2 338.6,1315.6 C338.9,1314.0 339.2,1312.3 339.5,1310.7 C339.9,1309.1 340.2,1307.5 340.5,1305.8 C340.9,1304.2 341.2,1302.6 341.5,1300.9 C341.9,1299.3 342.2,1297.7 342.6,1296.0 C342.9,1294.4 343.3,1292.8 343.6,1291.2 C344.0,1289.5 344.3,1287.9 344.7,1286.3 C345.0,1284.6 345.4,1283.0 345.8,1281.4 C346.1,1279.8 346.5,1278.2 346.9,1276.5 C347.2,1274.9 347.6,1273.3 348.0,1271.7 C348.4,1270.0 348.8,1268.4 349.1,1266.8 C349.5,1265.2 349.9,1263.6 350.3,1261.9 C350.7,1260.3 351.1,1258.7 351.5,1257.1 C351.9,1255.4 352.2,1253.8 352.6,1252.2 C353.0,1250.6 353.4,1249.0 353.8,1247.3 C354.2,1245.7 354.6,1244.1 355.0,1242.5 C355.4,1240.9 355.7,1239.2 356.1,1237.6 C356.5,1236.0 356.9,1234.4 357.3,1232.8 C357.6,1231.1 358.0,1229.5 358.4,1227.9 C358.7,1226.3 359.1,1224.6 359.5,1223.0 C359.8,1221.4 360.2,1219.8 360.5,1218.1 C360.9,1216.5 361.2,1214.9 361.5,1213.2 C361.9,1211.6 362.2,1210.0 362.5,1208.4 C362.8,1206.7 363.1,1205.1 363.4,1203.5 C363.8,1201.8 364.1,1200.2 364.4,1198.5 C364.7,1196.9 365.0,1195.3 365.3,1193.6 C365.6,1192.0 365.9,1190.4 366.2,1188.7 C366.5,1187.1 366.8,1185.5 367.2,1183.8 C367.5,1182.2 367.8,1180.6 368.2,1179.0 C368.5,1177.3 368.9,1175.7 369.2,1174.1 C369.6,1172.5 370.0,1170.8 370.4,1169.2 C370.8,1167.6 371.2,1166.0 371.6,1164.4 C372.1,1162.8 372.5,1161.2 373.0,1159.6 C373.5,1158.0 374.0,1156.4 374.6,1154.8 C375.1,1153.2 375.6,1151.6 376.2,1150.0 C376.8,1148.4 377.4,1146.8 378.1,1145.3 C378.8,1143.8 379.5,1142.2 380.4,1140.8 C381.3,1139.4 382.4,1137.9 383.7,1136.9 C385.0,1135.8 386.7,1134.7 388.1,1134.6 C389.5,1134.5 390.9,1135.4 392.0,1136.4 C393.2,1137.3 394.2,1139.1 395.1,1140.5 C396.0,1142.0 396.9,1143.5 397.6,1145.0 C398.4,1146.5 399.1,1148.1 399.7,1149.6 C400.3,1151.2 400.9,1152.8 401.4,1154.4 C401.9,1155.9 402.4,1157.5 402.8,1159.2 C403.3,1160.8 403.6,1162.4 404.0,1164.0 C404.4,1165.6 404.7,1167.3 405.1,1168.9 C405.4,1170.5 405.8,1172.2 406.1,1173.8 C406.4,1175.4 406.8,1177.0 407.1,1178.7 C407.5,1180.3 407.8,1181.9 408.2,1183.5 C408.5,1185.2 408.9,1186.8 409.2,1188.4 C409.6,1190.0 410.0,1191.6 410.4,1193.3 C410.7,1194.9 411.1,1196.5 411.5,1198.1 C411.9,1199.7 412.3,1201.4 412.8,1203.0 C413.2,1204.6 413.6,1206.2 414.0,1207.8 C414.5,1209.4 414.9,1211.1 415.3,1212.7 C415.8,1214.3 416.2,1215.9 416.7,1217.5 C417.2,1219.1 417.6,1220.7 418.1,1222.3 C418.6,1223.9 419.1,1225.5 419.6,1227.1 C420.1,1228.7 420.6,1230.2 421.1,1231.8 C421.6,1233.4 422.1,1235.0 422.6,1236.6 C423.2,1238.1 423.7,1239.7 424.2,1241.3 C424.8,1242.8 425.3,1244.4 425.9,1245.9 C426.4,1247.5 427.0,1249.1 427.6,1250.6 C428.1,1252.1 428.7,1253.7 429.3,1255.2 C429.9,1256.8 430.5,1258.3 431.1,1259.9 C431.7,1261.4 432.3,1262.9 432.9,1264.5 C433.6,1266.0 434.2,1267.6 434.8,1269.1 C435.5,1270.7 436.1,1272.2 436.8,1273.8 C437.5,1275.4 438.1,1276.9 438.8,1278.5 C439.5,1280.0 440.2,1281.6 440.9,1283.2 C441.7,1284.7 442.4,1286.2 443.3,1287.7 C444.1,1289.1 445.0,1290.6 445.9,1291.9 C446.9,1293.3 447.9,1294.6 449.0,1295.8 C450.0,1297.0 451.2,1298.1 452.4,1299.2 C453.6,1300.3 454.8,1301.3 456.1,1302.3 C457.4,1303.3 458.8,1304.3 460.2,1305.2 C461.5,1306.1 463.0,1306.9 464.4,1307.8 C465.9,1308.6 467.3,1309.4 468.8,1310.2 C470.3,1311.0 471.8,1311.8 473.3,1312.5 C474.8,1313.3 476.4,1314.0 477.9,1314.8 C479.4,1315.5 480.9,1316.2 482.4,1317.0 C484.0,1317.7 485.5,1318.5 487.0,1319.3 C488.5,1320.0 489.9,1320.8 491.4,1321.5 C492.9,1322.3 494.4,1323.1 495.9,1323.8 C497.4,1324.6 498.8,1325.3 500.3,1326.1 C501.8,1326.8 503.3,1327.6 504.7,1328.3 C506.2,1329.1 507.7,1329.8 509.2,1330.5 C510.7,1331.2 512.2,1332.0 513.7,1332.7 C515.2,1333.4 516.7,1334.0 518.2,1334.7 C519.7,1335.4 521.2,1336.1 522.7,1336.7 C524.3,1337.4 525.8,1338.0 527.3,1338.7 C528.9,1339.3 530.4,1340.0 531.9,1340.6 C533.5,1341.2 535.0,1341.8 536.6,1342.5 C538.1,1343.1 539.7,1343.7 541.2,1344.3 C542.8,1344.9 544.3,1345.5 545.9,1346.2 C547.4,1346.8 549.0,1347.4 550.5,1348.0 C552.1,1348.6 553.6,1349.3 555.2,1349.9 C556.7,1350.5 558.3,1351.1 559.8,1351.8 C561.4,1352.4 562.9,1353.1 564.4,1353.7 C566.0,1354.4 567.5,1355.0 569.0,1355.7 C570.5,1356.4 572.1,1357.1 573.6,1357.8 C575.1,1358.5 576.6,1359.2 578.1,1359.9 C579.6,1360.6 581.1,1361.3 582.6,1362.1 C584.1,1362.8 585.6,1363.5 587.1,1364.3 C588.6,1365.0 590.1,1365.7 591.6,1366.4 C593.1,1367.1 594.6,1367.9 596.1,1368.6 C597.6,1369.3 599.1,1369.9 600.6,1370.6 C602.1,1371.3 603.7,1371.9 605.2,1372.6 C606.7,1373.2 608.3,1373.8 609.8,1374.4 C611.3,1375.0 612.9,1375.6 614.5,1376.1 C616.0,1376.7 617.6,1377.2 619.2,1377.7 C620.8,1378.2 622.4,1378.6 624.0,1379.1 C625.6,1379.5 627.2,1380.0 628.8,1380.4 C630.4,1380.8 632.0,1381.2 633.7,1381.7 C635.3,1382.1 636.9,1382.5 638.5,1382.9 C640.1,1383.3 641.7,1383.8 643.3,1384.2 C644.9,1384.6 646.5,1385.1 648.1,1385.6 C649.7,1386.1 651.3,1386.5 652.9,1387.1 C654.5,1387.6 656.0,1388.1 657.6,1388.7 C659.1,1389.3 660.6,1389.9 662.2,1390.6 C663.7,1391.3 665.2,1392.0 666.7,1392.7 C668.1,1393.5 669.6,1394.3 671.1,1395.1 C672.5,1395.9 673.9,1396.8 675.4,1397.7 C676.8,1398.6 678.2,1399.5 679.6,1400.4 C681.0,1401.3 682.4,1402.3 683.9,1403.2 C685.3,1404.1 686.7,1405.0 688.1,1405.9 C689.5,1406.8 691.0,1407.7 692.4,1408.5 C693.9,1409.4 695.3,1410.2 696.8,1410.9 C698.3,1411.7 699.8,1412.4 701.3,1413.1 C702.8,1413.8 704.3,1414.4 705.9,1414.9 C707.4,1415.5 709.0,1416.0 710.6,1416.5 C712.2,1417.0 713.8,1417.4 715.4,1417.9 C717.0,1418.3 718.6,1418.7 720.3,1419.1 C721.9,1419.4 723.5,1419.8 725.2,1420.1 C726.8,1420.5 728.5,1420.8 730.1,1421.2 C731.7,1421.5 733.4,1421.9 735.0,1422.2 C736.6,1422.6 738.3,1422.9 739.9,1423.3 C741.5,1423.7 743.1,1424.2 744.7,1424.7 C746.2,1425.2 747.8,1425.7 749.3,1426.4 C750.8,1427.0 752.3,1427.7 753.8,1428.4 C755.3,1429.0 756.8,1429.8 758.3,1430.4 C759.8,1431.1 761.3,1431.8 762.9,1432.4 C764.4,1433.0 766.0,1433.5 767.6,1434.0 C769.2,1434.4 770.9,1434.7 772.6,1435.0 C774.3,1435.2 776.1,1435.3 777.8,1435.3 C779.5,1435.3 781.2,1435.2 782.9,1435.0 C784.5,1434.9 786.2,1434.6 787.8,1434.2 C789.4,1433.9 791.0,1433.4 792.5,1432.9 C794.1,1432.3 795.6,1431.7 797.1,1431.1 C798.6,1430.4 800.1,1429.7 801.5,1428.9 C803.0,1428.1 804.4,1427.2 805.8,1426.3 C807.2,1425.4 808.5,1424.5 809.9,1423.5 C811.2,1422.5 812.6,1421.5 813.9,1420.4 C815.2,1419.4 816.5,1418.3 817.7,1417.2 C819.0,1416.1 820.3,1415.0 821.5,1413.8 C822.7,1412.7 824.0,1411.6 825.2,1410.4 C826.4,1409.2 827.6,1408.1 828.7,1406.9 C829.9,1405.7 831.1,1404.5 832.2,1403.3 C833.4,1402.1 834.5,1400.8 835.6,1399.6 C836.7,1398.3 837.8,1397.1 838.9,1395.8 C839.9,1394.6 841.0,1393.3 842.1,1392.0 C843.1,1390.7 844.1,1389.4 845.1,1388.1 C846.2,1386.8 847.2,1385.5 848.2,1384.1 C849.1,1382.8 850.1,1381.5 851.1,1380.1 C852.0,1378.8 853.0,1377.4 853.9,1376.0 C854.9,1374.7 855.8,1373.3 856.7,1371.9 C857.6,1370.5 858.5,1369.1 859.4,1367.7 C860.3,1366.3 861.1,1364.9 862.0,1363.5 C862.9,1362.1 863.7,1360.6 864.6,1359.2 C865.4,1357.8 866.2,1356.3 867.1,1354.9 C867.9,1353.4 868.7,1352.0 869.5,1350.5 C870.3,1349.1 871.1,1347.6 871.9,1346.1 C872.7,1344.7 873.5,1343.2 874.3,1341.7 C875.1,1340.2 875.8,1338.8 876.6,1337.3 C877.4,1335.8 878.1,1334.3 878.9,1332.8 C879.6,1331.3 880.4,1329.8 881.1,1328.3 C881.8,1326.8 882.6,1325.3 883.3,1323.8 C884.0,1322.3 884.8,1320.8 885.5,1319.3 C886.2,1317.8 887.0,1316.3 887.7,1314.8 C888.4,1313.3 889.1,1311.8 889.8,1310.3 C890.5,1308.8 891.2,1307.3 891.9,1305.8 C892.7,1304.3 893.4,1302.8 894.1,1301.3 C894.8,1299.7 895.5,1298.2 896.2,1296.7 C896.8,1295.2 897.5,1293.7 898.2,1292.2 C898.9,1290.7 899.6,1289.2 900.3,1287.6 C901.0,1286.1 901.6,1284.6 902.3,1283.1 C903.0,1281.6 903.6,1280.0 904.3,1278.5 C905.0,1277.0 905.6,1275.5 906.3,1274.0 C906.9,1272.4 907.6,1270.9 908.2,1269.4 C908.9,1267.8 909.5,1266.3 910.2,1264.8 C910.8,1263.2 911.4,1261.7 912.1,1260.2 C912.7,1258.6 913.3,1257.1 914.0,1255.6 C914.6,1254.0 915.2,1252.5 915.8,1250.9 C916.4,1249.4 917.0,1247.8 917.6,1246.3 C918.2,1244.7 918.8,1243.2 919.4,1241.6 C920.0,1240.1 920.6,1238.5 921.2,1237.0 C921.8,1235.4 922.3,1233.8 922.9,1232.3 C923.5,1230.7 924.1,1229.1 924.6,1227.6 C925.2,1226.0 925.7,1224.4 926.3,1222.8 C926.8,1221.3 927.4,1219.7 927.9,1218.1 C928.5,1216.5 929.0,1214.9 929.5,1213.4 C930.1,1211.8 930.6,1210.2 931.1,1208.6 C931.6,1207.0 932.2,1205.4 932.7,1203.8 C933.2,1202.2 933.7,1200.7 934.2,1199.1 C934.7,1197.5 935.2,1195.9 935.7,1194.3 C936.2,1192.7 936.7,1191.1 937.2,1189.5 C937.7,1187.9 938.2,1186.3 938.7,1184.8 C939.2,1183.2 939.7,1181.6 940.2,1180.0 C940.7,1178.4 941.2,1176.8 941.7,1175.2 C942.2,1173.7 942.6,1172.1 943.1,1170.5 C943.6,1168.9 944.1,1167.4 944.6,1165.8 C945.1,1164.2 945.6,1162.6 946.1,1161.0 C946.6,1159.5 947.1,1157.9 947.6,1156.3 C948.1,1154.8 948.7,1153.2 949.2,1151.6 C949.7,1150.0 950.3,1148.5 950.8,1146.9 C951.3,1145.3 951.9,1143.7 952.5,1142.2 C953.0,1140.6 953.6,1139.0 954.2,1137.4 C954.8,1135.9 955.4,1134.3 956.0,1132.7 C956.6,1131.1 957.3,1129.5 957.9,1128.0 C958.6,1126.4 959.3,1124.9 960.0,1123.3 C960.7,1121.8 961.5,1120.3 962.3,1118.8 C963.1,1117.4 963.9,1115.9 964.8,1114.6 C965.7,1113.2 966.7,1111.9 967.7,1110.6 C968.7,1109.3 969.8,1108.1 971.0,1107.0 C972.1,1105.9 973.4,1104.8 974.7,1103.9 C976.0,1102.9 977.4,1102.0 978.9,1101.3 C980.4,1100.5 981.9,1099.8 983.5,1099.2 C985.1,1098.6 986.7,1098.1 988.4,1097.6 C990.0,1097.2 991.7,1096.9 993.4,1096.6 C995.1,1096.3 996.8,1096.2 998.4,1096.1 C1000.1,1096.0 1001.7,1095.9 1003.4,1095.8 C1005.0,1095.6 1006.6,1095.5 1008.2,1095.2 C1009.8,1094.9 1011.4,1094.5 1013.0,1093.9 C1014.5,1093.3 1016.0,1092.5 1017.5,1091.7 C1019.0,1090.9 1020.5,1090.0 1021.9,1089.1 C1023.3,1088.2 1024.7,1087.3 1026.0,1086.3 C1027.4,1085.4 1028.7,1084.4 1030.0,1083.4 C1031.4,1082.5 1032.7,1081.5 1034.0,1080.5 C1035.4,1079.5 1036.7,1078.4 1038.1,1077.4 C1039.5,1076.5 1041.0,1075.4 1042.4,1074.5 C1043.9,1073.7 1045.4,1072.8 1047.0,1072.3 C1048.5,1071.8 1050.1,1071.5 1051.7,1071.5 C1053.3,1071.4 1055.0,1071.8 1056.6,1072.3 C1058.2,1072.8 1059.8,1073.5 1061.3,1074.4 C1062.8,1075.3 1064.2,1076.4 1065.5,1077.5 C1066.7,1078.7 1067.9,1079.9 1068.9,1081.3 C1070.0,1082.6 1070.9,1084.0 1071.8,1085.4 C1072.7,1086.8 1073.6,1088.3 1074.4,1089.8 C1075.2,1091.2 1075.9,1092.7 1076.7,1094.2 C1077.4,1095.7 1078.1,1097.2 1078.7,1098.8 C1079.4,1100.3 1080.0,1101.8 1080.5,1103.4 C1081.1,1104.9 1081.7,1106.5 1082.2,1108.1 C1082.7,1109.6 1083.2,1111.2 1083.7,1112.8 C1084.2,1114.4 1084.6,1116.0 1085.1,1117.6 C1085.5,1119.2 1085.9,1120.8 1086.3,1122.4 C1086.7,1124.0 1087.1,1125.6 1087.5,1127.3 C1087.8,1128.9 1088.2,1130.5 1088.5,1132.2 C1088.9,1133.8 1089.2,1135.4 1089.5,1137.1 C1089.9,1138.7 1090.2,1140.3 1090.5,1142.0 C1090.9,1143.6 1091.2,1145.2 1091.5,1146.9 C1091.8,1148.5 1092.1,1150.2 1092.5,1151.8 C1092.8,1153.4 1093.1,1155.1 1093.5,1156.7 C1093.8,1158.3 1094.1,1160.0 1094.5,1161.6 C1094.8,1163.2 1095.1,1164.9 1095.5,1166.5 C1095.8,1168.1 1096.2,1169.8 1096.5,1171.4 C1096.9,1173.0 1097.2,1174.6 1097.6,1176.3 C1097.9,1177.9 1098.3,1179.5 1098.7,1181.1 C1099.0,1182.8 1099.4,1184.4 1099.8,1186.0 C1100.2,1187.6 1100.6,1189.2 1101.0,1190.8 C1101.3,1192.5 1101.7,1194.1 1102.1,1195.7 C1102.5,1197.3 1103.0,1198.9 1103.4,1200.5 C1103.8,1202.1 1104.2,1203.7 1104.6,1205.3 C1105.1,1207.0 1105.5,1208.6 1105.9,1210.2 C1106.4,1211.8 1106.8,1213.4 1107.3,1215.0 C1107.7,1216.6 1108.2,1218.2 1108.6,1219.8 C1109.1,1221.4 1109.5,1223.0 1110.0,1224.6 C1110.4,1226.2 1110.9,1227.8 1111.4,1229.4 C1111.8,1231.0 1112.3,1232.6 1112.7,1234.2 C1113.2,1235.8 1113.7,1237.4 1114.1,1239.0 C1114.6,1240.6 1115.0,1242.2 1115.5,1243.8 C1115.9,1245.4 1116.4,1247.0 1116.8,1248.6 C1117.3,1250.2 1117.7,1251.8 1118.2,1253.5 C1118.6,1255.1 1119.0,1256.7 1119.5,1258.3 C1119.9,1259.9 1120.3,1261.5 1120.7,1263.1 C1121.1,1264.7 1121.6,1266.4 1122.0,1268.0 C1122.4,1269.6 1122.8,1271.2 1123.2,1272.8 C1123.6,1274.4 1124.0,1276.1 1124.4,1277.7 C1124.8,1279.3 1125.3,1280.9 1125.7,1282.5 C1126.1,1284.1 1126.5,1285.7 1127.0,1287.3 C1127.4,1289.0 1127.9,1290.6 1128.3,1292.2 C1128.8,1293.7 1129.3,1295.3 1129.8,1296.9 C1130.3,1298.5 1130.8,1300.1 1131.3,1301.7 C1131.8,1303.2 1132.4,1304.8 1132.9,1306.4 C1133.5,1307.9 1134.1,1309.5 1134.7,1311.0 C1135.3,1312.6 1136.0,1314.1 1136.6,1315.6 C1137.3,1317.2 1138.0,1318.7 1138.7,1320.2 C1139.4,1321.7 1140.1,1323.2 1140.9,1324.7 C1141.7,1326.1 1142.4,1327.6 1143.3,1329.0 C1144.1,1330.5 1144.9,1331.9 1145.8,1333.3 C1146.7,1334.7 1147.6,1336.1 1148.5,1337.5 C1149.5,1338.9 1150.4,1340.2 1151.4,1341.5 C1152.4,1342.9 1153.4,1344.2 1154.5,1345.4 C1155.6,1346.7 1156.7,1348.0 1157.8,1349.2 C1159.0,1350.3 1160.2,1351.5 1161.5,1352.5 C1162.8,1353.6 1164.1,1354.6 1165.6,1355.4 C1167.0,1356.3 1168.5,1357.1 1170.1,1357.9 C1171.6,1358.6 1173.2,1359.2 1174.9,1359.8 C1176.5,1360.3 1178.1,1360.8 1179.8,1361.1 C1181.4,1361.5 1183.1,1361.8 1184.7,1362.0 C1186.4,1362.2 1188.0,1362.3 1189.6,1362.4 C1191.3,1362.5 1192.9,1362.4 1194.6,1362.4 C1196.2,1362.3 1197.8,1362.2 1199.5,1362.0 C1201.1,1361.8 1202.7,1361.6 1204.4,1361.3 C1206.0,1361.0 1207.6,1360.7 1209.3,1360.4 C1210.9,1360.1 1212.5,1359.7 1214.1,1359.3 C1215.8,1358.9 1217.4,1358.5 1219.0,1358.1 C1220.6,1357.7 1222.3,1357.3 1223.9,1356.9 C1225.5,1356.5 1227.1,1356.1 1228.8,1355.6 C1230.4,1355.2 1232.0,1354.8 1233.6,1354.4 C1235.3,1354.0 1236.9,1353.6 1238.5,1353.3 C1240.1,1352.9 1241.8,1352.5 1243.4,1352.1 C1245.0,1351.7 1246.6,1351.4 1248.3,1351.0 C1249.9,1350.6 1251.5,1350.3 1253.1,1349.9 C1254.8,1349.6 1256.4,1349.2 1258.0,1348.9 C1259.7,1348.5 1261.3,1348.2 1262.9,1347.9 C1264.5,1347.5 1266.2,1347.2 1267.8,1346.9 C1269.4,1346.6 1271.1,1346.3 1272.7,1346.0 C1274.3,1345.7 1276.0,1345.4 1277.6,1345.1 C1279.3,1344.9 1280.9,1344.6 1282.5,1344.3 C1284.2,1344.1 1285.8,1343.8 1287.5,1343.6 C1289.1,1343.3 1290.7,1343.1 1292.4,1342.8 C1294.0,1342.6 1295.7,1342.4 1297.3,1342.1 C1299.0,1341.9 1300.6,1341.7 1302.3,1341.5 C1303.9,1341.3 1305.6,1341.1 1307.2,1340.9 C1308.9,1340.7 1310.5,1340.5 1312.2,1340.3 C1313.8,1340.1 1315.5,1340.0 1317.1,1339.8 C1318.8,1339.6 1320.4,1339.4 1322.1,1339.3 C1323.8,1339.1 1325.4,1338.9 1327.1,1338.8 C1328.7,1338.6 1330.4,1338.5 1332.0,1338.3 C1333.7,1338.2 1335.4,1338.0 1337.0,1337.9 C1338.7,1337.7 1340.3,1337.6 1342.0,1337.5 C1343.7,1337.3 1345.3,1337.2 1347.0,1337.1 C1348.6,1336.9 1350.3,1336.8 1352.0,1336.7 C1353.6,1336.5 1355.3,1336.4 1357.0,1336.3 C1358.6,1336.2 1360.3,1336.0 1361.9,1335.9 C1363.6,1335.8 1365.3,1335.7 1366.9,1335.5 C1368.6,1335.4 1370.3,1335.3 1371.9,1335.2 C1373.6,1335.0 1375.2,1334.9 1376.9,1334.8 C1378.6,1334.7 1380.2,1334.6 1381.9,1334.4 C1383.6,1334.3 1385.2,1334.2 1386.9,1334.1 C1388.6,1333.9 1390.2,1333.8 1391.9,1333.7 C1393.5,1333.5 1395.2,1333.4 1396.9,1333.3 C1398.5,1333.2 1400.2,1333.0 1401.9,1332.9 C1403.5,1332.8 1405.2,1332.6 1406.8,1332.5 C1408.5,1332.3 1410.2,1332.2 1411.8,1332.1 C1413.5,1331.9 1415.1,1331.8 1416.8,1331.6 C1418.5,1331.5 1420.1,1331.4 1421.8,1331.2 C1423.4,1331.1 1425.1,1330.9 1426.8,1330.8 C1428.4,1330.7 1430.1,1330.5 1431.7,1330.4 C1433.4,1330.2 1435.1,1330.1 1436.7,1330.0 C1438.4,1329.8 1440.0,1329.7 1441.7,1329.5 C1443.4,1329.4 1445.0,1329.3 1446.7,1329.1 C1448.3,1329.0 1450.0,1328.9 1451.7,1328.7 C1453.3,1328.6 1455.0,1328.5 1456.6,1328.3 C1458.3,1328.2 1460.0,1328.1 1461.6,1327.9 C1463.3,1327.8 1464.9,1327.7 1466.6,1327.6 C1468.3,1327.4 1469.9,1327.3 1471.6,1327.2 C1473.2,1327.1 1474.9,1327.0 1476.6,1326.9 C1478.2,1326.7 1479.9,1326.6 1481.5,1326.5 C1483.2,1326.4 1484.9,1326.3 1486.5,1326.2 C1488.2,1326.1 1489.8,1326.0 1491.5,1325.9 C1493.2,1325.8 1494.8,1325.7 1496.5,1325.6 C1498.1,1325.5 1499.8,1325.5 1501.5,1325.4 C1503.1,1325.3 1504.8,1325.2 1506.5,1325.1 C1508.1,1325.1 1509.8,1325.0 1511.4,1324.9 C1513.1,1324.9 1514.8,1324.8 1516.4,1324.7 C1518.1,1324.7 1519.8,1324.6 1521.4,1324.6 C1523.1,1324.5 1524.8,1324.5 1526.4,1324.4 C1528.1,1324.4 1529.7,1324.3 1531.4,1324.3 C1533.1,1324.2 1534.7,1324.2 1536.4,1324.1 C1538.1,1324.1 1539.7,1324.1 1541.4,1324.0 C1543.1,1324.0 1544.7,1324.0 1546.4,1323.9 C1548.1,1323.9 1549.7,1323.9 1551.4,1323.9 C1553.0,1323.8 1554.7,1323.8 1556.4,1323.8 C1558.0,1323.8 1559.7,1323.8 1561.4,1323.7 C1563.0,1323.7 1564.7,1323.7 1566.4,1323.7 C1568.0,1323.7 1569.7,1323.7 1571.4,1323.6 C1573.0,1323.6 1574.7,1323.6 1576.4,1323.6 C1578.0,1323.6 1579.7,1323.6 1581.4,1323.6 C1583.0,1323.6 1584.7,1323.6 1586.4,1323.6 C1588.0,1323.6 1589.7,1323.5 1591.4,1323.5 C1593.0,1323.5 1594.7,1323.5 1596.4,1323.5 C1598.0,1323.5 1599.7,1323.5 1601.4,1323.5 C1603.0,1323.5 1604.7,1323.5 1606.4,1323.5 C1608.0,1323.5 1609.7,1323.5 1611.3,1323.5 C1613.0,1323.5 1614.7,1323.5 1616.3,1323.5 C1618.0,1323.5 1619.7,1323.5 1621.3,1323.5 C1623.0,1323.5 1624.7,1323.5 1626.3,1323.5 C1628.0,1323.5 1629.7,1323.5 1631.3,1323.5 C1633.0,1323.5 1634.7,1323.5 1636.3,1323.4 C1638.0,1323.4 1639.7,1323.4 1641.3,1323.4 C1643.0,1323.4 1644.7,1323.4 1646.3,1323.4 C1648.0,1323.4 1649.7,1323.4 1651.3,1323.4 C1653.0,1323.4 1654.7,1323.4 1656.3,1323.4 C1658.0,1323.4 1659.7,1323.4 1661.3,1323.4 C1663.0,1323.4 1664.7,1323.4 1666.3,1323.4 C1668.0,1323.4 1669.7,1323.4 1671.3,1323.4 C1673.0,1323.4 1674.6,1323.4 1676.3,1323.4 C1678.0,1323.4 1679.6,1323.4 1681.3,1323.4 C1683.0,1323.4 1684.6,1323.4 1686.3,1323.4 C1688.0,1323.4 1689.6,1323.4 1691.3,1323.4 C1693.0,1323.4 1694.6,1323.4 1696.3,1323.4 C1698.0,1323.4 1699.6,1323.4 1701.3,1323.4 C1703.0,1323.4 1704.6,1323.4 1706.3,1323.4 C1708.0,1323.4 1709.6,1323.4 1711.3,1323.4 C1713.0,1323.4 1714.6,1323.4 1716.3,1323.4 C1718.0,1323.4 1719.6,1323.4 1721.3,1323.4 C1722.9,1323.4 1724.6,1323.4 1726.3,1323.4 C1727.9,1323.4 1729.6,1323.4 1731.3,1323.4 C1732.9,1323.4 1734.6,1323.4 1736.3,1323.4 C1737.9,1323.4 1739.6,1323.4 1741.3,1323.4 C1742.9,1323.4 1744.6,1323.4 1746.3,1323.4 C1747.9,1323.4 1749.6,1323.4 1751.3,1323.4 C1752.9,1323.4 1754.6,1323.4 1756.3,1323.4 C1757.9,1323.4 1759.6,1323.4 1761.3,1323.4 C1762.9,1323.4 1764.6,1323.4 1766.3,1323.4 C1767.9,1323.4 1769.6,1323.4 1771.2,1323.4 C1772.9,1323.4 1774.6,1323.4 1776.2,1323.4 C1777.9,1323.4 1779.6,1323.4 1781.2,1323.4 C1782.9,1323.4 1784.6,1323.4 1786.2,1323.4 C1787.9,1323.4 1789.6,1323.4 1791.2,1323.4 C1792.9,1323.4 1794.6,1323.4 1796.2,1323.4 C1797.9,1323.4 1799.6,1323.4 1801.2,1323.4 C1802.9,1323.4 1804.6,1323.4 1806.2,1323.4 C1807.9,1323.4 1809.5,1323.4 1811.2,1323.4 C1812.9,1323.4 1814.5,1323.4 1816.2,1323.4 C1817.9,1323.4 1819.5,1323.4 1821.2,1323.4 C1822.9,1323.4 1824.5,1323.4 1826.2,1323.4 C1827.9,1323.4 1829.5,1323.4 1831.2,1323.4 C1832.9,1323.4 1834.5,1323.4 1836.2,1323.4 C1837.9,1323.4 1839.5,1323.4 1841.2,1323.4 C1842.9,1323.4 1844.5,1323.4 1846.2,1323.4 C1847.9,1323.4 1849.5,1323.4 1851.2,1323.4 C1852.8,1323.4 1854.5,1323.4 1856.2,1323.4 C1857.8,1323.4 1859.5,1323.4 1861.2,1323.4 C1862.8,1323.4 1864.5,1323.4 1866.2,1323.4 C1867.8,1323.4 1869.5,1323.4 1871.2,1323.4 C1872.8,1323.4 1874.5,1323.4 1876.2,1323.4 C1877.8,1323.4 1879.5,1323.4 1881.2,1323.4 C1882.8,1323.4 1884.5,1323.4 1886.2,1323.4 C1887.8,1323.4 1889.5,1323.4 1891.1,1323.4 C1892.8,1323.4 1894.5,1323.4 1896.1,1323.4 C1897.8,1323.4 1899.5,1323.4 1901.1,1323.4 C1902.8,1323.4 1904.5,1323.4 1906.1,1323.4 C1907.8,1323.4 1909.5,1323.4 1911.1,1323.4 C1912.8,1323.4 1914.5,1323.4 1916.1,1323.4 C1917.8,1323.4 1919.5,1323.4 1921.1,1323.4 C1922.8,1323.4 1924.5,1323.4 1926.1,1323.4 C1927.8,1323.4 1929.5,1323.4 1931.1,1323.4 C1932.8,1323.4 1934.4,1323.4 1936.1,1323.4 C1937.8,1323.4 1939.4,1323.4 1941.1,1323.4 C1942.8,1323.4 1944.4,1323.4 1946.1,1323.4 C1947.8,1323.4 1949.4,1323.4 1951.1,1323.4 C1952.8,1323.4 1954.4,1323.4 1956.1,1323.4 C1957.8,1323.4 1959.4,1323.4 1961.1,1323.4 C1962.8,1323.4 1964.4,1323.4 1966.1,1323.4 C1967.8,1323.4 1969.4,1323.4 1971.1,1323.4 C1972.8,1323.4 1974.4,1323.4 1976.1,1323.4 C1977.7,1323.4 1979.4,1323.4 1981.1,1323.4 C1982.7,1323.4 1984.4,1323.4 1986.1,1323.4 C1987.7,1323.4 1989.4,1323.4 1991.1,1323.4 C1992.7,1323.4 1994.4,1323.4 1996.1,1323.4 C1997.7,1323.4 1999.4,1323.4 2001.1,1323.4 C2002.7,1323.4 2004.4,1323.4 2006.1,1323.4 C2007.7,1323.4 2009.4,1323.4 2011.1,1323.4 C2012.7,1323.4 2014.4,1323.4 2016.1,1323.4 C2017.7,1323.4 2019.4,1323.4 2021.1,1323.4 C2022.7,1323.4 2024.4,1323.4 2026.0,1323.4 C2027.7,1323.4 2029.4,1323.4 2031.0,1323.4 C2032.7,1323.4 2034.4,1323.4 2036.0,1323.4 C2037.7,1323.4 2039.4,1323.4 2041.0,1323.4 C2042.7,1323.4 2044.4,1323.4 2046.0,1323.4 C2047.7,1323.4 2049.4,1323.4 2051.0,1323.4 C2052.7,1323.4 2054.4,1323.4 2056.0,1323.4 C2057.7,1323.4 2059.4,1323.4 2061.0,1323.4 C2062.7,1323.4 2064.4,1323.4 2066.0,1323.4 C2067.7,1323.4 2069.4,1323.4 2071.0,1323.4 C2072.7,1323.4 2074.4,1323.4 2076.0,1323.4 C2077.7,1323.4 2079.4,1323.4 2081.0,1323.4 C2082.7,1323.4 2084.3,1323.4 2086.0,1323.4 C2087.7,1323.4 2089.3,1323.4 2091.0,1323.4 C2092.7,1323.4 2095.2,1323.4 2096.0,1323.4" fill="none" stroke="#7030A0" stroke-width="6.9" stroke-linejoin="round" stroke-linecap="butt"/>
<path d="M329,265 H439.2 V343.2 H329 V299 L301.5,303.7 L329,278.4 Z" fill="#fff" stroke="#BFBFBF" stroke-width="3.6" stroke-linejoin="miter" stroke-miterlimit="2"/>
<path d="M252.5,1082.25 H360.75 V1129 L397.5,1146.2 L360.75,1147.8 V1159.75 H252.5 Z" fill="#fff" stroke="#BFBFBF" stroke-width="3.6" stroke-linejoin="miter" stroke-miterlimit="2"/>
<path d="M937.5,597.5 H1045.5 V675 H981.25 L910,703.75 L955,675 H937.5 Z" fill="#fff" stroke="#BFBFBF" stroke-width="3.6" stroke-linejoin="miter" stroke-miterlimit="2"/>
<path d="M838.75,1028 H949.5 V1074.75 L990.8,1098 L949.5,1094.8 V1106 H838.75 Z" fill="#fff" stroke="#BFBFBF" stroke-width="3.6" stroke-linejoin="miter" stroke-miterlimit="2"/>
<path d="M1077.5,998.7 H1187.7 V1076.6 H1077.5 V1065 L1060,1072.8 L1077.5,1045.6 Z" fill="#fff" stroke="#BFBFBF" stroke-width="3.6" stroke-linejoin="miter" stroke-miterlimit="2"/>
<g><text x="387.20" y="320.45" font-size="42.84" fill="#C00000" text-anchor="middle" textLength="79.34" lengthAdjust="spacingAndGlyphs" style="font-weight:400" stroke="#C00000" stroke-width="1.90" stroke-linejoin="round">240</text><text x="308.12" y="1137.25" font-size="42.84" fill="#7030A0" text-anchor="middle" textLength="77.79" lengthAdjust="spacingAndGlyphs" style="font-weight:400" stroke="#7030A0" stroke-width="1.90" stroke-linejoin="round">253</text><text x="992.50" y="653.75" font-size="42.84" fill="#C00000" text-anchor="middle" textLength="81.54" lengthAdjust="spacingAndGlyphs" style="font-weight:400" stroke="#C00000" stroke-width="1.90" stroke-linejoin="round">328</text><text x="896.00" y="1082.35" font-size="42.84" fill="#7030A0" text-anchor="middle" textLength="79.54" lengthAdjust="spacingAndGlyphs" style="font-weight:400" stroke="#7030A0" stroke-width="1.90" stroke-linejoin="round">339</text><text x="1135.35" y="1053.55" font-size="42.84" fill="#7030A0" text-anchor="middle" textLength="79.84" lengthAdjust="spacingAndGlyphs" style="font-weight:400" stroke="#7030A0" stroke-width="1.90" stroke-linejoin="round">350</text><text x="94.80" y="1406.25" font-size="42.84" fill="#000" text-anchor="middle" textLength="77.54" lengthAdjust="spacingAndGlyphs" style="font-weight:400" stroke="#000" stroke-width="1.90" stroke-linejoin="round">210</text><text x="439.55" y="1406.25" font-size="42.84" fill="#000" text-anchor="middle" textLength="77.54" lengthAdjust="spacingAndGlyphs" style="font-weight:400" stroke="#000" stroke-width="1.90" stroke-linejoin="round">260</text><text x="784.30" y="1406.25" font-size="42.84" fill="#000" text-anchor="middle" textLength="77.54" lengthAdjust="spacingAndGlyphs" style="font-weight:400" stroke="#000" stroke-width="1.90" stroke-linejoin="round">310</text><text x="1129.05" y="1406.25" font-size="42.84" fill="#000" text-anchor="middle" textLength="77.54" lengthAdjust="spacingAndGlyphs" style="font-weight:400" stroke="#000" stroke-width="1.90" stroke-linejoin="round">360</text><text x="1473.80" y="1406.25" font-size="42.84" fill="#000" text-anchor="middle" textLength="77.54" lengthAdjust="spacingAndGlyphs" style="font-weight:400" stroke="#000" stroke-width="1.90" stroke-linejoin="round">410</text><text x="1818.55" y="1406.25" font-size="42.84" fill="#000" text-anchor="middle" textLength="77.54" lengthAdjust="spacingAndGlyphs" style="font-weight:400" stroke="#000" stroke-width="1.90" stroke-linejoin="round">460</text></g>
<text x="1863.80" y="1446.50" font-size="54.00" fill="#000" text-anchor="middle" textLength="385.40" lengthAdjust="spacingAndGlyphs">Wavelength, nm</text>
<text transform="translate(67.7,893.3) rotate(-90)" x="0" y="0" font-size="54" fill="#000" text-anchor="middle" textLength="273" lengthAdjust="spacingAndGlyphs">Absorbance</text>
<line x1="1493" y1="345.10" x2="1590" y2="345.10" stroke="#C00000" stroke-width="6.4" stroke-linecap="round"/>
<text x="1599" y="361.20" font-size="45.50" fill="#000" textLength="51.40" lengthAdjust="spacingAndGlyphs">8a</text>
<line x1="1493" y1="427.40" x2="1590" y2="427.40" stroke="#C55A11" stroke-width="6.4" stroke-linecap="round"/>
<text x="1599" y="443.50" font-size="45.50" fill="#000" textLength="113.10" lengthAdjust="spacingAndGlyphs">Zn(II)</text>
<line x1="1493" y1="509.70" x2="1590" y2="509.70" stroke="#BF9000" stroke-width="6.4" stroke-linecap="round"/>
<text x="1599" y="525.80" font-size="45.50" fill="#000" textLength="305.00" lengthAdjust="spacingAndGlyphs">Mix 8a + Zn(II)</text>
<line x1="1493" y1="592.00" x2="1590" y2="592.00" stroke="#548235" stroke-width="6.4" stroke-linecap="round"/>
<text x="1599" y="608.10" font-size="45.50" fill="#000" textLength="331.80" lengthAdjust="spacingAndGlyphs">Sum: 8a + Zn(II)</text>
<line x1="1493" y1="674.30" x2="1590" y2="674.30" stroke="#7030A0" stroke-width="6.4" stroke-linecap="round"/>
<text x="1599" y="690.40" font-size="45.50" fill="#000" textLength="408.30" lengthAdjust="spacingAndGlyphs">shift of absorbance</text>
</svg></body></html>
